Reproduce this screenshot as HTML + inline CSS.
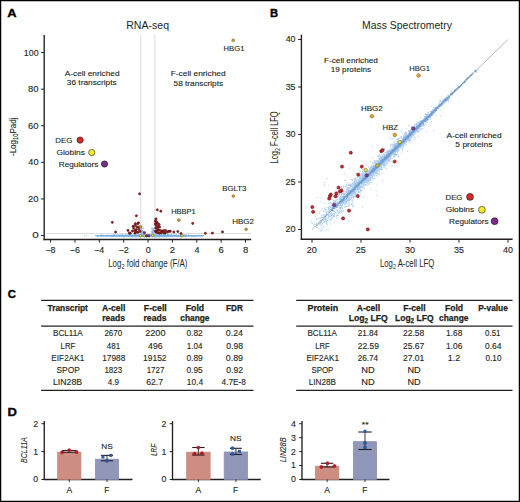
<!DOCTYPE html>
<html><head><meta charset="utf-8"><style>
html,body{margin:0;padding:0;background:#fff;}
svg{display:block;font-family:"Liberation Sans",sans-serif;}
</style></head><body>
<svg width="520" height="502" viewBox="0 0 520 502" fill="#231f20">
<rect x="0" y="0" width="520" height="502" fill="#fff"/>
<text x="7.35" y="17.10" font-size="11.7" textLength="9.34" lengthAdjust="spacingAndGlyphs" font-weight="bold" fill="#000" stroke="#000" stroke-width="0.35">A</text>
<text x="270.05" y="17.00" font-size="11.7" textLength="8.11" lengthAdjust="spacingAndGlyphs" font-weight="bold" fill="#000" stroke="#000" stroke-width="0.35">B</text>
<text x="7.75" y="297.60" font-size="11.7" textLength="8.30" lengthAdjust="spacingAndGlyphs" font-weight="bold" fill="#000" stroke="#000" stroke-width="0.35">C</text>
<text x="7.50" y="416.40" font-size="11.7" textLength="9.39" lengthAdjust="spacingAndGlyphs" font-weight="bold" fill="#000" stroke="#000" stroke-width="0.35">D</text>
<text x="126.25" y="29.00" font-size="10.6" textLength="42.77" lengthAdjust="spacingAndGlyphs">RNA-seq</text>
<line x1="140.60" y1="34.50" x2="140.60" y2="239.00" stroke="#e6e6e6" stroke-width="1.5"/>
<line x1="154.80" y1="34.50" x2="154.80" y2="239.00" stroke="#e6e6e6" stroke-width="1.5"/>
<line x1="46.00" y1="233.50" x2="251.00" y2="233.50" stroke="#d5d5d5" stroke-width="0.8"/>
<path d="M143.4 236.0h0M143.9 235.7h0M131.1 235.7h0M168.4 236.0h0M167.0 235.9h0M155.3 235.9h0M117.6 236.2h0M157.3 236.0h0M117.1 235.0h0M131.8 235.6h0M153.6 235.8h0M157.6 235.5h0M153.7 236.0h0M136.0 236.6h0M158.2 236.3h0M136.7 235.5h0M141.8 235.8h0M159.6 235.9h0M139.9 235.4h0M138.5 236.3h0M133.3 235.9h0M155.8 235.1h0M148.9 236.4h0M111.2 235.7h0M146.1 235.4h0M157.1 235.8h0M121.3 236.2h0M160.3 236.2h0M174.4 236.0h0M150.2 235.2h0M159.3 235.5h0M139.8 235.2h0M130.4 235.6h0M171.6 234.9h0M121.4 235.9h0M174.4 236.1h0M113.3 234.7h0M154.6 235.5h0M127.6 236.2h0M168.2 235.9h0M152.5 236.0h0M177.2 236.1h0M157.5 236.0h0M119.4 236.4h0M165.5 236.0h0M112.0 235.5h0M163.4 235.0h0M144.7 236.3h0M124.1 236.5h0M158.1 235.7h0M154.0 236.1h0M150.2 236.3h0M136.0 235.6h0M167.1 235.8h0M132.0 236.2h0M174.8 235.6h0M122.8 235.7h0M145.3 235.7h0M173.7 235.3h0M171.1 235.2h0M133.7 236.1h0M168.7 236.2h0M154.4 235.9h0M150.8 236.1h0M144.8 235.9h0M158.5 235.8h0M162.0 236.1h0M184.8 235.9h0M140.2 235.6h0M147.8 236.2h0M141.9 236.0h0M181.6 234.6h0M127.5 235.9h0M155.3 235.9h0M140.2 236.1h0M153.2 235.6h0M192.4 236.0h0M137.9 235.8h0M143.9 235.8h0M98.2 235.6h0M166.5 235.3h0M146.8 236.2h0M163.7 236.5h0M117.0 235.6h0M141.8 236.1h0M168.0 234.6h0M167.9 235.1h0M160.5 235.1h0M151.3 236.3h0M145.3 235.9h0M162.6 235.9h0M146.4 236.5h0M167.2 235.7h0M198.2 235.3h0M164.8 235.7h0M150.5 236.1h0M152.1 236.1h0M120.1 235.1h0M159.3 235.4h0M129.3 235.1h0M171.2 236.1h0M175.0 235.4h0M148.1 235.3h0M162.0 236.5h0M131.8 236.5h0M166.1 235.7h0M112.0 236.4h0M146.3 235.5h0M155.4 236.0h0M175.4 235.3h0M168.8 236.5h0M174.6 235.7h0M134.5 236.3h0M150.2 235.9h0M174.1 235.7h0M106.1 235.6h0M114.2 236.2h0M153.8 235.5h0M147.9 236.2h0M149.5 236.4h0M146.9 236.3h0M175.3 236.5h0M135.8 236.2h0M113.8 235.3h0M112.2 236.3h0M125.5 235.8h0M144.5 235.8h0M137.2 235.9h0M180.8 235.8h0M157.8 236.3h0M144.4 235.2h0M137.9 236.3h0M118.0 235.5h0M166.5 236.2h0M148.2 236.2h0M151.1 235.3h0M119.5 235.5h0M164.9 235.5h0M131.6 235.5h0M120.1 235.7h0M126.5 236.0h0M104.9 235.9h0M136.3 234.9h0M161.3 235.7h0M107.3 235.4h0M153.4 235.6h0M162.3 236.1h0M160.2 235.9h0M172.4 236.1h0M156.3 234.9h0M164.4 236.4h0M142.6 235.6h0M183.5 235.0h0M156.6 236.9h0M131.1 236.1h0M182.5 235.7h0M158.3 236.2h0M131.5 235.8h0M153.4 236.2h0M147.4 235.7h0M129.5 235.6h0M164.3 235.8h0M132.5 235.4h0M196.8 236.3h0M159.7 234.6h0M159.4 236.0h0M178.8 236.0h0M146.8 236.0h0M112.5 236.3h0M154.0 235.5h0M172.3 236.6h0M122.4 235.5h0M153.4 235.9h0M140.8 235.4h0M186.8 236.3h0M126.2 235.2h0M179.2 236.2h0M181.3 236.2h0M132.1 235.9h0M108.6 235.5h0M147.0 236.0h0M134.8 235.7h0M156.4 236.0h0M159.7 235.9h0M142.1 236.2h0M149.0 235.4h0M136.6 235.8h0M146.0 235.9h0M148.0 235.9h0M145.6 235.2h0M155.7 236.3h0M156.0 235.7h0M156.2 235.4h0M113.4 235.8h0M131.0 236.1h0M128.2 234.6h0M129.1 236.5h0M141.1 235.2h0M134.1 236.0h0M157.1 235.9h0M175.2 236.1h0M147.7 236.1h0M178.3 236.2h0M166.8 235.3h0M145.3 236.1h0M142.6 236.3h0M158.9 236.2h0M144.2 236.9h0M170.7 235.7h0M149.7 237.0h0M141.8 236.2h0M166.0 235.8h0M126.7 235.9h0M154.6 236.3h0M162.4 235.8h0M163.6 236.0h0M151.8 235.8h0M143.6 236.1h0M128.8 235.5h0M148.1 235.1h0M140.1 234.9h0M135.6 236.1h0M158.4 235.8h0M143.8 235.2h0M181.4 236.0h0M168.0 235.4h0M144.7 235.0h0M162.3 236.2h0M113.4 235.8h0M159.6 235.0h0M114.7 235.3h0M136.6 235.2h0M148.6 235.9h0M159.6 236.1h0M175.5 236.3h0M124.1 235.6h0M128.7 235.3h0M146.6 235.8h0M157.0 235.1h0M125.4 235.8h0M144.4 235.7h0M146.9 235.5h0M160.9 236.0h0M146.4 235.5h0M144.9 234.6h0M130.1 235.8h0M120.6 235.9h0M150.7 235.2h0M143.5 235.7h0M156.5 236.1h0M147.4 235.4h0M145.4 235.8h0M161.5 235.9h0M134.8 235.2h0M141.2 235.5h0M127.7 235.7h0M139.1 235.8h0M157.6 235.6h0M190.5 235.7h0M168.2 235.9h0M168.4 234.7h0M134.3 235.9h0M159.1 236.9h0M153.9 236.4h0M162.1 236.2h0M157.4 235.7h0M157.4 235.3h0M169.6 235.3h0M152.6 236.8h0M144.0 235.8h0M169.3 235.8h0M133.3 235.9h0M158.7 236.1h0M133.9 236.6h0M178.5 235.8h0M153.0 235.6h0M173.9 235.5h0M160.4 235.6h0M135.4 236.1h0M172.4 235.8h0M135.7 236.2h0M147.1 235.9h0M175.9 236.3h0M138.6 236.8h0M148.1 236.2h0M136.2 235.8h0M116.1 236.6h0M173.0 235.3h0M120.6 235.1h0M169.5 235.6h0M146.9 235.7h0M145.8 235.3h0M148.5 235.2h0M146.7 235.9h0M156.6 235.7h0M131.5 235.9h0M139.2 236.5h0M162.1 235.7h0M139.4 235.5h0M130.9 235.6h0M153.4 236.0h0M158.4 236.7h0M135.2 235.8h0M199.1 235.0h0M138.5 235.9h0M150.9 236.0h0M143.7 236.0h0M149.0 236.1h0M113.5 235.4h0M148.0 235.3h0M129.0 236.1h0M136.2 236.1h0M161.7 235.9h0M157.3 235.8h0M122.3 235.8h0M156.3 235.6h0M146.2 236.1h0M132.0 236.1h0M182.1 235.6h0M150.7 235.7h0M176.2 235.9h0M164.5 235.5h0M147.8 235.8h0M115.6 236.4h0M164.5 235.0h0M161.6 235.7h0M156.2 236.0h0M120.7 235.7h0M175.3 235.5h0M129.4 235.2h0M125.7 236.0h0M179.0 236.0h0M152.5 236.8h0M138.6 235.5h0M157.7 236.0h0M129.5 235.3h0M153.4 235.9h0M124.2 235.7h0M138.1 236.0h0M145.9 235.8h0M141.6 236.3h0M173.5 235.6h0M163.5 235.5h0M149.4 236.1h0M175.7 235.6h0M146.7 235.9h0M120.7 235.8h0M135.7 236.0h0M127.4 234.9h0M148.7 235.9h0M138.0 236.2h0M143.1 235.5h0M156.8 235.1h0M135.7 235.8h0M163.6 235.7h0M153.7 235.5h0M153.6 236.5h0M135.5 236.9h0M136.3 235.8h0M151.2 236.3h0M125.4 234.9h0M159.1 236.2h0M159.4 237.0h0M151.8 235.9h0M165.0 236.0h0M178.4 235.2h0M141.2 234.2h0M162.9 235.6h0M164.9 236.8h0M147.9 235.7h0M138.9 235.4h0M136.5 236.1h0M148.7 235.8h0M144.9 236.2h0M157.1 235.7h0M160.2 235.7h0M127.0 236.5h0M156.6 235.4h0M167.8 236.0h0M119.5 236.5h0M154.1 236.2h0M151.7 235.7h0M119.8 236.2h0M148.6 235.7h0M154.5 235.8h0M160.4 235.6h0M147.4 234.8h0M140.3 236.1h0M172.5 235.6h0M145.8 236.5h0M142.1 236.1h0M178.7 235.8h0M170.5 235.5h0M151.8 235.8h0M150.1 236.3h0M191.7 235.5h0M137.5 236.0h0M128.8 236.0h0M158.5 235.7h0M157.8 235.1h0M161.9 235.1h0M135.3 235.5h0M140.7 236.2h0M149.5 235.6h0M158.0 236.5h0M148.2 236.0h0M170.7 235.9h0M124.6 236.9h0M188.4 234.9h0M147.3 236.0h0M165.7 236.1h0M143.1 235.3h0M149.9 236.3h0M128.1 235.3h0M147.6 234.9h0M143.3 235.6h0M156.3 235.5h0M131.9 235.6h0M147.1 235.5h0M148.3 236.1h0M169.7 236.6h0M133.7 235.6h0M102.7 236.7h0M134.8 235.8h0M157.6 235.2h0M156.5 235.8h0M114.7 235.9h0M169.9 235.0h0M162.8 235.9h0M156.7 236.0h0M171.9 235.7h0M164.0 235.6h0M161.3 235.4h0M146.1 236.6h0M156.2 235.7h0M127.1 235.4h0M151.6 236.2h0M155.8 236.0h0M147.3 236.4h0M140.9 235.6h0M164.3 235.8h0M143.0 235.5h0M143.4 236.1h0M154.5 235.3h0M155.8 235.9h0M129.8 236.1h0M142.9 235.6h0M162.6 236.4h0M135.5 236.0h0M132.0 236.8h0M139.0 236.3h0M136.2 236.2h0M188.6 234.7h0M140.1 236.0h0M146.4 235.5h0M187.4 235.8h0M118.0 236.2h0M116.6 236.3h0M137.5 235.9h0M171.1 235.9h0M122.6 235.0h0M169.7 236.1h0M133.1 236.2h0M157.1 236.1h0M106.8 235.7h0M164.5 236.1h0M164.2 234.7h0M151.1 236.0h0M194.7 235.4h0M142.0 235.8h0M164.2 235.6h0M169.0 235.4h0M152.9 235.6h0M150.9 235.5h0M118.9 236.3h0M153.6 235.5h0M151.7 236.2h0M130.2 235.8h0M157.9 236.0h0M141.9 234.9h0M170.8 235.9h0M148.3 235.7h0M152.9 235.6h0M129.3 235.5h0M137.1 235.5h0M126.9 236.1h0M124.1 236.1h0M129.5 236.0h0M173.2 235.9h0M134.7 235.8h0M150.8 235.0h0M136.9 235.9h0M139.5 235.8h0M161.5 236.1h0M164.6 236.1h0M142.8 235.8h0M143.1 235.7h0M144.8 235.0h0M142.0 235.8h0M130.3 235.8h0M157.5 235.7h0M186.0 234.6h0M144.3 235.0h0M166.0 237.0h0M102.3 235.9h0M157.5 235.7h0M158.1 234.8h0M163.6 236.0h0M148.5 235.5h0M159.7 235.6h0M152.1 235.6h0M107.0 235.8h0M151.7 236.1h0M132.0 235.8h0M159.3 235.9h0M170.7 236.7h0M131.4 234.9h0M163.7 236.5h0M164.9 236.2h0M136.7 235.5h0M164.3 235.4h0M114.9 235.4h0M193.6 236.7h0M135.5 235.5h0M152.3 235.5h0M172.0 235.8h0M128.2 236.4h0M137.4 235.9h0M147.8 235.7h0M154.0 235.5h0M114.4 234.8h0M124.9 235.5h0M147.6 235.8h0M158.2 235.9h0M133.6 235.5h0M109.3 235.7h0M156.9 236.0h0M145.8 235.7h0M165.2 235.8h0M161.5 236.1h0M151.9 236.4h0M137.6 235.6h0M133.3 235.4h0M176.5 236.6h0M148.5 236.1h0M169.5 236.2h0M170.1 235.2h0M136.4 236.0h0M174.3 235.8h0M132.4 235.6h0M136.0 235.4h0M175.5 235.5h0M148.4 236.8h0M169.7 236.0h0M136.9 236.0h0M177.7 236.1h0M171.1 235.8h0M157.5 235.7h0M155.8 236.4h0M121.9 235.8h0M152.4 235.5h0M142.4 236.2h0M184.6 236.1h0M154.0 235.1h0M183.3 235.8h0M147.4 235.3h0M147.0 235.3h0M149.3 236.0h0M148.6 235.9h0M132.5 236.4h0M136.1 235.0h0M144.6 235.5h0M129.6 235.6h0M153.4 235.3h0M145.5 236.4h0M160.5 235.7h0M150.4 235.7h0M147.2 236.1h0M146.4 234.7h0M147.7 235.4h0M159.9 235.5h0M150.8 236.8h0M128.9 235.3h0M122.3 234.7h0M113.7 236.0h0M136.4 235.0h0M121.0 236.1h0M133.9 235.6h0M154.1 236.4h0M183.5 236.3h0M150.7 235.9h0M181.0 236.4h0M142.4 236.0h0M153.3 235.8h0M138.9 235.2h0M138.3 235.1h0M170.4 236.0h0M126.0 236.4h0M164.3 234.9h0M181.7 236.2h0M185.8 235.2h0M157.7 236.0h0M151.7 235.9h0M167.3 235.1h0M125.4 235.2h0M137.9 235.5h0M154.8 235.9h0M148.6 235.5h0M140.0 236.2h0M162.0 235.8h0M142.2 236.5h0M137.2 236.1h0M169.1 235.7h0M163.1 235.3h0M166.5 235.9h0M119.1 236.1h0M131.7 236.4h0M135.6 235.7h0M153.2 235.7h0M152.8 235.6h0M160.3 235.8h0M151.9 234.6h0M169.3 235.8h0M115.5 235.8h0M156.6 236.3h0M128.3 236.5h0M145.1 236.9h0M145.4 236.1h0M141.4 235.3h0M168.1 236.2h0M176.2 236.2h0M137.6 235.1h0M136.2 235.5h0M133.2 236.1h0M154.0 235.7h0M151.2 235.7h0M151.9 236.1h0M165.6 235.5h0M120.5 236.4h0M150.1 236.3h0M118.0 235.7h0M148.5 235.2h0M138.6 236.1h0M167.8 236.5h0M132.3 235.2h0M157.6 236.2h0M151.6 235.2h0M162.3 236.2h0M158.2 235.6h0M153.6 236.2h0M137.8 235.0h0M154.1 236.0h0M148.3 236.2h0M137.3 235.8h0M142.5 236.1h0M177.2 235.7h0M185.6 236.5h0M162.5 236.1h0M180.4 235.7h0M146.0 235.3h0M156.7 236.4h0M157.8 236.0h0M144.4 235.9h0M122.0 236.3h0M140.6 235.3h0M134.3 235.4h0M163.7 236.3h0M123.2 236.2h0M164.3 235.5h0M120.9 235.5h0M136.5 236.0h0M141.5 234.9h0M152.3 235.1h0M164.6 235.3h0M135.4 235.4h0M138.1 236.4h0M163.6 236.1h0M153.9 235.1h0M138.5 235.6h0M130.2 236.0h0M134.5 235.5h0M129.0 234.9h0M158.9 236.4h0M151.2 235.4h0M98.6 235.9h0M170.3 235.9h0M165.0 236.5h0M168.6 235.6h0M167.3 236.1h0M120.0 235.6h0M122.0 235.8h0M158.6 235.3h0M110.5 236.4h0M154.9 236.5h0M123.9 236.3h0M185.9 236.7h0M144.2 235.9h0M145.2 236.2h0M167.0 235.8h0M123.2 236.1h0M139.5 236.1h0M152.9 236.5h0M168.8 235.6h0M154.4 236.6h0M138.2 236.0h0M169.8 236.4h0M157.5 235.2h0M125.0 235.9h0M155.1 236.9h0M132.3 236.3h0M162.1 235.0h0M133.1 235.9h0M139.0 235.7h0M156.6 235.4h0M156.6 235.5h0M138.1 236.0h0M137.6 235.9h0M177.3 235.8h0M145.4 236.1h0M141.4 236.3h0M124.6 236.1h0M138.7 235.4h0M180.4 235.4h0M180.1 236.1h0M174.6 235.4h0M170.0 236.5h0M145.9 235.7h0M192.9 235.9h0M140.3 235.5h0M156.2 235.9h0M151.3 236.6h0M142.1 236.0h0M174.7 235.3h0M167.0 236.6h0M123.3 235.3h0M129.1 235.0h0M156.3 235.0h0M157.2 236.5h0M118.5 235.7h0M113.0 236.2h0M134.6 235.7h0M149.0 236.0h0M141.7 235.8h0M138.1 235.9h0M126.6 235.8h0M112.7 235.6h0M183.0 235.8h0M125.0 235.9h0M130.3 235.1h0M134.6 236.1h0M155.1 235.8h0M131.1 235.3h0M172.7 235.9h0M130.7 234.9h0M123.0 236.9h0M127.1 235.8h0M151.9 235.7h0M143.0 235.2h0M128.8 236.6h0M134.2 236.2h0M117.1 235.7h0M152.8 236.3h0M127.5 236.1h0M155.1 235.5h0M156.8 235.4h0M133.5 235.8h0M98.5 235.8h0M129.8 235.1h0M140.3 236.1h0M140.7 236.4h0M126.9 235.2h0M176.4 236.0h0M165.3 235.4h0M162.7 235.9h0M159.9 235.8h0M170.1 235.5h0M130.4 235.1h0M169.3 235.5h0M129.0 235.4h0M139.9 235.2h0M142.7 235.5h0M138.0 235.4h0M148.7 235.6h0M150.1 235.9h0M154.3 234.8h0M138.3 235.4h0M162.2 235.1h0M135.0 235.7h0M141.9 236.2h0M140.0 236.2h0M121.3 235.0h0M170.3 236.0h0M157.0 235.9h0M156.9 235.3h0M165.4 235.6h0M166.1 235.8h0M112.0 235.2h0M168.7 235.7h0M140.8 235.9h0M140.3 235.6h0M149.9 235.9h0M175.8 235.8h0M182.4 236.6h0M179.4 236.3h0M150.4 235.9h0M145.4 235.5h0M146.8 235.5h0M178.0 236.0h0M139.9 234.9h0M147.1 235.6h0M128.2 235.3h0M106.9 236.1h0M146.8 237.0h0M147.5 235.7h0M174.4 235.9h0M151.1 235.6h0M137.0 236.5h0M166.3 236.6h0M141.7 235.8h0M132.0 236.2h0M122.6 236.1h0M168.1 236.4h0M130.9 236.3h0M135.0 235.5h0M123.9 236.3h0M178.2 235.5h0M134.2 235.6h0M193.9 236.3h0M138.1 235.0h0M135.8 236.3h0M182.2 235.7h0M135.4 235.6h0M113.6 236.2h0M128.2 236.3h0M116.9 235.2h0M153.3 235.5h0M162.3 235.8h0M126.6 236.1h0M163.4 234.9h0M181.4 236.0h0M161.9 235.0h0M134.9 235.6h0M167.7 235.1h0M131.9 234.9h0M143.6 236.0h0M117.2 235.5h0M157.4 236.5h0M160.2 235.7h0M126.5 235.4h0M135.9 235.9h0M147.1 236.6h0M153.3 235.3h0M176.3 236.2h0M149.9 235.5h0M113.9 235.3h0M164.7 235.4h0M123.9 235.9h0M152.5 236.1h0M160.0 236.4h0M132.7 236.2h0M130.0 236.1h0M151.3 235.9h0M165.7 235.8h0M168.4 236.2h0M150.5 235.5h0M134.3 235.6h0M144.4 235.8h0M202.5 236.1h0M162.1 235.4h0M135.1 235.7h0M151.6 235.3h0M177.5 235.5h0M167.8 234.7h0M147.9 235.9h0M151.5 236.1h0M153.2 235.9h0M113.5 235.5h0M105.3 236.1h0M153.7 235.7h0M133.0 235.5h0M181.8 236.6h0M147.0 236.4h0M119.0 234.9h0M139.2 235.4h0M137.8 235.9h0M203.3 235.5h0M149.0 235.9h0M147.4 236.2h0M180.5 235.2h0M151.0 235.7h0M154.6 235.1h0M115.9 234.8h0M157.6 235.9h0M149.4 234.7h0M141.2 235.5h0M122.2 235.4h0M160.8 236.0h0M147.6 236.0h0M137.0 235.8h0M148.8 236.0h0M146.8 235.7h0M145.6 235.5h0M188.9 236.0h0M155.9 236.8h0M173.7 235.1h0M160.8 236.2h0M182.5 236.4h0M162.1 235.3h0M132.1 235.9h0M157.3 235.3h0M141.0 235.6h0M149.2 236.0h0M142.8 235.2h0M170.8 236.5h0M146.1 236.3h0M156.2 236.1h0M156.8 235.5h0M158.5 236.3h0M131.7 236.7h0M186.2 236.6h0M184.4 236.1h0M141.9 235.5h0M133.2 235.9h0M147.4 236.1h0M111.1 236.8h0M189.6 235.8h0M160.4 236.0h0M153.0 235.7h0M145.8 235.4h0M151.3 235.8h0M153.9 235.4h0M148.8 235.8h0M159.1 235.3h0M155.7 236.2h0M159.0 235.6h0M139.1 235.7h0M161.4 236.5h0M145.2 235.5h0M154.9 235.9h0M131.5 235.5h0M146.2 236.1h0M126.3 235.3h0M157.2 235.2h0M150.0 236.0h0M146.0 235.3h0M147.0 235.7h0M154.2 235.4h0M168.0 235.0h0M144.8 235.8h0M165.6 235.5h0M158.0 235.5h0M161.5 236.6h0M140.7 236.0h0M131.1 236.2h0M170.2 235.8h0M127.3 236.0h0M169.0 236.3h0M162.9 235.0h0M135.6 236.4h0M125.7 236.3h0M182.4 236.1h0M168.5 235.7h0M125.7 235.8h0M144.4 235.8h0M160.8 235.7h0M151.6 236.0h0M148.0 236.6h0M156.1 235.8h0M144.3 235.5h0M172.6 235.9h0M128.3 235.5h0M145.6 235.6h0M167.9 235.3h0M157.0 235.9h0M126.5 235.8h0M146.3 236.0h0M139.8 235.9h0M117.6 235.3h0M162.4 236.3h0M147.8 235.5h0M167.8 234.9h0M133.4 236.1h0M160.0 235.3h0M113.6 236.5h0M150.8 235.4h0M149.0 236.2h0M100.7 236.3h0M161.6 234.9h0M162.1 235.0h0M168.9 236.0h0M189.2 235.5h0M148.1 236.3h0M136.4 235.5h0M141.3 235.8h0M128.3 236.0h0M158.0 235.8h0M179.1 235.7h0M171.9 235.6h0M161.9 234.9h0M151.7 235.7h0M139.0 235.5h0M141.7 235.5h0M108.0 235.5h0M138.0 235.6h0M128.7 235.7h0M162.4 235.7h0M139.0 236.4h0M165.9 236.2h0M169.2 235.7h0M145.7 236.3h0M137.9 235.7h0M155.0 236.0h0M143.0 236.2h0M144.8 236.1h0M167.6 236.1h0M161.4 235.3h0M124.1 235.5h0M156.7 236.5h0M125.7 235.9h0M132.4 235.5h0M143.0 236.1h0M151.9 236.3h0M130.0 236.2h0M165.0 235.8h0M156.8 235.5h0M128.1 235.6h0M136.3 237.1h0M139.2 236.5h0M151.7 235.9h0M161.6 235.4h0M164.8 236.0h0M120.4 236.1h0M158.1 236.0h0M177.0 235.6h0M157.4 236.1h0M131.6 236.3h0M121.5 235.2h0M157.6 235.3h0M145.9 235.1h0M149.3 235.3h0M154.3 235.1h0M156.2 235.7h0M149.2 235.8h0M150.4 235.2h0M101.2 235.8h0M131.0 235.6h0M155.8 234.9h0M134.1 235.5h0M128.7 235.9h0M145.5 235.4h0M130.1 236.2h0M136.0 236.1h0M156.3 234.9h0M128.3 235.8h0M154.3 236.2h0M162.7 236.3h0M141.2 235.7h0M162.2 235.6h0M167.4 235.1h0M160.0 235.7h0M112.1 236.2h0M153.7 235.8h0M128.4 235.6h0M175.7 235.4h0M84.6 235.4h0M126.1 235.7h0M140.9 235.4h0M132.7 236.3h0M121.7 236.7h0M138.1 235.3h0M162.4 236.1h0M129.0 236.1h0M114.4 235.4h0M168.6 235.7h0M124.3 236.0h0M164.8 235.8h0M115.0 235.6h0M155.7 236.1h0M181.9 235.7h0M139.2 235.8h0M170.1 235.4h0M171.9 234.6h0M162.6 235.5h0M156.4 236.1h0M126.4 235.8h0M152.4 236.1h0M131.1 235.4h0M112.9 236.9h0M144.5 235.7h0M120.7 236.2h0M138.3 236.4h0M163.6 235.8h0M161.3 235.3h0M142.1 235.5h0M124.9 235.8h0M145.4 236.4h0M86.8 235.5h0M131.3 235.6h0M155.8 236.0h0M148.6 235.6h0M157.1 236.0h0M114.4 235.7h0M122.9 235.3h0M150.7 235.8h0M150.1 235.4h0M144.4 235.4h0M155.0 236.1h0M180.1 236.4h0M133.3 235.6h0M130.9 235.9h0M184.2 236.1h0M107.9 235.2h0M124.4 236.0h0M148.1 235.9h0M180.6 235.4h0M132.6 236.7h0M154.3 235.4h0M111.0 235.1h0M103.4 235.8h0M148.9 236.2h0M145.5 235.5h0M134.5 236.7h0M115.8 235.9h0M148.5 236.1h0M140.7 236.0h0M163.0 235.7h0M139.7 235.7h0M130.4 235.7h0M142.5 235.9h0M172.5 236.4h0M139.9 236.1h0M153.4 236.1h0M148.4 235.9h0M139.5 235.4h0M164.0 236.4h0M160.1 236.0h0M152.9 235.6h0M115.5 236.1h0M151.7 235.6h0M130.4 236.4h0M115.1 236.6h0M159.7 236.9h0M134.9 235.8h0M138.8 235.9h0M144.2 235.5h0M167.7 235.4h0M138.8 236.0h0M138.2 235.6h0M154.6 235.6h0M125.3 235.8h0M144.0 236.6h0M128.0 236.2h0M133.7 235.6h0M142.1 235.9h0M163.8 236.6h0M136.4 236.4h0M166.2 236.2h0M134.2 236.2h0M146.1 236.0h0M143.1 236.1h0M168.4 236.3h0M144.3 236.2h0M174.6 235.4h0M174.9 235.2h0M158.0 236.1h0M175.1 235.9h0M139.3 235.4h0M125.2 236.1h0M143.7 235.5h0M157.8 235.5h0M140.1 235.6h0M178.3 236.5h0M145.2 235.1h0M153.1 235.8h0M154.4 236.1h0M142.2 236.2h0M163.3 235.9h0M140.6 235.6h0M160.7 235.3h0M145.1 235.5h0M122.6 236.1h0M147.6 235.8h0M164.0 235.1h0M146.8 235.9h0M163.3 235.3h0M161.1 235.9h0M172.8 236.3h0M158.1 236.8h0M148.0 235.6h0M141.8 235.4h0M147.5 235.0h0M146.5 236.0h0M166.2 235.6h0M173.4 235.5h0M145.6 235.0h0M134.1 235.4h0M174.7 236.0h0M128.3 236.0h0M156.6 235.7h0M148.5 235.7h0M138.4 235.0h0M146.4 236.4h0M173.6 235.7h0M134.7 235.7h0M164.1 236.0h0M137.6 236.0h0M144.4 236.0h0M140.8 235.2h0M149.1 236.1h0M128.3 235.8h0M163.7 235.6h0M136.5 236.7h0M162.8 236.3h0M131.2 236.5h0M118.6 235.6h0M161.2 236.4h0M131.5 235.5h0M151.5 235.0h0M159.4 236.0h0M140.1 236.0h0M161.8 235.9h0M157.3 236.5h0M139.6 235.9h0M138.8 236.3h0M140.8 236.0h0M150.5 235.8h0M178.5 235.8h0M173.1 236.2h0M171.4 235.7h0M164.5 236.1h0M137.2 235.9h0M145.8 235.8h0M171.0 235.5h0M118.3 235.0h0M140.1 235.5h0M148.3 236.0h0M179.1 235.9h0M156.2 235.5h0M158.3 236.4h0M171.7 235.0h0M163.7 236.5h0M162.6 235.2h0M142.6 236.1h0M155.4 235.4h0M132.4 236.2h0M124.6 236.4h0M148.4 235.9h0M124.6 235.5h0M160.2 235.2h0M184.5 235.2h0M126.6 235.8h0M156.5 236.1h0M141.5 235.7h0M143.9 235.6h0M102.8 236.2h0M152.5 235.9h0M137.0 235.9h0M147.8 235.8h0M167.5 235.1h0M152.5 235.3h0M142.5 236.4h0M129.0 235.8h0M137.7 236.2h0M130.9 235.1h0M157.1 235.6h0M142.4 236.3h0M132.5 235.6h0M150.6 236.0h0M139.0 236.2h0M187.4 235.6h0M180.9 234.9h0M172.7 235.7h0M150.5 235.7h0M136.9 235.2h0M141.1 236.4h0M168.1 235.6h0M138.8 235.5h0M127.0 236.6h0M159.7 235.9h0M139.4 235.4h0M171.1 236.1h0M131.3 236.2h0M128.6 236.1h0M131.2 235.6h0M156.7 236.0h0M165.8 235.4h0M175.7 236.4h0M147.9 236.0h0M134.4 235.7h0M124.9 235.8h0M151.5 236.4h0M164.7 236.2h0M141.7 235.7h0M142.1 235.9h0M114.2 236.1h0M120.6 235.6h0M148.4 235.6h0M177.2 235.8h0M175.6 236.3h0M139.3 236.0h0M170.8 235.7h0M149.6 235.6h0M149.1 235.6h0M149.5 236.2h0M172.5 235.9h0M151.6 236.2h0M143.0 235.3h0M167.5 235.4h0M164.4 235.4h0M180.2 235.3h0M162.9 236.4h0M131.2 236.4h0M133.6 235.0h0M160.7 236.1h0M144.5 234.7h0M147.1 235.7h0M141.4 235.7h0M116.7 235.6h0M179.6 236.5h0M141.7 235.5h0M155.0 236.3h0M160.7 235.3h0M150.9 235.9h0M173.3 236.3h0M157.2 236.3h0M141.1 236.5h0M140.6 236.0h0M164.2 235.4h0M135.7 235.0h0M150.9 235.8h0M142.3 236.0h0M110.9 235.8h0M149.6 235.7h0M162.0 236.6h0M140.2 235.4h0M137.4 235.8h0M158.3 235.4h0M165.6 235.4h0M162.6 236.0h0M156.2 236.7h0M143.4 235.7h0M156.4 236.2h0M124.6 235.9h0M135.0 236.1h0M172.1 235.8h0M146.2 235.9h0M96.2 236.1h0M157.9 235.9h0M141.1 235.5h0M144.9 236.3h0M146.3 236.4h0M102.9 235.6h0M152.9 235.8h0M118.9 235.5h0M170.0 235.2h0M130.7 235.3h0M138.4 236.1h0M158.5 234.9h0M173.7 235.5h0M137.7 236.5h0M146.6 235.3h0M136.8 235.5h0M130.3 235.7h0M163.4 236.0h0M123.8 237.0h0M130.7 235.9h0M148.6 236.1h0M142.3 236.0h0M185.0 235.8h0M129.1 235.9h0M134.0 235.6h0M151.4 235.9h0M143.1 236.2h0M144.7 235.2h0M163.4 235.6h0M169.3 235.5h0M158.1 235.9h0M100.7 235.2h0M128.4 236.4h0M114.9 236.2h0M167.2 236.0h0M159.9 235.6h0M147.9 235.9h0M155.4 236.1h0M144.4 235.5h0M138.2 236.0h0M118.9 235.3h0M140.8 235.6h0M143.3 234.6h0M142.1 235.7h0M161.7 234.9h0M142.7 236.0h0M156.6 236.3h0M166.6 235.3h0M159.2 235.7h0M134.0 236.5h0M137.0 235.4h0M140.9 235.4h0M165.7 236.0h0M172.6 236.0h0M152.5 232.8h0M141.0 228.9h0M142.6 235.2h0M153.4 235.2h0M141.1 232.0h0M141.9 232.6h0M153.6 230.2h0M141.6 235.1h0M152.5 231.6h0M141.5 232.5h0M142.6 231.7h0M141.2 231.1h0M151.8 231.8h0M153.3 234.9h0M142.7 234.1h0M143.4 231.6h0M151.8 234.8h0M142.0 224.4h0M153.5 231.4h0M141.2 230.9h0M153.5 234.4h0M143.5 235.3h0M142.8 230.7h0M152.3 233.3h0M141.0 235.5h0M153.3 233.8h0M143.1 233.2h0M143.1 231.7h0M153.7 228.2h0M153.5 235.5h0M153.1 230.0h0M141.1 231.8h0M152.3 235.2h0M151.8 235.3h0M153.5 233.7h0M152.2 235.1h0M141.3 230.9h0M141.2 234.9h0M153.6 234.6h0M141.8 234.2h0M152.0 227.3h0M151.7 229.1h0M141.3 233.8h0M152.7 230.8h0M142.6 230.6h0M153.5 228.8h0M153.5 235.4h0M153.6 234.7h0M143.3 231.7h0M142.9 227.4h0M141.8 233.6h0M142.2 232.9h0M153.1 229.7h0M153.9 232.9h0M152.3 235.6h0M141.6 231.7h0M153.7 232.5h0M153.7 229.9h0M152.9 230.0h0M142.7 231.3h0M142.4 233.4h0M153.1 235.1h0M153.8 228.6h0M153.8 231.0h0M141.6 233.7h0M141.7 227.6h0M153.9 233.8h0M153.2 232.0h0M153.4 235.6h0M142.8 232.7h0M141.7 230.3h0M153.1 234.4h0M153.2 235.1h0M141.0 234.3h0M141.4 232.2h0M153.2 232.7h0M143.0 234.8h0M142.1 234.0h0M152.7 235.4h0M152.5 233.9h0M151.8 234.3h0M153.5 233.2h0M152.3 233.1h0M152.1 235.4h0M153.0 234.3h0M141.2 233.6h0M152.5 232.8h0M141.2 231.6h0M143.3 228.9h0M142.9 228.5h0M143.1 235.6h0M151.9 232.0h0M143.1 234.8h0M152.2 232.0h0M141.6 232.9h0M152.7 233.2h0M151.8 231.9h0M141.1 229.4h0M141.3 229.8h0M141.3 234.1h0M141.5 235.1h0M141.2 231.5h0M142.2 231.1h0M141.6 233.7h0M152.9 228.9h0M151.9 228.5h0M152.9 235.5h0M152.2 233.3h0M141.7 231.8h0M151.9 233.7h0M141.8 234.0h0M141.3 230.2h0M152.8 235.4h0M152.8 235.1h0M142.2 235.3h0M142.3 230.9h0M153.1 231.4h0M153.3 230.2h0M152.5 233.6h0M142.6 234.2h0M151.9 235.4h0M141.4 234.6h0M143.0 227.8h0M142.8 231.1h0M143.5 235.1h0M153.8 231.3h0M143.6 233.7h0M152.1 233.8h0M152.7 234.2h0M142.1 226.0h0M142.8 232.0h0M143.2 235.1h0M142.6 235.4h0M153.3 231.4h0M141.6 228.6h0M141.4 229.0h0M153.0 234.6h0M141.4 234.7h0M152.7 228.9h0M153.6 231.3h0M152.3 232.0h0M143.4 234.2h0M141.0 234.8h0M153.6 232.6h0M142.4 231.6h0M152.8 230.0h0M141.6 232.8h0M153.7 231.4h0M152.1 228.4h0M152.1 231.9h0M152.3 235.3h0M153.2 232.0h0M143.0 232.6h0M153.5 232.6h0M142.3 233.0h0M152.1 230.2h0M153.4 235.2h0M152.2 231.6h0M143.6 233.4h0M152.5 234.0h0" stroke="#8ebbe9" stroke-width="1.0" stroke-linecap="round" fill="none"/>
<path d="M132.3 235.4h0M124.1 235.8h0M146.0 236.5h0M156.7 235.9h0M201.5 236.2h0M173.6 235.9h0M131.8 235.9h0M112.0 235.9h0M178.2 236.3h0M141.7 236.1h0M154.0 235.5h0M166.6 235.6h0M160.6 235.6h0M124.2 236.2h0M172.3 235.8h0M129.7 235.3h0M178.8 236.1h0M126.4 235.8h0M152.3 235.9h0M97.9 235.7h0M147.3 235.5h0M135.3 235.4h0M201.8 235.9h0M106.4 236.3h0M99.9 235.9h0M150.1 235.9h0M155.7 236.1h0M135.6 236.4h0M112.7 236.0h0M194.5 236.2h0M114.1 236.3h0M122.6 235.9h0M201.0 235.4h0M133.4 235.8h0M181.7 235.5h0M192.6 235.9h0M108.3 235.8h0M165.3 235.7h0M139.5 235.9h0M156.7 235.7h0M140.3 236.4h0M163.3 235.4h0M120.6 235.8h0M142.9 236.0h0M121.4 235.9h0M165.0 236.3h0M128.5 236.0h0M157.2 235.8h0M113.5 236.2h0M125.2 235.3h0M176.5 235.9h0M132.0 235.6h0M148.3 235.9h0M169.2 235.7h0M160.2 235.4h0M190.4 235.9h0M119.1 236.0h0M179.5 235.6h0M188.4 236.0h0M202.3 236.3h0M128.4 235.9h0M200.1 235.8h0M97.9 235.9h0M174.9 235.7h0M107.2 236.0h0M106.5 236.2h0M132.9 236.2h0M190.4 235.6h0M200.7 236.0h0M180.8 235.8h0M170.0 236.1h0M121.4 235.9h0M142.5 235.8h0M201.9 235.8h0M130.4 235.9h0M148.5 235.7h0M111.3 235.6h0M169.5 235.9h0M112.6 235.8h0M108.8 235.4h0M134.4 235.1h0M133.9 235.8h0M119.7 236.4h0M174.4 235.7h0M125.8 235.9h0M104.2 236.0h0M101.5 235.5h0M155.9 235.8h0M135.3 236.3h0M166.1 235.8h0M154.5 235.4h0M201.0 235.7h0M189.5 235.7h0M130.6 235.5h0M141.3 236.1h0M137.7 235.7h0M140.3 236.5h0M97.5 236.6h0M161.3 236.0h0M161.6 235.7h0M136.8 235.8h0M109.2 236.0h0M186.2 235.9h0M102.1 235.2h0M170.5 235.6h0M155.1 236.2h0M130.3 235.8h0M176.0 235.8h0M187.3 235.4h0M202.3 235.8h0M121.7 235.5h0M137.0 235.4h0M172.4 235.5h0M161.8 236.0h0M168.7 235.6h0M154.4 236.2h0M120.6 235.6h0M193.2 235.6h0M147.0 235.7h0M147.4 235.4h0M120.3 236.2h0M152.9 236.3h0M152.4 235.3h0M122.2 235.7h0M115.2 235.9h0M164.8 235.5h0M184.6 236.3h0M101.5 235.4h0M137.3 236.1h0M109.9 235.3h0M113.2 235.8h0M134.7 235.9h0M182.0 235.5h0M106.2 235.8h0M138.8 236.3h0M144.5 235.8h0M147.6 236.0h0M112.8 235.3h0M169.0 235.6h0M122.1 236.1h0M136.2 235.6h0M98.8 236.0h0M118.2 235.7h0M115.8 235.8h0M173.0 235.8h0M122.5 236.1h0M185.3 236.2h0M187.9 236.0h0M118.3 235.3h0M162.4 236.0h0M136.3 236.1h0M135.8 235.9h0M172.4 235.7h0M165.6 236.1h0M182.8 235.6h0M158.2 236.0h0M194.9 236.1h0M172.3 236.5h0M136.4 235.7h0M104.4 235.6h0M177.0 235.5h0M149.5 236.1h0M192.4 235.8h0M159.7 235.7h0M145.9 235.2h0M140.9 235.9h0M147.1 236.0h0M149.0 235.6h0M151.1 236.0h0M175.4 235.4h0M139.5 236.2h0M155.6 235.9h0M178.4 235.8h0M120.3 235.7h0M105.1 235.9h0M106.2 235.7h0M176.7 235.7h0M169.1 235.8h0M172.2 235.7h0M170.1 235.8h0M141.2 234.9h0M183.5 235.3h0M189.3 236.0h0M151.8 236.0h0M97.5 236.0h0M124.7 235.8h0M130.1 235.8h0M155.8 236.4h0M151.0 235.7h0M129.2 235.8h0M188.7 236.0h0M124.1 235.2h0M118.3 236.2h0M136.5 235.9h0M146.1 235.4h0M135.6 235.8h0M181.8 236.0h0M155.8 236.4h0M102.3 235.7h0M140.2 236.1h0M156.8 235.7h0M181.3 236.0h0M127.8 235.7h0M159.6 235.3h0M145.1 236.1h0M189.9 235.7h0M103.0 235.4h0M102.1 236.0h0M188.3 236.2h0M116.0 236.0h0M194.6 235.3h0M149.7 235.6h0M168.3 235.7h0M119.3 235.6h0M185.7 236.2h0M118.8 236.3h0M107.6 236.2h0M197.7 236.1h0M140.8 235.7h0M192.9 235.6h0M169.6 235.9h0M170.6 235.9h0M101.3 235.9h0M121.5 235.6h0M158.6 235.6h0M113.2 236.1h0M193.5 235.5h0M113.0 236.3h0M181.6 236.1h0M100.4 235.8h0M137.2 235.7h0M154.7 235.6h0M106.8 235.3h0M142.4 235.9h0M168.8 236.2h0M109.8 236.2h0M194.7 236.5h0M152.7 235.8h0M127.7 235.5h0M149.5 236.2h0M195.4 236.1h0M188.4 236.0h0M160.2 235.7h0M111.7 235.8h0M125.6 236.3h0M121.0 235.4h0M194.9 236.2h0M199.4 235.9h0M133.4 236.2h0M102.2 235.6h0M132.2 235.6h0M175.6 235.9h0M115.8 235.9h0M104.3 235.6h0M156.1 236.1h0M180.4 236.0h0M160.0 235.7h0M151.3 235.8h0M107.2 235.7h0M158.1 235.7h0M134.3 235.5h0M114.3 236.1h0M114.9 236.1h0M186.1 235.7h0M189.4 235.6h0M106.9 235.8h0M190.0 236.1h0M153.7 236.0h0M109.4 235.6h0M153.6 235.8h0M150.6 235.7h0M139.7 235.9h0M118.5 236.0h0M189.2 236.0h0M150.1 235.8h0M196.9 235.8h0M148.6 235.9h0M169.9 235.4h0M121.2 235.8h0M124.9 235.6h0M100.2 235.5h0M127.8 236.0h0M191.3 236.1h0M121.7 236.0h0M160.0 235.9h0M103.5 235.3h0M122.9 235.1h0M101.3 235.3h0M162.4 235.6h0M133.1 235.3h0M182.8 235.1h0M98.0 236.0h0M196.5 235.5h0M106.2 236.0h0M122.8 235.8h0M112.9 235.4h0M133.4 235.9h0M120.2 236.0h0M132.0 236.8h0M180.8 235.6h0M147.7 235.3h0M193.1 235.8h0M176.5 235.7h0M163.1 235.6h0M186.5 235.8h0M172.9 235.7h0M133.9 236.2h0M168.2 236.5h0M175.9 236.2h0M196.2 236.2h0M192.8 235.8h0M181.9 235.2h0M159.5 235.3h0M180.0 236.0h0M189.2 235.6h0M153.2 236.5h0M197.1 236.4h0M180.3 236.3h0M123.6 235.9h0M117.9 235.6h0M145.4 235.8h0M193.1 236.1h0M169.5 235.7h0M180.0 235.5h0M181.0 235.5h0M184.4 235.1h0M139.9 236.2h0M185.5 236.0h0M132.9 235.3h0M180.9 235.5h0M97.4 235.7h0M108.6 235.8h0M183.0 235.4h0M145.4 236.0h0M132.4 235.9h0M186.4 236.1h0M162.5 235.8h0M125.6 235.9h0M171.2 235.4h0M182.4 236.0h0M109.7 235.8h0M184.1 235.7h0M116.4 235.7h0M135.3 236.5h0M120.7 236.1h0M191.6 235.5h0M138.7 235.1h0M150.6 235.8h0M201.6 236.0h0M114.1 236.3h0M152.8 236.0h0M197.0 235.8h0M145.1 235.9h0M134.2 235.6h0M107.6 235.2h0M151.3 235.6h0M136.8 236.4h0M167.5 235.5h0M104.9 235.6h0M198.4 235.6h0M135.2 235.6h0M136.7 235.4h0M152.2 235.5h0M149.7 235.2h0M135.4 235.9h0M185.4 235.8h0M169.3 235.5h0M176.5 235.7h0M191.3 235.7h0M100.6 235.3h0M131.4 236.3h0M191.4 236.4h0M112.2 235.5h0M101.8 235.6h0M138.5 235.8h0M126.7 235.4h0M177.7 235.7h0M141.5 236.2h0M200.5 235.5h0M168.6 235.4h0M137.2 236.3h0M170.1 235.7h0M126.3 236.0h0M184.4 236.1h0M181.0 235.7h0M151.6 235.9h0M189.9 236.1h0M115.0 236.2h0M130.0 236.0h0M137.5 235.9h0M199.4 236.0h0M129.7 235.8h0M196.9 235.9h0M143.3 236.0h0M108.4 235.8h0M137.7 236.1h0M199.0 235.8h0M193.2 236.0h0M144.6 236.0h0M179.4 235.4h0M130.2 236.1h0M146.7 236.2h0M156.1 235.6h0M126.1 235.4h0M135.3 236.1h0M127.5 235.6h0M163.7 235.8h0M101.3 236.3h0M184.5 235.5h0M196.5 235.7h0M125.0 235.8h0M155.0 235.9h0M176.8 235.7h0M182.5 235.5h0M108.7 235.6h0M199.4 236.2h0M164.1 235.6h0M138.7 235.3h0M196.5 235.8h0M138.5 235.5h0M182.3 235.7h0M189.3 236.0h0M153.2 235.4h0M192.4 235.7h0M111.0 235.7h0M140.7 235.9h0M150.1 236.1h0M158.1 235.4h0M139.7 235.6h0M186.4 235.7h0M180.4 235.9h0M168.1 235.7h0M176.8 235.2h0M192.1 235.8h0M175.6 236.0h0M190.0 235.4h0M110.8 235.7h0M161.8 235.4h0M126.0 236.2h0M184.2 236.0h0M125.8 235.8h0M106.8 236.0h0M168.5 236.3h0M135.0 235.7h0M171.0 236.3h0M131.3 236.1h0M97.3 235.7h0M126.0 235.7h0M103.2 235.4h0M182.4 235.9h0M101.1 235.9h0M120.7 235.7h0M163.6 235.7h0M157.1 236.0h0M120.0 235.9h0M185.8 235.6h0M182.6 235.7h0M179.3 235.8h0M99.9 235.5h0M103.6 235.8h0M163.7 235.7h0M139.3 235.4h0M151.2 235.6h0M188.8 235.7h0M202.4 236.1h0M131.8 235.1h0M201.4 236.1h0M111.1 235.9h0M145.0 235.6h0M145.1 235.4h0M133.1 235.9h0M126.8 236.1h0M117.5 235.8h0M143.4 235.4h0M117.8 235.7h0M125.0 235.6h0M156.3 235.6h0M176.1 235.0h0M197.4 236.2h0M173.1 235.6h0M103.5 235.8h0M188.4 235.8h0M173.4 235.6h0M134.6 235.6h0M114.2 235.2h0M129.3 235.1h0M101.6 235.9h0M192.2 236.1h0M182.1 235.7h0M108.2 235.8h0M113.2 235.9h0M201.9 235.5h0M193.5 235.9h0M184.0 235.5h0M110.5 236.1h0M150.7 236.0h0M119.1 235.8h0M193.2 235.9h0M172.2 236.6h0M143.2 235.5h0" stroke="#8ebbe9" stroke-width="1.2" stroke-linecap="round" fill="none"/>
<line x1="95.00" y1="235.60" x2="204.00" y2="235.60" stroke="#7aabe0" stroke-width="0.8"/>
<line x1="44.20" y1="35.00" x2="44.20" y2="240.20" stroke="#231f20" stroke-width="1.35"/>
<line x1="43.50" y1="239.50" x2="251.20" y2="239.50" stroke="#231f20" stroke-width="1.4"/>
<line x1="40.90" y1="235.50" x2="44.20" y2="235.50" stroke="#231f20" stroke-width="1.0"/>
<text x="32.30" y="238.40" font-size="9" textLength="6.44" lengthAdjust="spacingAndGlyphs" stroke="#231f20" stroke-width="0.12">0</text>
<line x1="40.90" y1="198.92" x2="44.20" y2="198.92" stroke="#231f20" stroke-width="1.0"/>
<text x="28.10" y="201.82" font-size="9" textLength="10.46" lengthAdjust="spacingAndGlyphs" stroke="#231f20" stroke-width="0.12">20</text>
<line x1="40.90" y1="162.34" x2="44.20" y2="162.34" stroke="#231f20" stroke-width="1.0"/>
<text x="28.35" y="165.24" font-size="9" textLength="10.19" lengthAdjust="spacingAndGlyphs" stroke="#231f20" stroke-width="0.12">40</text>
<line x1="40.90" y1="125.76" x2="44.20" y2="125.76" stroke="#231f20" stroke-width="1.0"/>
<text x="28.10" y="128.66" font-size="9" textLength="10.46" lengthAdjust="spacingAndGlyphs" stroke="#231f20" stroke-width="0.12">60</text>
<line x1="40.90" y1="89.18" x2="44.20" y2="89.18" stroke="#231f20" stroke-width="1.0"/>
<text x="28.10" y="92.08" font-size="9" textLength="10.46" lengthAdjust="spacingAndGlyphs" stroke="#231f20" stroke-width="0.12">80</text>
<line x1="40.90" y1="52.60" x2="44.20" y2="52.60" stroke="#231f20" stroke-width="1.0"/>
<text x="23.85" y="55.50" font-size="9" textLength="14.73" lengthAdjust="spacingAndGlyphs" stroke="#231f20" stroke-width="0.12">100</text>
<line x1="50.61" y1="239.40" x2="50.61" y2="242.60" stroke="#231f20" stroke-width="1.0"/>
<text x="45.41" y="252.90" font-size="8.7" textLength="10.15" lengthAdjust="spacingAndGlyphs" stroke="#231f20" stroke-width="0.12">−8</text>
<line x1="74.97" y1="239.40" x2="74.97" y2="242.60" stroke="#231f20" stroke-width="1.0"/>
<text x="69.77" y="252.90" font-size="8.7" textLength="10.15" lengthAdjust="spacingAndGlyphs" stroke="#231f20" stroke-width="0.12">−6</text>
<line x1="99.33" y1="239.40" x2="99.33" y2="242.60" stroke="#231f20" stroke-width="1.0"/>
<text x="94.13" y="252.90" font-size="8.7" textLength="10.15" lengthAdjust="spacingAndGlyphs" stroke="#231f20" stroke-width="0.12">−4</text>
<line x1="123.69" y1="239.40" x2="123.69" y2="242.60" stroke="#231f20" stroke-width="1.0"/>
<text x="118.49" y="252.90" font-size="8.7" textLength="10.42" lengthAdjust="spacingAndGlyphs" stroke="#231f20" stroke-width="0.12">−2</text>
<line x1="148.05" y1="239.40" x2="148.05" y2="242.60" stroke="#231f20" stroke-width="1.0"/>
<text x="145.75" y="252.90" font-size="8.7" textLength="5.02" lengthAdjust="spacingAndGlyphs" stroke="#231f20" stroke-width="0.12">0</text>
<line x1="172.41" y1="239.40" x2="172.41" y2="242.60" stroke="#231f20" stroke-width="1.0"/>
<text x="169.86" y="252.90" font-size="8.7" textLength="5.32" lengthAdjust="spacingAndGlyphs" stroke="#231f20" stroke-width="0.12">2</text>
<line x1="196.77" y1="239.40" x2="196.77" y2="242.60" stroke="#231f20" stroke-width="1.0"/>
<text x="194.47" y="252.90" font-size="8.7" textLength="5.02" lengthAdjust="spacingAndGlyphs" stroke="#231f20" stroke-width="0.12">4</text>
<line x1="221.13" y1="239.40" x2="221.13" y2="242.60" stroke="#231f20" stroke-width="1.0"/>
<text x="218.58" y="252.90" font-size="8.7" textLength="5.30" lengthAdjust="spacingAndGlyphs" stroke="#231f20" stroke-width="0.12">6</text>
<line x1="245.49" y1="239.40" x2="245.49" y2="242.60" stroke="#231f20" stroke-width="1.0"/>
<text x="242.94" y="252.90" font-size="8.7" textLength="5.30" lengthAdjust="spacingAndGlyphs" stroke="#231f20" stroke-width="0.12">8</text>
<text x="108.15" y="266.70" font-size="10" textLength="79.36" lengthAdjust="spacingAndGlyphs">Log<tspan font-size="7" dy="2.3">2</tspan><tspan dy="-2.3"> fold change (F/A)</tspan></text>
<g transform="translate(15.90,0) rotate(-90)">
<text x="-156.05" y="0.00" font-size="9.2" textLength="38.65" lengthAdjust="spacingAndGlyphs" stroke="#231f20" stroke-width="0.12">-Log<tspan font-size="6.6" dy="2.3">10</tspan><tspan dy="-2.3">Padj</tspan></text>
</g>
<text x="64.70" y="76.10" font-size="8" textLength="54.90" lengthAdjust="spacingAndGlyphs" stroke="#231f20" stroke-width="0.12">A-cell enriched</text>
<text x="66.85" y="85.40" font-size="8" textLength="49.75" lengthAdjust="spacingAndGlyphs" stroke="#231f20" stroke-width="0.12">36 transcripts</text>
<text x="170.65" y="76.20" font-size="8" textLength="55.01" lengthAdjust="spacingAndGlyphs" stroke="#231f20" stroke-width="0.12">F-cell enriched</text>
<text x="173.55" y="85.50" font-size="8" textLength="49.60" lengthAdjust="spacingAndGlyphs" stroke="#231f20" stroke-width="0.12">58 transcripts</text>
<text x="223.60" y="50.60" font-size="8" textLength="20.80" lengthAdjust="spacingAndGlyphs" stroke="#231f20" stroke-width="0.12">HBG1</text>
<text x="222.30" y="190.80" font-size="8" textLength="24.15" lengthAdjust="spacingAndGlyphs" stroke="#231f20" stroke-width="0.12">BGLT3</text>
<text x="232.15" y="224.00" font-size="8" textLength="21.87" lengthAdjust="spacingAndGlyphs" stroke="#231f20" stroke-width="0.12">HBG2</text>
<text x="171.20" y="213.80" font-size="8" textLength="24.60" lengthAdjust="spacingAndGlyphs" stroke="#231f20" stroke-width="0.12">HBBP1</text>
<text x="55.30" y="142.70" font-size="8" textLength="17.07" lengthAdjust="spacingAndGlyphs" stroke="#231f20" stroke-width="0.12">DEG</text>
<text x="56.40" y="154.70" font-size="8" textLength="28.60" lengthAdjust="spacingAndGlyphs" stroke="#231f20" stroke-width="0.12">Globins</text>
<text x="58.75" y="166.50" font-size="8" textLength="39.56" lengthAdjust="spacingAndGlyphs" stroke="#231f20" stroke-width="0.12">Regulators</text>
<circle cx="80.10" cy="140.10" r="3.1" fill="#d42a2a" stroke="#3a1a1a" stroke-width="0.7"/>
<circle cx="91.70" cy="152.50" r="3.1" fill="#f5ea2a" stroke="#3a3a2a" stroke-width="0.7"/>
<circle cx="104.50" cy="164.00" r="3.1" fill="#7f2a8f" stroke="#2a1a2a" stroke-width="0.7"/>
<circle cx="112.30" cy="222.30" r="1.1" fill="#b01518" stroke="#3a0c0c" stroke-width="0.55"/>
<circle cx="115.60" cy="232.00" r="1.1" fill="#b01518" stroke="#3a0c0c" stroke-width="0.55"/>
<circle cx="136.40" cy="215.80" r="1.1" fill="#b01518" stroke="#3a0c0c" stroke-width="0.55"/>
<circle cx="139.60" cy="193.80" r="1.1" fill="#b01518" stroke="#3a0c0c" stroke-width="0.55"/>
<circle cx="138.40" cy="222.80" r="1.1" fill="#b01518" stroke="#3a0c0c" stroke-width="0.55"/>
<circle cx="135.40" cy="223.70" r="1.1" fill="#b01518" stroke="#3a0c0c" stroke-width="0.55"/>
<circle cx="133.20" cy="226.20" r="1.1" fill="#b01518" stroke="#3a0c0c" stroke-width="0.55"/>
<circle cx="135.40" cy="225.40" r="1.1" fill="#b01518" stroke="#3a0c0c" stroke-width="0.55"/>
<circle cx="138.00" cy="223.70" r="1.1" fill="#b01518" stroke="#3a0c0c" stroke-width="0.55"/>
<circle cx="137.10" cy="227.10" r="1.1" fill="#b01518" stroke="#3a0c0c" stroke-width="0.55"/>
<circle cx="139.30" cy="227.10" r="1.1" fill="#b01518" stroke="#3a0c0c" stroke-width="0.55"/>
<circle cx="138.80" cy="229.30" r="1.1" fill="#b01518" stroke="#3a0c0c" stroke-width="0.55"/>
<circle cx="136.20" cy="229.70" r="1.1" fill="#b01518" stroke="#3a0c0c" stroke-width="0.55"/>
<circle cx="134.50" cy="230.60" r="1.1" fill="#b01518" stroke="#3a0c0c" stroke-width="0.55"/>
<circle cx="132.40" cy="231.00" r="1.1" fill="#b01518" stroke="#3a0c0c" stroke-width="0.55"/>
<circle cx="128.00" cy="230.40" r="1.1" fill="#b01518" stroke="#3a0c0c" stroke-width="0.55"/>
<circle cx="130.20" cy="233.20" r="1.1" fill="#b01518" stroke="#3a0c0c" stroke-width="0.55"/>
<circle cx="135.00" cy="233.20" r="1.1" fill="#b01518" stroke="#3a0c0c" stroke-width="0.55"/>
<circle cx="138.00" cy="232.30" r="1.1" fill="#b01518" stroke="#3a0c0c" stroke-width="0.55"/>
<circle cx="140.10" cy="231.40" r="1.1" fill="#b01518" stroke="#3a0c0c" stroke-width="0.55"/>
<circle cx="136.20" cy="231.90" r="1.1" fill="#b01518" stroke="#3a0c0c" stroke-width="0.55"/>
<circle cx="133.70" cy="228.00" r="1.1" fill="#b01518" stroke="#3a0c0c" stroke-width="0.55"/>
<circle cx="129.30" cy="233.10" r="1.1" fill="#b01518" stroke="#3a0c0c" stroke-width="0.55"/>
<circle cx="157.30" cy="209.80" r="1.1" fill="#b01518" stroke="#3a0c0c" stroke-width="0.55"/>
<circle cx="160.80" cy="211.20" r="1.1" fill="#b01518" stroke="#3a0c0c" stroke-width="0.55"/>
<circle cx="156.00" cy="218.90" r="1.1" fill="#b01518" stroke="#3a0c0c" stroke-width="0.55"/>
<circle cx="155.30" cy="221.00" r="1.1" fill="#b01518" stroke="#3a0c0c" stroke-width="0.55"/>
<circle cx="156.60" cy="221.90" r="1.1" fill="#b01518" stroke="#3a0c0c" stroke-width="0.55"/>
<circle cx="157.40" cy="223.20" r="1.1" fill="#b01518" stroke="#3a0c0c" stroke-width="0.55"/>
<circle cx="155.30" cy="223.70" r="1.1" fill="#b01518" stroke="#3a0c0c" stroke-width="0.55"/>
<circle cx="159.20" cy="224.50" r="1.1" fill="#b01518" stroke="#3a0c0c" stroke-width="0.55"/>
<circle cx="156.10" cy="225.40" r="1.1" fill="#b01518" stroke="#3a0c0c" stroke-width="0.55"/>
<circle cx="157.90" cy="226.20" r="1.1" fill="#b01518" stroke="#3a0c0c" stroke-width="0.55"/>
<circle cx="159.60" cy="227.10" r="1.1" fill="#b01518" stroke="#3a0c0c" stroke-width="0.55"/>
<circle cx="155.70" cy="228.00" r="1.1" fill="#b01518" stroke="#3a0c0c" stroke-width="0.55"/>
<circle cx="157.40" cy="228.40" r="1.1" fill="#b01518" stroke="#3a0c0c" stroke-width="0.55"/>
<circle cx="155.30" cy="231.00" r="1.1" fill="#b01518" stroke="#3a0c0c" stroke-width="0.55"/>
<circle cx="157.00" cy="230.60" r="1.1" fill="#b01518" stroke="#3a0c0c" stroke-width="0.55"/>
<circle cx="158.70" cy="230.10" r="1.1" fill="#b01518" stroke="#3a0c0c" stroke-width="0.55"/>
<circle cx="160.50" cy="230.60" r="1.1" fill="#b01518" stroke="#3a0c0c" stroke-width="0.55"/>
<circle cx="162.20" cy="231.00" r="1.1" fill="#b01518" stroke="#3a0c0c" stroke-width="0.55"/>
<circle cx="163.90" cy="230.60" r="1.1" fill="#b01518" stroke="#3a0c0c" stroke-width="0.55"/>
<circle cx="165.70" cy="230.60" r="1.1" fill="#b01518" stroke="#3a0c0c" stroke-width="0.55"/>
<circle cx="167.40" cy="231.90" r="1.1" fill="#b01518" stroke="#3a0c0c" stroke-width="0.55"/>
<circle cx="169.10" cy="231.40" r="1.1" fill="#b01518" stroke="#3a0c0c" stroke-width="0.55"/>
<circle cx="156.10" cy="232.30" r="1.1" fill="#b01518" stroke="#3a0c0c" stroke-width="0.55"/>
<circle cx="157.90" cy="232.70" r="1.1" fill="#b01518" stroke="#3a0c0c" stroke-width="0.55"/>
<circle cx="159.60" cy="233.20" r="1.1" fill="#b01518" stroke="#3a0c0c" stroke-width="0.55"/>
<circle cx="161.30" cy="232.70" r="1.1" fill="#b01518" stroke="#3a0c0c" stroke-width="0.55"/>
<circle cx="163.50" cy="232.70" r="1.1" fill="#b01518" stroke="#3a0c0c" stroke-width="0.55"/>
<circle cx="165.20" cy="233.20" r="1.1" fill="#b01518" stroke="#3a0c0c" stroke-width="0.55"/>
<circle cx="170.20" cy="231.20" r="1.1" fill="#b01518" stroke="#3a0c0c" stroke-width="0.55"/>
<circle cx="173.80" cy="232.00" r="1.1" fill="#b01518" stroke="#3a0c0c" stroke-width="0.55"/>
<circle cx="177.80" cy="231.50" r="1.1" fill="#b01518" stroke="#3a0c0c" stroke-width="0.55"/>
<circle cx="181.00" cy="233.50" r="1.1" fill="#b01518" stroke="#3a0c0c" stroke-width="0.55"/>
<circle cx="192.70" cy="223.40" r="1.1" fill="#b01518" stroke="#3a0c0c" stroke-width="0.55"/>
<circle cx="205.40" cy="233.30" r="1.1" fill="#b01518" stroke="#3a0c0c" stroke-width="0.55"/>
<circle cx="212.40" cy="233.10" r="1.1" fill="#b01518" stroke="#3a0c0c" stroke-width="0.55"/>
<circle cx="222.50" cy="231.90" r="1.1" fill="#b01518" stroke="#3a0c0c" stroke-width="0.55"/>
<circle cx="140.50" cy="226.80" r="1.25" fill="#d0b82a" stroke="#4a3a10" stroke-width="0.5"/>
<circle cx="233.30" cy="196.10" r="1.4" fill="#d99a2b" stroke="#5a3a10" stroke-width="0.4"/>
<circle cx="246.10" cy="229.30" r="1.4" fill="#d99a2b" stroke="#5a3a10" stroke-width="0.4"/>
<circle cx="178.90" cy="220.20" r="1.4" fill="#d99a2b" stroke="#5a3a10" stroke-width="0.4"/>
<circle cx="233.20" cy="40.30" r="1.4" fill="#d99a2b" stroke="#5a3a10" stroke-width="0.4"/>
<circle cx="140.40" cy="235.80" r="1.2" fill="#f2e62e" stroke="#4a4a1a" stroke-width="0.45"/>
<circle cx="144.20" cy="235.80" r="1.2" fill="#f2e62e" stroke="#4a4a1a" stroke-width="0.45"/>
<circle cx="152.70" cy="235.30" r="1.2" fill="#f2e62e" stroke="#4a4a1a" stroke-width="0.45"/>
<circle cx="181.90" cy="235.80" r="1.2" fill="#f2e62e" stroke="#4a4a1a" stroke-width="0.45"/>
<circle cx="144.50" cy="232.60" r="1.2" fill="#7f2a8f" stroke="#2a1a2a" stroke-width="0.45"/>
<circle cx="146.60" cy="235.80" r="1.2" fill="#7f2a8f" stroke="#2a1a2a" stroke-width="0.45"/>
<circle cx="148.80" cy="235.80" r="1.2" fill="#7f2a8f" stroke="#2a1a2a" stroke-width="0.45"/>
<text x="362.05" y="29.00" font-size="10.6" textLength="89.80" lengthAdjust="spacingAndGlyphs">Mass Spectrometry</text>
<path d="M347.1 187.9h0M383.4 162.3h0M395.3 149.0h0M367.9 176.0h0M416.6 127.1h0M367.4 172.3h0M372.8 170.6h0M395.8 150.6h0M382.2 156.0h0M342.9 193.0h0M398.6 150.1h0M379.4 169.9h0M414.2 126.6h0M380.6 163.5h0M377.5 171.3h0M379.2 164.3h0M375.8 167.2h0M428.3 117.7h0M381.3 163.9h0M374.0 166.8h0M375.2 169.1h0M395.2 149.7h0M341.1 195.1h0M389.6 149.9h0M358.5 184.6h0M369.0 173.8h0M366.1 173.8h0M388.4 160.5h0M414.1 132.3h0M360.5 175.9h0M380.9 164.0h0M362.5 179.7h0M365.2 177.1h0M381.2 164.7h0M328.6 211.8h0M355.9 185.3h0M420.2 121.0h0M332.5 206.5h0M421.9 123.8h0M398.4 147.8h0M335.3 208.3h0M352.5 189.9h0M368.7 175.5h0M385.9 161.8h0M437.2 107.0h0M381.9 158.3h0M376.6 166.1h0M341.9 202.3h0M385.0 156.6h0M381.3 162.7h0M405.1 138.2h0M320.9 210.0h0M401.7 141.6h0M365.7 171.7h0M446.7 98.5h0M336.9 207.1h0M426.9 119.6h0M366.7 177.1h0M444.7 98.9h0M431.8 115.5h0M400.0 147.1h0M388.8 156.5h0M354.2 190.6h0M386.3 165.2h0M378.1 170.5h0M407.1 135.7h0M357.0 183.7h0M365.1 172.5h0M409.1 141.5h0M388.5 153.0h0M379.2 167.8h0M417.2 131.3h0M404.8 143.5h0M392.5 154.2h0M405.8 139.4h0M341.7 212.2h0M336.0 212.3h0M329.6 208.8h0M400.8 142.4h0M390.4 156.0h0M363.9 184.4h0M348.9 202.7h0M350.6 190.9h0M326.5 215.3h0M424.7 120.8h0M362.6 176.8h0M429.5 117.8h0M332.0 218.0h0M431.8 106.2h0M404.5 137.4h0M353.4 197.3h0M392.8 149.7h0M379.4 165.5h0M434.1 111.7h0M389.5 154.9h0M391.2 155.7h0M400.7 137.2h0M329.3 203.8h0M418.8 123.8h0M406.2 135.8h0M325.8 211.0h0M346.5 196.6h0M366.8 174.3h0M331.8 220.0h0M425.2 114.4h0M360.2 181.9h0M341.0 191.1h0M369.3 172.5h0M396.4 148.3h0M360.1 187.6h0M376.2 165.5h0M371.1 175.0h0M395.5 151.8h0M369.3 172.4h0M418.9 125.9h0M409.3 140.5h0M379.5 158.2h0M389.3 137.9h0M380.7 169.0h0M336.2 212.6h0M359.7 178.4h0M335.3 203.3h0M362.1 176.9h0M396.8 147.5h0M380.0 162.6h0M327.6 214.2h0M414.4 126.2h0M333.7 200.4h0M352.1 188.8h0M316.9 197.3h0M410.0 133.6h0M430.1 116.5h0M401.7 145.0h0M407.0 137.4h0M380.3 165.3h0M344.0 202.8h0M391.1 154.5h0M389.4 156.8h0M394.6 152.3h0M414.1 130.1h0M358.4 185.0h0M387.3 150.3h0M355.8 189.6h0M353.2 196.1h0M416.7 131.9h0M439.7 105.9h0M354.5 194.0h0M353.0 192.9h0M333.6 205.7h0M395.1 148.5h0M409.9 131.0h0M364.5 175.6h0M347.5 193.4h0M430.2 117.8h0M406.2 138.6h0M348.9 193.9h0M358.3 189.3h0M353.7 185.0h0M348.5 199.1h0M378.1 168.3h0M338.3 213.5h0M375.5 170.7h0M404.8 140.5h0M389.2 155.2h0M363.5 182.5h0M386.7 155.9h0M360.8 191.1h0M417.4 128.7h0M427.1 117.3h0M387.8 156.1h0M337.3 206.9h0M383.4 164.8h0M386.0 159.1h0M389.1 151.5h0M344.1 188.7h0M445.1 99.5h0M398.3 154.8h0M363.0 181.2h0M401.4 153.1h0M320.2 197.8h0M397.8 143.6h0M361.5 178.7h0M365.5 185.1h0M355.8 184.7h0M376.7 175.9h0M394.0 145.4h0M434.8 110.6h0M356.4 181.5h0M424.2 125.6h0M357.9 183.3h0M408.4 139.8h0M350.7 199.3h0M360.2 189.8h0M363.8 177.9h0M353.7 189.4h0M442.4 105.1h0M411.8 136.2h0M412.5 130.3h0M390.6 152.8h0M399.5 146.1h0M400.9 141.1h0M379.0 169.5h0M409.4 136.8h0M390.8 157.2h0M334.7 216.4h0M411.7 132.8h0M395.4 144.2h0M398.4 143.6h0M363.3 180.1h0M412.2 141.5h0M375.7 167.6h0M361.0 179.9h0M396.8 150.4h0M379.3 150.7h0M344.9 199.0h0M373.5 167.1h0M386.1 159.1h0M393.9 151.3h0M369.8 175.2h0M325.0 218.3h0M397.0 146.0h0M312.0 222.9h0M350.0 188.1h0M365.6 178.2h0M392.9 147.1h0M384.2 162.7h0M447.3 97.6h0M360.3 178.1h0M387.7 157.4h0M354.0 189.0h0M327.1 211.9h0M415.1 133.9h0M464.1 81.3h0M335.4 201.3h0M405.6 140.5h0M382.0 160.8h0M423.4 124.7h0M366.0 182.4h0M366.6 180.2h0M341.2 197.3h0M376.7 195.3h0M418.5 126.5h0M362.9 180.1h0M352.3 184.2h0M425.7 119.1h0M388.6 155.2h0M405.1 138.8h0M411.2 133.5h0M330.4 214.2h0M397.8 147.0h0M365.6 176.7h0M441.9 101.6h0M451.7 93.9h0M368.4 176.5h0M376.7 166.5h0M394.4 146.0h0M422.4 122.4h0M407.2 140.8h0M340.9 211.1h0M390.9 154.3h0M328.2 208.6h0M337.6 204.6h0M352.3 204.8h0M390.6 153.7h0M431.5 114.3h0M355.6 182.9h0M383.1 160.7h0M357.8 187.7h0M352.2 197.0h0M359.7 184.8h0M385.9 161.4h0M402.1 141.0h0M413.7 130.9h0M395.4 145.9h0M440.8 106.0h0M423.8 124.1h0M399.5 137.8h0M379.4 168.1h0M408.9 134.1h0M375.3 164.0h0M397.5 146.8h0M376.3 165.5h0M389.4 151.1h0M376.2 171.9h0M342.4 205.3h0M385.8 158.9h0M448.9 96.6h0M342.3 200.0h0M358.8 179.9h0M364.4 188.3h0M361.8 181.6h0M413.3 134.0h0M342.6 208.7h0M394.8 153.7h0M332.8 204.8h0M367.0 173.1h0M369.2 184.4h0M392.4 151.6h0M406.7 134.9h0M411.8 130.0h0M351.1 205.0h0M389.7 160.9h0M423.9 119.0h0M330.8 202.7h0M319.5 223.9h0M413.8 129.6h0M403.7 139.0h0M364.8 174.1h0M377.5 165.0h0M360.8 181.0h0M431.9 113.7h0M344.6 204.1h0M361.2 180.8h0M410.0 135.7h0M346.6 197.3h0M411.7 132.0h0M406.3 137.9h0M358.1 186.2h0M331.1 205.2h0M345.1 202.8h0M415.5 128.5h0M433.7 110.8h0M371.5 173.2h0M373.9 165.9h0M375.9 171.1h0M425.7 116.9h0M349.3 195.5h0M398.2 145.7h0M369.1 182.4h0M353.2 198.8h0M360.9 183.3h0M368.1 176.4h0M350.3 194.3h0M378.7 165.4h0M375.4 168.4h0M379.3 161.6h0M361.1 175.5h0M339.8 201.5h0M399.7 146.2h0M364.4 174.8h0M360.9 187.7h0M362.6 180.3h0M368.1 178.5h0M391.0 152.1h0M385.2 164.2h0M356.0 193.7h0M323.4 217.5h0M432.8 113.0h0M378.1 166.0h0M422.9 123.5h0M346.0 197.4h0M364.6 178.5h0M347.5 200.4h0M398.1 147.2h0M377.8 163.6h0M402.6 140.6h0M426.6 119.7h0M375.0 165.5h0M380.6 164.5h0M440.3 104.0h0M415.8 128.7h0M391.0 151.9h0M388.7 152.7h0M373.9 171.1h0M357.2 190.0h0M372.0 173.9h0M416.9 125.6h0M389.6 155.0h0M353.5 206.2h0M397.2 153.9h0M360.0 178.8h0M385.7 159.7h0M369.0 171.8h0M408.3 138.8h0M351.3 191.1h0M403.8 142.8h0M397.4 148.5h0M335.9 204.1h0M357.9 183.6h0M396.6 144.3h0M358.1 188.6h0M396.8 143.7h0M372.2 170.6h0M428.2 116.3h0M389.0 153.4h0M373.1 170.2h0M325.4 219.8h0M316.7 223.3h0M400.8 141.9h0M390.3 157.1h0M398.5 146.9h0M403.3 146.3h0M348.9 199.8h0M375.8 166.3h0M448.9 96.7h0M358.9 189.3h0M361.4 183.1h0M362.2 174.5h0M392.1 154.1h0M452.7 93.0h0M318.8 221.5h0M350.4 195.0h0M454.7 90.9h0M377.4 161.3h0M366.2 178.9h0M371.2 167.5h0M360.5 182.1h0M342.5 201.1h0M396.9 151.4h0M383.4 159.1h0M352.9 185.7h0M358.6 182.9h0M434.8 110.5h0M396.4 144.6h0M366.6 175.3h0M366.1 184.7h0M349.4 185.1h0M336.4 193.2h0M405.5 140.5h0M392.6 153.0h0M365.7 178.8h0M360.0 181.7h0M345.1 196.0h0M381.4 161.8h0M381.8 162.6h0M341.9 197.5h0M382.6 158.6h0M386.1 161.4h0M347.7 182.6h0M343.1 203.6h0M413.1 135.3h0M415.1 131.3h0M386.0 157.7h0M392.0 152.0h0M403.5 137.6h0M420.1 127.8h0M372.2 172.6h0M393.8 141.2h0M430.4 115.5h0M406.5 136.8h0M447.9 99.4h0M348.4 196.4h0M394.6 146.7h0M326.5 221.0h0M354.9 183.1h0M356.9 184.4h0M386.7 156.3h0M439.6 100.8h0M348.6 197.5h0M347.9 192.1h0M426.1 119.7h0M421.7 122.9h0M372.1 169.3h0M417.5 129.6h0M412.6 132.5h0M353.2 190.5h0M369.1 184.1h0M372.3 168.1h0M351.3 195.2h0M407.2 139.5h0M408.6 135.4h0M393.7 157.7h0M338.3 195.3h0M378.3 162.8h0M412.0 133.2h0M389.9 156.9h0M376.6 168.7h0M412.8 133.2h0M364.3 177.9h0M383.8 162.0h0M365.0 177.8h0M368.8 176.7h0M396.8 150.0h0M382.1 161.1h0M379.7 164.1h0M392.0 153.2h0M414.8 131.0h0M362.6 207.1h0M377.3 164.9h0M345.3 201.5h0M388.2 156.3h0M333.5 203.8h0M358.5 184.5h0M372.6 175.1h0M374.0 174.0h0M388.7 152.0h0M407.7 138.8h0M371.3 168.9h0M397.5 145.2h0M451.8 91.4h0M378.8 170.3h0M413.8 139.2h0M394.9 152.3h0M363.7 179.0h0M420.3 121.2h0M389.8 153.3h0M360.1 170.8h0M410.5 140.1h0M352.7 192.3h0M373.7 165.3h0M343.0 196.6h0M455.2 89.6h0M413.6 130.8h0M384.1 164.4h0M433.0 110.9h0M375.3 173.7h0M368.7 177.7h0M410.0 130.6h0M388.1 157.2h0M386.6 159.7h0M408.4 139.5h0M393.8 148.2h0M371.8 174.0h0M412.2 132.6h0M440.9 104.8h0M458.3 87.7h0M378.8 165.4h0M366.1 172.7h0M380.5 165.6h0M447.0 99.2h0M370.8 178.0h0M384.5 158.0h0M343.4 203.2h0M410.2 133.0h0M388.5 150.9h0M350.1 183.8h0M334.9 202.5h0M366.7 175.3h0M388.3 153.8h0M334.2 196.2h0M346.8 197.9h0M373.1 171.7h0M386.2 155.6h0M391.0 152.0h0M350.5 192.4h0M412.7 131.9h0M364.7 176.7h0M384.8 159.9h0M414.5 130.5h0M409.3 134.4h0M384.5 155.5h0M368.3 178.9h0M353.8 184.6h0M388.1 158.0h0M382.1 156.7h0M408.9 140.5h0M365.8 176.9h0M382.1 173.3h0M348.6 192.7h0M367.1 177.0h0M390.0 150.3h0M324.1 211.8h0M378.7 163.9h0M364.5 176.0h0M406.9 132.7h0M350.4 190.0h0M379.7 159.9h0M355.1 179.1h0M351.0 192.9h0M376.0 162.9h0M360.7 179.0h0M349.9 185.3h0M369.9 176.4h0M383.7 165.3h0M340.9 193.3h0M363.1 181.9h0M335.8 205.0h0M339.6 205.4h0M347.6 194.5h0M384.2 157.8h0M389.1 153.6h0M415.5 130.4h0M369.7 170.3h0M403.5 143.0h0M390.5 155.0h0M397.9 145.0h0M370.0 171.5h0M378.3 166.1h0M355.0 180.1h0M416.5 125.0h0M381.8 157.0h0M420.9 118.5h0M411.9 128.0h0M356.3 180.6h0M354.9 186.4h0M362.1 180.4h0M395.9 146.8h0M370.5 171.3h0M380.1 161.0h0M370.9 178.3h0M385.3 157.0h0M345.9 206.4h0M426.4 120.2h0M371.6 170.6h0M340.8 191.8h0M371.3 172.3h0M384.0 164.9h0M385.2 155.1h0M401.2 145.0h0M371.1 177.8h0M368.3 177.5h0M353.4 185.2h0M443.2 100.5h0M319.8 218.3h0M378.5 166.4h0M379.9 162.0h0M414.4 130.1h0M411.7 128.5h0M411.7 135.3h0M418.7 124.5h0M352.7 189.6h0M395.1 154.3h0M340.3 205.2h0M372.8 166.5h0M330.1 213.1h0M378.8 165.9h0M352.1 192.6h0M429.1 114.8h0M389.6 154.2h0M365.5 178.3h0M406.2 133.4h0M346.4 192.7h0M358.9 189.0h0M390.8 145.6h0M406.9 135.9h0M406.6 141.1h0M361.7 178.7h0M387.8 153.0h0M378.9 162.5h0M395.3 150.9h0M395.7 147.1h0M343.6 201.5h0M390.0 154.2h0M365.6 174.3h0M384.5 148.3h0M363.7 179.6h0M390.2 158.2h0M389.3 154.0h0M412.4 132.7h0M394.8 145.0h0M393.7 151.6h0M336.2 200.2h0M405.8 142.6h0M370.5 171.8h0M376.7 185.0h0M320.7 224.0h0M372.2 168.6h0M369.8 170.8h0M351.2 199.0h0M412.0 126.2h0M383.0 160.6h0M417.6 127.7h0M380.8 160.3h0M385.3 154.9h0M370.1 173.2h0M385.4 157.7h0M425.1 120.1h0M333.7 207.5h0M328.6 206.0h0M369.8 174.4h0M405.3 141.1h0M394.3 148.2h0M371.7 175.8h0M414.4 131.7h0M391.9 151.3h0M442.9 102.0h0M429.0 114.7h0M369.9 173.9h0M376.8 165.8h0M397.7 146.9h0M374.4 168.8h0M383.3 160.1h0M399.6 143.6h0M390.4 153.5h0M419.4 124.5h0M414.5 129.8h0M351.1 193.3h0M339.0 201.9h0M392.9 150.1h0M370.0 174.0h0M373.4 170.2h0M416.6 126.5h0M409.0 136.7h0M420.5 125.8h0M377.6 168.3h0M386.1 159.7h0M409.7 135.1h0M365.7 178.7h0M366.3 177.2h0M341.9 197.4h0M403.6 136.9h0M446.8 99.4h0M417.8 130.3h0M419.6 125.2h0M337.4 207.4h0M374.6 168.3h0M357.6 197.2h0M406.3 137.0h0M322.9 220.4h0M371.7 171.4h0M434.1 112.9h0M419.9 130.4h0M351.7 188.7h0M336.3 218.2h0M383.5 155.8h0M352.5 202.7h0M392.4 153.1h0M382.9 160.6h0M359.8 188.5h0M352.7 193.7h0M402.5 141.9h0M393.4 150.6h0M404.8 136.7h0M342.6 196.6h0M379.9 164.2h0M361.5 178.8h0M388.6 151.3h0M391.3 155.3h0M354.4 187.8h0M367.2 178.8h0M371.6 172.1h0M384.2 158.0h0M329.2 210.0h0M425.4 117.0h0M365.2 179.6h0M404.9 141.9h0M383.0 162.0h0M375.2 163.9h0M338.2 203.4h0M348.3 188.3h0M326.1 216.2h0M402.5 143.9h0M343.5 202.0h0M354.7 191.5h0M391.4 151.2h0M344.2 191.3h0M391.9 152.1h0M385.2 160.7h0M368.8 174.0h0M388.9 156.0h0M357.5 182.9h0M324.2 214.9h0M395.3 152.4h0M325.1 203.4h0M329.0 214.9h0M376.7 165.6h0M358.7 180.2h0M417.6 125.8h0M349.4 190.4h0M423.6 119.8h0M383.7 162.6h0M365.2 181.6h0M401.5 146.8h0M450.6 93.9h0M366.2 175.9h0M343.9 193.0h0M394.6 149.8h0M392.4 153.6h0M408.4 134.3h0M356.1 184.9h0M393.2 152.6h0M394.0 149.1h0M394.1 151.4h0M339.8 208.6h0M347.9 195.5h0M404.9 137.8h0M382.4 169.5h0M364.3 175.6h0M423.5 124.9h0M365.7 173.7h0M384.7 160.7h0M360.9 179.3h0M348.2 198.3h0M389.6 155.8h0M343.1 199.4h0M403.3 138.3h0M423.5 120.0h0M317.3 225.3h0M384.7 158.8h0M416.0 126.6h0M365.0 184.9h0M377.0 175.2h0M404.3 140.8h0M363.5 174.9h0M430.8 115.4h0M393.0 155.0h0M372.4 170.5h0M403.5 141.6h0M377.2 165.2h0M395.9 150.1h0M366.9 172.8h0M347.8 199.8h0M436.7 109.3h0M397.6 143.0h0M381.8 156.3h0M381.3 161.8h0M406.5 140.7h0M397.6 148.3h0M372.3 169.6h0M386.0 154.9h0M362.3 177.9h0M396.1 150.4h0M351.1 196.1h0M335.2 212.7h0M349.4 205.0h0M424.7 118.5h0M386.4 153.8h0M378.8 166.1h0M366.3 180.3h0M419.2 127.7h0M394.4 144.1h0M412.7 135.2h0M360.2 185.7h0M394.4 146.9h0M365.3 180.7h0M373.7 163.4h0M365.9 173.9h0M379.3 160.5h0M372.5 177.9h0M374.8 169.9h0M387.2 156.4h0M338.8 202.2h0M346.7 199.7h0M391.1 152.2h0M354.8 182.3h0M357.9 194.6h0M380.3 163.6h0M361.0 182.3h0M363.3 185.4h0M346.1 192.1h0M382.4 162.1h0M331.9 209.5h0M338.7 195.7h0M426.3 116.2h0M389.1 151.1h0M417.2 125.3h0M388.4 154.1h0M362.2 174.2h0M424.9 121.9h0M386.2 155.3h0M366.2 175.6h0M383.7 161.9h0M343.1 196.5h0M421.2 129.3h0M366.9 176.9h0M367.1 175.1h0M394.7 154.6h0M376.5 173.1h0M377.6 167.0h0M366.7 181.9h0M355.9 184.8h0M357.0 179.7h0M344.8 180.2h0M388.9 157.1h0M436.9 110.5h0M333.7 210.4h0M400.7 143.1h0M362.6 183.5h0M426.0 121.7h0M401.5 141.4h0M418.0 132.3h0M383.4 159.4h0M364.2 169.2h0M403.5 142.4h0M361.5 181.5h0M385.6 157.8h0M416.4 123.6h0M346.0 199.7h0M363.9 183.4h0M382.4 161.2h0M408.8 136.0h0M431.5 121.3h0M367.6 172.6h0M476.0 72.1h0M325.8 218.3h0M412.6 130.7h0M368.0 174.5h0M329.3 206.7h0M407.7 151.4h0M337.8 202.7h0M407.8 135.4h0M345.0 201.6h0M392.5 151.5h0M395.7 149.9h0M418.7 122.6h0M431.2 114.1h0M374.9 169.0h0M383.9 163.6h0M382.3 162.4h0M396.6 148.7h0M406.2 138.0h0M360.4 183.0h0M368.7 171.7h0M385.1 159.9h0M400.9 147.0h0M410.1 133.5h0M390.7 153.4h0M341.7 197.6h0M340.4 204.5h0M414.1 137.0h0M316.4 223.9h0M398.2 145.8h0M357.4 190.2h0M376.5 163.0h0M396.7 148.1h0M407.3 139.2h0M389.3 154.5h0M334.1 207.4h0M406.1 128.3h0M372.4 172.9h0M438.4 108.5h0M370.1 170.8h0M373.5 172.3h0M376.0 160.9h0M368.0 180.0h0M422.1 125.2h0M345.8 195.9h0M448.7 96.8h0M371.9 166.6h0M436.7 109.4h0M358.8 181.5h0M410.9 130.2h0M406.5 144.7h0M414.4 130.3h0M377.9 169.4h0M411.7 133.9h0M325.8 218.2h0M380.6 164.6h0M346.3 198.0h0M371.4 182.3h0M380.1 164.2h0M326.7 223.2h0M374.8 169.8h0M375.9 168.0h0M406.6 138.7h0M381.4 169.4h0M456.5 89.0h0M340.8 198.5h0M405.6 137.2h0M317.8 227.6h0M342.2 210.9h0M401.5 144.1h0M426.6 119.4h0M361.8 179.4h0M396.9 143.7h0M348.7 191.8h0M417.9 130.7h0M395.9 147.5h0M367.7 175.5h0M343.0 197.8h0M337.2 201.2h0M392.2 165.7h0M372.4 172.1h0M387.8 152.5h0M375.2 168.3h0M362.7 179.9h0M401.4 141.6h0M407.5 136.7h0M379.5 154.8h0M388.7 161.2h0M397.2 151.9h0M406.3 140.2h0M399.8 146.0h0M355.5 181.8h0M374.9 178.1h0M326.0 217.6h0M372.3 172.4h0M405.7 141.8h0M329.1 203.2h0M427.1 115.2h0M356.8 184.6h0M388.7 155.8h0M392.9 148.5h0M347.1 201.3h0M335.2 203.5h0M374.9 169.3h0M390.2 156.8h0M349.4 194.7h0M420.3 125.5h0M380.5 162.2h0M371.2 172.4h0M418.9 122.9h0M441.8 101.9h0M399.2 149.8h0M374.0 168.5h0M339.7 212.2h0M367.2 172.6h0M364.8 178.8h0M354.5 183.5h0M380.2 162.0h0M385.2 156.5h0M382.0 164.2h0M341.3 202.4h0M409.0 139.2h0M407.7 135.0h0M410.0 137.0h0M347.8 193.8h0M407.2 137.1h0M343.7 201.9h0M378.2 163.3h0M403.3 143.9h0M373.7 174.2h0M364.7 171.0h0M415.7 128.2h0M426.7 119.7h0M361.4 179.1h0M362.7 182.7h0M384.0 161.9h0M394.0 149.9h0M381.6 160.9h0M386.7 152.7h0M428.9 119.1h0M391.1 149.9h0M354.9 188.4h0M368.6 174.6h0M406.3 135.7h0M400.9 145.9h0M398.4 147.1h0M370.6 168.9h0M426.6 114.5h0M439.6 106.9h0M380.5 164.7h0M346.9 192.7h0M411.8 135.9h0M361.1 189.9h0M457.2 85.4h0M400.6 143.4h0M431.1 115.6h0M408.2 138.4h0M353.9 183.6h0M389.4 155.4h0M403.9 144.2h0M381.8 161.8h0M346.7 197.8h0M442.3 103.8h0M436.2 116.2h0M339.4 202.2h0M347.3 192.4h0M400.1 140.4h0M387.0 157.4h0M319.9 212.2h0M388.7 154.0h0M379.7 160.6h0M365.3 176.7h0M409.5 137.6h0M384.6 165.4h0M374.2 168.7h0M441.8 104.6h0M375.9 167.4h0M334.7 200.9h0M396.1 149.3h0M392.0 152.5h0M388.3 152.2h0M418.6 125.5h0M320.3 217.9h0M342.4 203.1h0M365.0 176.4h0M365.2 181.9h0M415.8 129.2h0M328.4 207.6h0M359.7 180.8h0M339.8 202.1h0M380.4 159.8h0M380.1 169.2h0M400.0 143.1h0M374.9 171.4h0M337.4 196.6h0M394.1 146.6h0M419.5 124.3h0M371.1 172.1h0M383.7 154.2h0M349.9 198.2h0M360.9 181.2h0M412.9 131.5h0M379.5 165.4h0M417.6 122.1h0M389.9 154.6h0M381.0 159.2h0M355.3 192.9h0M386.0 157.1h0M374.7 172.1h0M355.1 184.9h0M339.7 194.4h0M323.9 219.9h0M419.3 129.1h0M390.0 153.9h0M419.9 124.0h0M412.1 134.5h0M370.7 174.3h0M423.0 122.8h0M425.6 124.7h0M352.7 195.7h0M364.1 178.4h0M355.7 178.3h0M360.8 179.5h0M418.7 124.3h0M384.7 158.6h0M357.5 187.2h0M372.0 180.6h0M381.1 160.1h0M315.9 226.4h0M425.8 120.2h0M333.0 210.0h0M400.4 147.8h0M360.3 191.1h0M329.1 212.3h0M347.8 192.4h0M388.9 161.2h0M378.4 168.3h0M430.8 115.3h0M335.7 206.3h0M350.0 184.8h0M364.7 178.3h0M413.1 136.0h0M406.8 134.4h0M382.4 163.7h0M389.6 151.1h0M371.1 173.0h0M426.8 122.4h0M352.3 189.5h0M415.5 128.6h0M390.5 158.0h0M376.1 190.6h0M418.1 136.2h0M363.5 176.6h0M397.1 141.5h0M367.9 175.1h0M377.6 156.5h0M439.1 108.0h0M398.3 156.4h0M329.3 209.3h0M379.9 156.1h0M394.6 142.9h0M321.5 217.8h0M343.5 192.9h0M365.4 180.6h0M382.6 158.7h0M389.2 155.0h0M447.4 100.0h0M335.1 214.1h0M353.7 185.3h0M402.7 141.0h0M361.6 181.7h0M322.4 219.1h0M447.6 99.3h0M385.5 157.7h0M394.3 151.4h0M378.2 162.2h0M349.5 197.0h0M397.9 145.7h0M350.1 191.1h0M424.7 121.0h0M401.9 141.3h0M364.9 182.6h0M361.3 178.2h0M371.5 175.4h0M367.3 171.1h0M392.1 152.5h0M387.5 157.9h0M347.0 206.3h0M380.1 165.4h0M359.2 178.9h0M394.1 146.0h0M340.3 196.8h0M404.4 141.3h0M350.1 198.2h0M385.3 152.9h0M354.7 192.4h0M383.5 161.7h0M377.1 172.6h0M363.9 179.6h0M375.9 174.0h0M367.7 172.8h0M357.5 189.0h0M411.8 136.4h0M423.2 123.0h0M359.6 182.0h0M436.2 107.7h0M349.5 198.8h0M396.5 148.4h0M358.1 182.2h0M431.6 113.3h0M372.2 170.2h0M336.4 192.3h0M389.9 151.3h0M370.7 179.7h0M395.5 147.3h0M402.1 147.0h0M351.9 186.0h0M358.5 192.1h0M388.9 154.3h0M403.8 143.9h0M424.6 120.2h0M457.5 88.7h0M384.1 159.0h0M357.2 186.2h0M416.2 129.9h0M371.9 169.5h0M339.0 197.2h0M368.0 180.6h0M423.5 119.0h0M357.9 183.0h0M453.6 91.6h0M397.4 142.9h0M388.3 152.6h0M389.6 150.4h0M382.5 157.7h0M382.1 162.2h0M367.5 176.0h0M394.6 148.1h0M343.6 186.7h0M351.0 186.4h0M369.7 172.9h0M367.3 181.6h0M355.0 186.5h0M387.1 151.0h0M364.2 181.5h0M424.3 116.6h0M385.6 156.4h0M410.0 132.5h0M385.9 155.6h0M397.0 142.7h0M379.9 155.7h0M403.5 140.3h0M399.9 145.5h0M392.2 144.2h0M375.4 171.8h0M359.9 192.7h0M385.0 162.6h0M333.2 207.9h0M352.3 189.2h0M323.6 210.8h0M387.7 157.8h0M382.3 160.4h0M373.2 173.7h0M328.8 209.9h0M373.4 174.5h0M341.2 202.4h0M410.2 138.6h0M359.4 192.1h0M331.2 219.5h0M375.5 173.3h0M390.2 153.7h0M374.5 168.1h0M387.6 153.6h0M423.0 126.1h0M369.0 181.1h0M343.9 195.2h0M375.6 168.2h0M397.9 144.1h0M426.7 118.8h0M364.2 173.8h0M376.0 166.4h0M347.2 192.8h0M369.9 173.3h0M370.6 167.9h0M362.5 176.3h0M385.3 161.5h0M394.3 147.9h0M366.2 177.9h0M445.7 101.8h0M343.3 198.4h0M376.8 165.7h0M364.8 173.1h0M377.0 160.4h0M403.4 135.9h0M360.0 175.6h0M433.4 113.4h0M391.9 148.0h0M423.7 119.0h0M417.8 126.2h0M361.7 177.9h0M356.7 186.0h0M410.6 129.9h0M362.5 176.4h0M376.6 166.6h0M399.4 144.5h0M400.4 144.8h0M434.0 112.0h0M394.2 148.2h0M356.8 189.9h0M331.9 207.8h0M403.2 141.1h0M388.3 153.6h0M368.7 172.5h0M367.4 185.1h0M327.1 207.5h0M356.7 189.1h0M397.9 144.8h0M372.2 171.3h0M363.0 180.7h0M416.1 131.5h0M365.2 182.4h0M354.1 185.6h0M377.8 173.5h0M355.6 189.2h0M412.8 129.3h0M428.7 116.2h0M386.8 155.8h0M388.4 150.7h0M412.2 133.4h0M352.6 187.1h0M337.1 203.3h0M374.8 171.1h0M426.4 121.3h0M400.4 145.7h0M433.7 107.7h0M375.3 169.2h0M373.1 170.2h0M332.6 211.0h0M399.6 146.3h0M389.6 155.2h0M385.1 158.1h0M402.2 138.8h0M386.9 162.4h0M368.7 167.1h0M417.1 129.5h0M352.0 184.6h0M357.5 185.9h0M342.7 193.4h0M440.0 106.8h0M336.6 205.0h0M378.1 161.7h0M345.0 173.5h0M370.2 172.7h0M355.0 182.7h0M354.6 181.4h0M373.1 164.9h0M374.1 171.1h0M394.2 147.8h0M409.7 139.0h0M376.9 164.5h0M319.7 213.2h0M417.8 124.1h0M415.4 132.7h0M360.0 187.0h0M432.4 110.2h0M393.3 152.9h0M406.5 139.2h0M409.9 133.1h0M346.7 184.9h0M404.5 136.1h0M373.2 172.6h0M430.3 119.0h0M368.7 174.2h0M422.9 128.9h0M429.5 115.0h0M377.6 164.0h0M417.5 127.9h0M386.8 158.6h0M383.8 157.6h0M388.6 156.6h0M382.9 159.5h0M323.5 216.0h0M392.6 151.7h0M325.2 216.3h0M375.7 169.8h0M372.5 169.1h0M413.1 132.2h0M380.9 158.1h0M382.1 162.4h0M377.0 166.1h0M401.6 141.1h0M331.6 199.7h0M324.8 216.3h0M417.6 127.7h0M364.3 182.2h0M362.2 187.4h0M321.4 222.6h0M326.7 214.4h0M364.9 179.7h0M340.7 196.4h0M410.6 136.1h0M413.2 129.2h0M329.2 208.9h0M419.9 124.8h0M384.3 160.6h0M369.4 169.1h0M325.6 217.1h0M389.7 153.5h0M422.5 122.6h0M408.4 137.2h0M386.7 156.3h0M382.3 159.9h0M404.8 138.6h0M392.9 152.6h0M354.1 178.9h0M409.9 133.8h0M415.6 137.7h0M421.5 124.8h0M395.7 147.6h0M376.7 165.4h0M347.5 190.0h0M383.5 161.7h0M353.6 189.6h0M360.3 176.1h0M445.4 99.3h0M362.1 177.3h0M374.9 171.3h0M394.9 146.5h0M401.6 144.4h0M330.9 210.3h0M359.7 186.1h0M386.0 168.4h0M388.0 154.9h0M419.2 124.6h0M410.0 133.5h0M432.3 113.6h0M380.8 161.2h0M335.7 205.4h0M397.8 149.6h0M380.3 168.8h0M361.0 178.2h0M362.2 179.6h0M398.7 147.6h0M357.0 177.8h0M352.1 189.3h0M343.2 194.8h0M370.4 177.7h0M388.9 151.8h0M398.8 148.0h0M379.2 167.9h0M369.1 176.1h0M431.2 114.3h0M363.0 175.6h0M367.9 175.6h0M408.9 135.2h0M368.8 175.0h0M382.6 163.0h0M383.2 160.3h0M345.5 193.8h0M407.9 136.7h0M334.3 222.0h0M409.1 131.6h0M342.0 200.8h0M390.9 144.4h0M383.8 166.4h0M357.7 183.1h0M378.1 163.6h0M377.3 168.1h0M384.8 160.5h0M378.7 165.6h0M353.1 193.5h0M381.8 162.7h0M370.4 180.2h0M325.8 221.2h0M390.7 154.8h0M394.2 148.5h0M374.5 175.7h0M404.2 133.6h0M392.8 151.8h0M400.5 141.2h0M348.7 194.9h0M324.5 185.2h0M361.6 181.6h0M326.1 219.7h0M418.2 125.8h0M434.2 110.5h0M440.7 116.2h0M341.2 193.9h0M375.5 163.9h0M425.0 121.7h0M408.2 138.6h0M376.9 173.0h0M375.2 162.7h0M347.7 196.7h0M387.4 150.7h0M370.4 166.9h0M324.7 208.9h0M467.8 77.8h0M427.9 120.1h0M431.8 113.1h0M408.3 135.1h0M341.4 194.4h0M330.3 213.6h0M381.4 159.0h0M365.8 177.2h0M440.5 101.6h0M342.5 189.7h0M366.9 181.6h0M364.2 184.5h0M419.4 129.0h0M352.2 190.7h0M347.6 195.4h0M365.5 172.6h0M355.1 182.0h0M344.5 193.0h0M314.7 222.3h0M372.6 170.5h0M403.7 139.7h0M360.7 176.1h0M379.1 167.3h0M387.3 163.3h0M425.6 118.9h0M379.5 161.9h0M416.5 126.4h0M380.3 161.9h0M342.7 198.0h0M366.7 170.8h0M382.3 158.0h0M427.6 117.3h0M374.4 165.8h0M389.4 153.0h0M394.6 148.8h0M372.3 173.4h0M366.5 173.7h0M365.4 179.8h0M377.6 167.4h0M401.8 129.0h0M393.8 150.4h0M402.0 144.5h0M362.4 171.4h0M341.1 205.3h0M325.2 209.7h0M391.3 153.9h0M360.5 180.8h0M373.8 169.1h0M326.8 222.7h0M378.5 163.0h0M360.3 187.1h0M402.3 151.1h0M354.1 190.2h0M413.6 130.7h0M353.6 192.3h0M430.1 114.4h0M409.0 130.6h0M341.6 187.7h0M378.7 174.8h0M379.1 164.9h0M376.8 167.6h0M331.6 208.1h0M379.8 164.0h0M344.1 200.6h0M339.4 193.6h0M382.3 158.8h0M424.9 119.1h0M355.7 195.4h0M357.3 182.8h0M407.1 140.5h0M389.7 159.7h0M406.7 142.0h0M377.9 165.6h0M349.4 200.3h0M328.4 214.8h0M413.9 128.9h0M407.9 140.2h0M374.1 171.0h0M366.2 173.5h0M407.3 137.0h0M349.1 187.4h0M416.3 123.6h0M445.3 100.4h0M338.4 195.2h0M438.4 104.8h0M409.9 132.9h0M402.7 140.0h0M409.4 142.5h0M412.1 129.2h0M362.6 181.2h0M313.7 225.1h0M380.0 166.1h0M338.9 196.0h0M355.6 192.3h0M351.2 190.3h0M375.4 165.2h0M381.4 168.0h0M341.7 193.1h0M355.9 187.5h0M375.2 165.9h0M352.3 180.6h0M353.9 185.5h0M386.0 156.4h0M372.6 176.4h0M390.7 146.6h0M364.7 177.5h0M406.9 135.2h0M417.2 130.5h0M390.2 154.3h0M388.9 160.9h0M410.4 140.4h0M404.2 141.5h0M421.9 121.0h0M344.6 194.5h0M347.1 195.6h0M370.2 176.4h0M406.5 137.4h0M361.9 182.8h0M382.7 159.1h0M372.1 175.6h0M406.7 139.7h0M346.9 189.3h0M383.1 163.0h0M427.2 115.2h0M353.2 193.1h0M398.9 147.7h0M396.3 149.1h0M360.0 189.6h0M394.8 150.7h0M330.9 210.9h0M405.5 145.0h0M401.2 143.3h0M326.3 212.7h0M418.4 128.4h0M385.6 155.4h0M397.0 145.3h0M347.8 191.8h0M359.1 176.9h0M339.3 202.8h0M435.9 109.8h0M414.0 134.7h0M373.0 165.3h0M387.5 155.8h0M403.3 144.3h0M395.5 148.8h0M344.4 196.5h0M417.1 127.9h0M387.9 156.5h0M363.9 180.5h0M406.9 141.2h0M373.8 170.7h0M418.7 127.7h0M387.1 159.5h0M420.4 127.9h0M336.3 194.7h0M374.1 169.2h0M388.6 159.4h0M432.9 109.3h0M446.3 98.7h0M383.7 158.2h0M452.2 93.0h0M388.3 154.9h0M356.4 184.3h0M414.7 124.7h0M349.0 188.0h0M412.2 132.0h0M373.1 170.4h0M360.6 187.4h0M395.6 150.1h0M351.8 190.3h0M342.2 193.3h0M395.6 144.2h0M351.0 185.3h0M395.0 144.2h0M385.0 157.4h0M371.0 171.0h0M360.4 179.9h0M373.9 173.1h0M403.0 140.4h0M369.8 169.3h0M416.2 125.9h0M400.2 144.5h0M413.2 133.7h0M337.7 211.4h0M376.5 163.7h0M449.7 95.7h0M441.0 110.3h0M410.2 135.7h0M429.3 118.0h0M436.3 106.2h0M321.7 221.5h0M373.7 168.5h0M368.6 171.6h0M362.3 181.3h0M420.7 126.2h0M392.1 151.3h0M364.7 176.5h0M336.1 203.7h0M320.2 222.7h0M381.1 165.2h0M412.9 132.6h0M376.6 167.0h0M396.2 145.3h0M369.0 174.6h0M401.8 138.5h0M374.1 170.5h0M326.1 214.7h0M440.7 100.0h0M395.1 149.4h0M434.2 130.4h0M412.8 129.3h0M401.6 144.4h0M397.7 146.1h0M325.2 219.0h0M410.8 134.8h0M404.8 140.2h0M376.7 163.3h0M389.5 157.5h0M402.7 141.7h0M331.6 215.7h0M420.5 121.0h0M358.6 184.6h0M426.4 118.2h0M447.0 100.6h0M369.6 178.2h0M338.6 196.3h0M386.9 151.7h0M411.7 131.5h0M376.2 167.0h0M387.1 154.7h0M353.8 182.4h0M365.0 177.8h0M384.8 159.8h0M362.9 176.1h0M412.8 134.9h0M434.2 111.1h0M348.7 184.5h0M371.6 175.6h0M346.9 191.3h0M395.3 148.1h0M343.3 194.7h0M397.5 146.0h0M353.3 175.8h0M397.2 147.3h0M382.0 165.2h0M340.7 196.8h0M396.9 146.6h0M407.4 137.2h0M411.3 132.4h0M377.4 164.2h0M367.4 172.8h0M368.2 175.9h0M372.2 174.6h0M399.4 141.5h0M402.1 141.7h0M390.0 156.6h0M347.5 191.5h0M393.6 144.8h0M347.7 190.4h0M416.7 124.0h0M389.3 152.9h0M356.7 185.4h0M397.6 145.8h0M329.0 211.4h0M384.5 159.0h0M428.3 116.3h0M381.3 162.3h0M345.1 199.9h0M345.3 203.1h0M382.0 167.3h0M398.8 143.5h0M365.1 175.1h0M383.2 158.5h0M341.8 203.3h0M375.8 167.0h0M408.4 137.0h0M369.4 172.0h0M357.6 177.3h0M400.4 142.8h0M380.8 164.1h0M347.6 194.0h0M371.4 171.3h0M365.4 179.5h0M357.9 182.0h0M409.9 131.5h0M438.6 108.3h0M376.4 163.1h0M425.5 119.0h0M360.4 181.5h0M448.5 99.1h0M362.9 172.3h0M357.2 188.4h0M345.9 203.6h0M423.7 120.1h0M355.3 183.7h0M374.3 169.8h0M330.9 209.3h0M352.8 196.6h0M351.8 189.4h0M379.6 165.9h0M342.0 200.8h0M372.5 170.8h0M419.7 121.4h0M337.3 205.7h0M382.9 162.5h0M379.5 164.1h0M405.4 139.6h0M358.0 183.5h0M315.6 216.3h0M375.2 169.6h0M380.8 163.5h0M373.1 175.7h0M380.3 162.6h0M403.5 137.8h0M328.7 217.5h0M358.9 188.4h0M398.6 149.4h0M375.9 167.2h0M379.6 162.5h0M360.7 177.9h0M427.5 117.9h0M345.9 192.7h0M444.6 103.8h0M392.0 150.7h0M346.6 202.2h0M418.7 123.7h0M393.7 153.8h0M433.3 112.7h0M366.1 174.8h0M367.0 178.0h0M425.0 116.9h0M367.1 175.4h0M358.8 186.9h0M336.7 205.0h0M362.7 175.1h0M343.9 198.1h0M367.1 177.5h0M380.4 157.1h0M362.3 181.7h0M347.8 195.1h0M382.6 169.0h0M369.5 180.4h0M373.5 167.5h0M355.8 187.7h0M444.5 99.8h0M412.2 132.8h0M358.9 191.1h0M374.5 168.0h0M385.3 158.4h0M346.0 185.9h0M364.2 182.2h0M400.4 144.9h0M350.1 195.9h0M362.1 184.5h0M374.5 167.2h0M352.0 183.0h0M406.4 137.5h0M336.9 202.8h0M389.8 153.8h0M381.8 158.6h0M373.8 171.1h0M388.0 161.4h0M397.3 152.2h0M364.8 176.2h0M404.4 135.8h0M390.5 153.4h0M337.1 197.4h0M384.2 167.5h0M340.8 199.0h0M374.4 171.1h0M368.5 174.6h0M425.3 113.8h0M397.7 143.5h0M366.8 180.8h0M384.4 160.3h0M355.8 183.7h0M372.9 167.5h0M406.3 141.0h0M384.7 163.3h0M417.3 126.9h0M366.9 174.1h0M354.1 185.6h0M379.5 159.7h0M445.4 99.4h0M467.1 77.8h0M388.1 157.7h0M393.7 152.0h0M421.7 123.5h0M371.4 169.5h0M380.2 163.9h0M362.4 183.2h0M354.1 193.3h0M326.8 220.3h0M404.9 134.3h0M394.5 150.0h0M349.0 192.1h0M388.6 159.1h0M415.0 132.9h0M392.9 146.6h0M358.7 185.1h0M367.1 173.0h0M363.1 182.3h0M379.7 160.8h0M390.7 152.0h0M402.2 145.0h0M449.0 97.4h0M393.4 148.1h0M399.6 145.8h0M367.9 183.3h0M393.4 149.8h0M391.2 150.7h0M417.2 127.9h0M385.5 160.4h0M406.4 142.1h0M364.6 179.5h0M375.2 169.6h0M354.7 186.7h0M363.3 172.0h0M358.8 182.6h0M354.2 186.6h0M369.5 173.5h0M364.0 180.2h0M339.8 198.1h0M333.6 202.3h0M427.4 114.3h0M395.7 145.3h0M399.2 147.7h0M394.1 144.3h0M403.0 133.1h0M393.3 145.0h0M374.2 167.3h0M362.7 179.5h0M380.7 160.8h0M395.6 149.0h0M357.1 180.6h0M382.0 162.5h0M361.6 184.8h0M396.9 145.7h0M354.5 186.7h0M379.0 167.1h0M361.2 176.2h0M411.0 135.9h0M348.4 220.7h0M395.4 149.4h0M365.8 171.5h0M405.7 139.8h0M376.9 170.5h0M393.0 149.9h0M443.3 101.2h0M385.0 152.5h0M340.0 208.6h0M407.0 136.0h0M392.1 153.8h0M377.2 173.0h0M363.4 197.2h0M421.2 129.3h0M360.2 187.2h0M368.4 180.5h0M346.9 195.1h0M393.1 150.7h0M398.7 144.7h0M398.9 145.7h0M371.2 171.8h0M413.7 131.3h0M357.0 185.1h0M435.0 109.7h0M408.0 136.0h0M333.9 213.3h0M385.3 161.6h0M401.2 131.5h0M421.3 125.8h0M400.8 144.8h0M361.1 194.1h0M352.1 186.9h0M416.5 126.7h0M335.5 205.6h0M352.8 195.4h0M401.8 142.0h0M401.3 136.6h0M420.2 122.5h0M369.8 175.1h0M342.5 197.8h0M396.5 151.0h0M345.2 201.1h0M378.3 162.0h0M330.1 215.9h0M408.5 138.2h0M376.6 164.0h0M468.5 78.3h0M374.3 161.7h0M395.4 146.6h0M328.6 212.5h0M391.7 154.4h0M379.9 164.7h0M371.5 175.2h0M352.7 191.6h0M382.9 160.0h0M371.5 172.0h0M374.9 165.0h0M400.3 142.7h0M346.4 192.0h0M350.6 185.7h0M369.2 170.3h0M378.4 156.6h0M382.4 162.8h0M343.3 201.8h0M407.0 135.6h0M388.0 154.7h0M371.9 170.9h0M361.0 186.8h0M385.5 155.1h0M401.1 144.0h0M383.5 164.2h0M356.2 186.5h0M395.4 148.9h0M346.7 194.4h0M425.3 116.1h0M417.8 128.5h0M381.6 161.7h0M369.3 180.9h0M412.0 131.2h0M418.9 126.4h0M363.0 173.1h0M372.7 169.7h0M349.0 191.0h0M436.6 110.2h0M369.8 177.2h0M407.4 140.0h0M424.1 118.7h0M353.1 193.9h0M338.1 215.4h0M447.1 98.4h0M336.7 194.8h0M426.6 116.6h0M351.4 197.8h0M378.9 166.7h0M469.0 75.5h0M326.6 215.1h0M344.4 200.6h0M381.4 164.9h0M364.9 175.9h0M415.8 126.0h0M381.4 160.3h0M405.2 135.1h0M337.6 205.7h0M429.6 114.4h0M346.6 191.0h0M373.5 169.6h0M325.3 217.7h0M306.2 206.9h0M410.3 133.2h0M376.8 165.3h0M422.7 124.1h0M361.9 183.4h0M360.6 179.8h0M403.2 145.6h0M381.0 158.6h0M364.9 174.4h0M354.4 186.8h0M393.7 145.4h0M362.1 176.8h0M363.5 174.5h0M376.7 163.8h0M431.6 114.6h0M370.8 173.1h0M398.3 144.5h0M379.1 160.2h0M381.0 167.0h0M415.3 128.8h0M414.2 128.6h0M367.2 174.4h0M403.8 138.6h0M388.0 159.0h0M390.5 149.8h0M363.4 181.5h0M367.3 173.1h0M354.5 191.9h0M356.3 189.8h0M370.6 169.2h0M382.3 163.0h0M368.6 173.4h0M400.1 147.5h0M347.1 187.7h0M369.7 174.5h0M333.9 200.9h0M447.1 98.0h0M332.2 207.9h0M348.5 200.8h0M342.9 202.5h0M353.3 190.3h0M329.8 211.0h0M332.0 210.2h0M394.8 138.3h0M356.8 182.8h0M400.1 144.4h0M433.9 110.9h0M419.7 127.7h0M418.7 131.2h0M374.5 168.8h0M395.4 152.0h0M408.6 135.6h0M370.0 176.1h0M355.3 196.5h0M368.6 173.7h0M348.1 193.0h0M399.3 144.6h0M397.4 144.1h0M406.0 137.7h0M365.6 184.4h0M345.6 180.7h0M346.9 201.9h0M430.6 113.4h0M407.0 137.1h0M434.8 110.5h0M336.3 188.9h0M337.3 205.7h0M401.6 142.1h0M378.7 167.1h0M366.6 169.9h0M402.3 149.6h0M406.9 138.5h0M384.9 159.5h0M383.2 161.4h0M401.8 143.5h0M363.1 177.4h0M360.7 187.3h0M378.1 165.4h0M390.5 156.9h0M356.2 187.9h0M387.0 151.4h0M341.6 202.8h0M371.7 175.5h0M428.1 118.1h0M357.5 183.4h0M351.7 191.1h0M392.9 151.1h0M406.7 139.0h0M449.7 96.8h0M410.8 133.1h0M367.4 174.9h0M375.8 162.4h0M370.9 170.8h0M369.6 173.6h0M412.0 134.5h0M421.3 128.3h0M371.9 167.2h0M386.2 156.9h0M388.7 158.9h0M398.2 144.9h0M421.3 121.8h0M346.3 203.0h0M373.6 167.6h0M441.6 105.5h0M397.1 147.3h0M388.5 153.2h0M357.1 184.1h0M364.3 179.9h0M372.7 168.3h0M364.7 175.3h0M367.1 178.4h0M390.9 150.7h0M367.2 174.6h0M404.1 142.6h0M407.7 136.2h0M373.5 168.8h0M370.9 182.5h0M408.2 134.5h0M395.0 152.0h0M342.5 188.4h0M363.8 178.8h0M334.7 204.2h0M408.6 135.8h0M405.5 132.1h0M380.0 160.6h0M366.4 178.0h0M399.1 138.3h0M397.3 149.3h0M407.3 137.1h0M391.6 154.3h0M436.8 110.0h0M386.0 159.0h0M359.2 188.1h0M358.0 189.3h0M318.5 223.1h0M410.4 136.7h0M381.5 162.4h0M390.8 155.2h0M392.0 150.9h0M389.1 151.9h0M354.0 197.3h0M422.6 123.9h0M359.0 184.3h0M346.5 189.0h0M411.4 134.1h0M336.1 203.6h0M324.2 207.8h0M371.7 165.9h0M376.6 171.8h0M412.1 129.3h0M402.2 145.6h0M353.5 189.4h0M350.6 186.4h0M441.0 105.8h0M413.8 129.0h0M417.1 125.2h0M385.4 158.5h0M395.3 146.5h0M324.1 221.0h0M393.7 151.7h0M376.8 164.4h0M361.9 182.5h0M417.0 122.2h0M394.9 151.1h0M384.9 160.7h0M357.4 193.7h0M341.8 194.4h0M359.1 175.5h0M332.0 217.2h0M348.6 196.6h0M352.4 179.9h0M342.6 204.8h0M339.7 199.9h0M423.9 123.5h0M344.0 193.8h0M341.6 186.1h0M370.1 176.0h0M386.1 158.7h0M362.6 181.7h0M406.8 140.0h0M408.0 136.5h0M366.8 176.0h0M457.2 88.6h0M369.6 168.8h0M330.8 219.1h0M398.7 147.3h0M441.3 103.8h0M389.5 156.5h0M405.1 143.3h0M403.8 140.3h0M372.5 166.4h0M417.9 130.2h0M358.6 183.8h0M379.6 172.2h0M373.3 173.9h0M325.6 215.9h0M386.7 158.8h0M326.2 210.1h0M426.7 118.0h0M410.2 132.1h0M400.2 144.3h0M397.3 143.1h0M370.5 173.5h0M351.5 204.1h0M331.9 203.5h0M421.5 125.2h0M367.8 175.2h0M427.4 114.8h0M402.8 142.6h0M393.8 150.7h0M332.7 210.9h0M359.3 187.8h0M379.4 163.8h0M433.0 109.5h0M392.2 145.0h0M415.6 131.2h0M347.4 186.0h0M386.7 151.8h0M360.1 182.3h0M392.0 152.6h0M370.2 177.4h0M374.2 176.1h0M395.3 152.3h0M399.3 145.6h0M385.8 158.0h0M426.4 131.3h0M386.8 155.1h0M397.9 143.8h0M375.1 172.0h0M412.2 134.1h0M383.8 159.6h0M414.7 129.8h0M394.5 150.1h0M363.7 181.3h0M345.4 206.3h0M354.0 187.1h0M413.9 132.6h0M335.8 194.2h0M373.2 171.5h0M396.1 154.3h0M427.6 118.1h0M346.6 197.8h0M442.8 100.6h0M408.9 138.5h0M378.8 166.2h0M347.1 191.0h0M382.5 161.5h0M349.4 192.4h0M393.6 151.1h0M331.7 213.3h0M411.9 133.4h0M338.2 205.1h0M389.0 157.0h0M380.7 161.5h0M334.6 211.7h0M369.1 176.4h0M399.9 147.8h0M372.3 178.2h0M403.2 141.3h0M359.4 187.2h0M406.3 134.5h0M358.9 187.7h0M405.2 136.7h0M390.1 157.0h0M413.2 130.1h0M339.4 207.2h0M443.6 100.7h0M386.4 160.2h0M376.3 170.2h0M408.6 136.1h0M404.3 138.3h0M356.2 192.1h0M429.9 115.7h0M351.4 197.4h0M347.2 187.4h0M371.4 171.4h0M363.6 188.0h0M403.4 139.1h0M398.3 145.2h0M392.2 153.8h0M348.5 185.5h0M411.3 136.0h0M388.7 151.3h0M316.5 225.2h0M322.9 214.6h0M416.0 131.7h0M362.8 180.7h0M332.5 205.7h0M432.0 114.8h0M354.9 190.1h0M367.6 176.1h0M378.8 158.3h0M402.8 143.0h0M374.7 160.7h0M358.3 191.7h0M366.0 179.1h0M383.5 158.9h0M352.8 183.1h0M325.8 221.9h0M378.9 166.6h0M423.9 121.5h0M401.0 143.7h0M400.5 144.1h0M424.6 120.1h0M411.6 133.9h0M373.6 168.9h0M410.7 131.6h0M353.2 192.7h0M396.2 148.4h0M387.2 159.0h0M362.1 179.2h0M363.8 175.3h0M383.5 157.1h0M425.5 120.3h0M375.9 168.8h0M405.3 137.2h0M391.0 151.2h0M395.4 147.3h0M410.5 133.0h0M438.5 106.0h0M382.5 180.9h0M385.4 152.7h0M361.8 182.1h0M461.7 84.8h0M402.4 144.3h0M369.2 176.8h0M326.8 212.7h0M397.8 149.9h0M362.0 182.6h0M411.9 128.8h0M351.2 184.6h0M394.0 146.9h0M395.8 154.4h0M315.1 224.3h0M343.4 199.5h0M408.6 125.6h0M392.6 152.4h0M378.4 155.6h0M354.8 184.7h0M389.5 155.0h0M435.4 109.3h0M339.3 201.4h0M425.1 120.9h0M370.5 174.5h0M389.9 152.8h0M398.3 148.0h0M373.2 174.4h0M391.5 154.4h0M347.0 190.3h0M355.0 172.8h0M372.8 171.8h0M356.3 181.0h0M399.6 143.6h0M423.7 119.1h0M386.4 160.4h0M345.9 199.5h0M367.6 173.5h0M343.4 210.9h0M358.1 195.5h0M378.6 162.2h0M381.2 159.4h0M399.7 146.4h0M349.8 188.0h0M382.5 164.3h0M392.0 158.4h0M362.5 174.0h0M400.6 145.3h0M387.0 156.5h0M333.1 216.9h0M394.1 150.4h0M390.2 153.9h0M366.6 175.4h0M363.0 181.1h0M387.7 152.0h0M371.7 172.6h0M394.0 152.2h0M348.0 188.4h0M394.9 153.2h0M430.4 116.8h0M394.4 153.5h0M389.8 155.7h0M390.7 156.4h0M411.6 133.4h0M401.2 146.3h0M340.0 203.8h0M428.4 112.7h0M412.0 137.6h0M391.2 151.7h0M391.4 153.5h0M359.4 187.1h0M408.8 134.6h0M353.9 191.6h0M402.8 141.6h0M391.1 148.8h0M362.1 182.3h0M420.4 124.4h0M342.3 198.7h0M351.1 194.4h0M397.9 144.7h0M395.6 155.3h0M373.8 169.6h0M373.6 170.0h0M343.1 199.4h0M405.2 139.9h0M413.4 133.2h0M320.2 201.4h0M381.0 166.1h0M348.0 192.6h0M359.7 183.5h0M348.5 206.2h0M396.9 142.4h0M363.9 179.2h0M399.6 144.0h0M433.1 115.2h0M393.1 149.1h0M381.4 166.2h0M339.7 199.2h0M384.5 159.1h0M330.1 198.4h0M383.9 166.8h0M336.0 202.6h0M425.9 116.1h0M399.2 143.5h0M404.7 142.9h0M424.9 119.9h0M393.6 150.1h0M374.9 168.0h0M477.0 72.2h0M350.4 187.5h0M415.6 127.9h0M378.0 167.3h0M399.4 145.2h0M340.8 207.8h0M390.6 156.6h0M371.3 174.1h0M360.2 186.0h0M381.7 164.6h0M381.4 163.0h0M401.5 141.5h0M358.1 185.5h0M414.6 127.6h0M415.8 124.3h0M368.3 173.1h0M386.4 154.6h0M376.1 168.4h0M410.1 135.7h0M356.0 185.2h0M342.5 197.5h0M396.7 150.2h0M365.1 179.7h0M358.4 183.8h0M366.6 177.5h0M349.7 192.4h0M336.5 207.1h0M379.5 174.1h0M388.9 152.1h0M351.9 186.5h0M419.2 124.0h0M374.4 168.7h0M380.4 166.1h0M366.4 173.1h0M367.6 172.3h0M411.5 135.3h0M380.0 161.9h0M367.2 174.6h0M417.7 125.6h0M327.5 211.0h0M350.8 186.5h0M384.2 155.4h0M410.4 132.0h0M373.8 171.0h0M396.6 154.8h0M400.3 142.4h0M353.2 187.6h0M367.4 174.7h0M407.5 138.9h0M362.7 186.2h0M396.8 143.5h0M382.0 161.0h0M454.9 91.6h0M427.8 112.2h0M383.7 159.7h0M385.6 155.5h0M380.8 159.4h0M385.9 158.9h0M358.5 184.0h0M402.5 142.8h0M402.2 144.8h0M393.9 148.8h0M448.4 95.5h0M373.1 169.2h0M375.2 167.5h0M402.3 143.6h0M384.2 157.1h0M418.0 126.9h0M442.1 105.1h0M423.4 121.4h0M404.6 142.0h0M335.4 203.8h0M375.8 168.0h0M384.5 160.2h0M355.8 179.5h0M395.5 146.3h0M381.9 164.2h0M383.7 162.2h0M396.7 139.7h0M359.8 187.2h0M317.4 218.9h0M413.0 130.9h0M406.2 138.7h0M412.4 132.4h0M374.9 175.3h0M411.2 135.6h0M403.9 141.2h0M334.5 192.0h0M351.8 193.4h0M417.6 129.7h0M351.2 191.5h0M341.6 195.7h0M405.7 135.6h0M354.9 184.0h0M414.6 127.9h0M387.7 152.0h0M330.9 207.1h0M341.3 188.7h0M356.0 191.3h0M419.0 124.3h0M349.8 201.0h0M404.9 137.4h0M362.5 176.2h0M387.3 157.3h0M383.0 162.7h0M352.6 189.4h0M383.4 162.5h0M428.9 115.7h0M446.2 102.1h0M432.1 115.3h0M412.2 132.2h0M419.8 125.2h0M394.3 148.3h0M354.3 196.8h0M415.5 127.9h0M377.9 167.8h0M371.7 174.4h0M415.7 129.1h0M406.6 141.2h0M376.9 164.8h0M374.0 170.7h0M384.1 161.1h0M408.3 135.7h0M378.3 164.1h0M396.8 145.4h0M401.7 146.8h0M341.6 206.3h0M387.6 158.6h0M381.2 167.8h0M350.2 212.8h0M368.2 173.8h0M349.7 168.6h0M385.8 155.1h0M372.4 174.4h0M329.7 216.2h0M410.3 138.1h0M389.6 153.1h0M390.5 151.0h0M375.0 172.6h0M348.5 191.2h0M353.9 184.3h0M372.0 177.4h0M396.3 149.4h0M415.2 129.8h0M322.2 208.4h0M351.0 192.2h0M410.1 132.7h0M371.2 168.3h0M431.8 112.4h0M396.3 147.6h0M351.7 189.6h0M321.1 216.0h0M451.6 91.8h0M343.4 196.9h0M397.5 148.1h0M417.6 122.4h0M367.5 175.7h0M334.0 216.3h0M399.2 144.6h0M363.5 177.6h0M361.8 182.4h0M424.6 121.6h0M347.3 193.8h0M412.0 135.8h0M403.7 142.2h0M376.7 166.2h0M434.1 112.6h0M329.2 211.2h0M390.8 152.0h0M362.0 182.1h0M384.3 159.2h0M315.0 224.5h0M381.9 167.6h0M373.3 179.1h0M433.0 114.6h0M437.5 108.4h0M372.1 167.1h0M370.4 174.4h0M477.1 69.8h0M356.0 185.9h0M346.5 201.4h0M354.1 195.1h0M346.6 201.3h0M430.3 115.4h0M386.0 158.8h0M430.6 113.9h0M351.4 193.5h0M396.9 146.9h0M429.7 115.4h0M349.6 190.4h0M416.3 131.1h0M428.3 116.9h0M365.1 178.0h0M323.9 222.3h0M363.6 176.4h0M383.2 161.0h0M351.0 190.8h0M376.5 170.0h0M326.8 178.6h0M360.7 183.5h0M368.5 179.9h0M421.8 123.3h0M380.0 167.9h0M397.5 162.1h0M403.9 146.4h0M345.4 196.7h0M331.2 197.2h0M361.0 179.6h0M384.6 154.5h0M404.7 138.8h0M371.2 175.0h0M406.1 136.9h0M352.5 200.4h0M355.6 194.4h0M392.7 149.0h0M398.3 148.4h0M411.9 129.0h0M401.2 144.2h0M398.7 143.5h0M337.1 198.9h0M420.4 124.4h0M396.8 151.2h0M316.7 227.2h0M339.4 199.6h0M438.7 107.3h0M395.3 150.0h0M381.0 161.4h0M397.4 146.6h0M321.7 215.1h0M423.7 123.4h0M451.4 95.2h0M342.1 201.9h0M367.9 174.8h0M364.4 178.5h0M392.4 154.3h0M378.2 163.6h0M421.6 122.6h0M358.9 181.1h0M367.6 179.1h0M416.9 131.4h0M400.7 144.0h0M371.3 173.7h0M385.5 156.2h0M394.1 150.4h0M366.8 179.7h0M415.7 131.4h0M467.0 77.9h0M391.9 150.7h0M373.1 168.6h0M341.1 202.2h0M364.7 171.0h0M359.7 183.5h0M409.1 134.7h0M385.6 156.6h0M386.7 163.4h0M382.0 155.3h0M347.5 191.4h0M365.2 178.9h0M356.1 181.7h0M400.1 142.3h0M367.2 179.9h0M340.3 198.5h0M359.1 182.9h0M349.9 190.1h0M408.2 134.8h0M413.2 132.9h0M397.2 145.6h0M394.1 156.3h0M345.0 205.0h0M411.7 130.7h0M327.3 218.8h0M393.7 151.8h0M397.4 147.3h0M362.2 176.9h0M324.7 182.6h0M422.2 120.9h0M367.6 179.6h0M374.8 171.3h0M322.6 217.3h0M356.3 188.0h0M345.3 186.8h0M383.8 159.3h0M384.6 161.7h0M357.8 189.7h0M375.2 172.8h0M430.6 111.5h0M369.7 172.8h0M367.0 179.1h0M351.9 188.8h0M359.9 177.7h0M362.3 185.9h0M401.1 142.6h0M360.6 177.6h0M343.5 200.9h0M359.2 179.7h0M352.7 187.4h0M395.6 151.4h0M346.8 200.0h0M366.7 165.1h0M320.7 220.5h0M432.7 110.2h0M390.7 155.0h0M349.9 191.3h0M347.9 194.2h0M389.5 156.7h0M387.1 158.6h0M373.8 167.6h0M406.3 138.7h0M361.0 181.1h0M423.7 121.7h0M383.4 161.3h0M366.3 174.5h0M397.0 150.0h0M373.8 178.6h0M446.8 96.5h0M363.9 177.3h0M425.5 117.7h0M386.6 152.0h0M377.5 165.5h0M409.6 135.5h0M339.8 192.1h0M383.6 162.3h0M416.0 127.1h0M366.3 175.3h0M330.6 206.9h0M367.6 172.7h0M395.7 150.9h0M434.1 110.5h0M347.7 190.5h0M365.9 174.1h0M359.8 179.4h0M365.5 174.8h0M358.9 191.0h0M408.3 138.8h0M398.5 144.4h0M430.0 117.6h0M392.7 144.9h0M322.7 219.9h0M406.6 138.8h0M392.7 138.8h0M381.3 158.3h0M440.8 104.8h0M379.3 166.8h0M443.7 100.6h0M398.8 145.7h0M396.4 148.8h0M391.0 155.2h0M386.9 157.1h0M417.9 130.6h0M386.5 163.2h0M394.0 155.8h0M424.6 117.1h0M362.0 175.3h0M419.0 126.4h0M348.1 204.1h0M415.7 131.4h0M348.1 197.7h0M371.6 174.4h0M363.1 179.8h0M401.5 143.4h0M406.5 138.2h0M373.6 166.8h0M375.7 161.7h0M346.0 200.1h0M398.2 150.9h0M398.5 139.3h0M364.7 175.8h0M342.3 207.7h0M370.4 180.5h0M423.7 120.8h0M330.3 224.0h0M362.2 177.4h0M393.2 153.2h0M376.9 164.8h0M354.6 184.1h0M412.5 132.4h0M378.2 162.6h0M376.2 167.4h0M390.1 159.5h0M371.9 175.6h0M361.2 179.1h0M434.4 111.1h0M374.1 171.3h0M396.0 150.0h0M394.3 152.9h0M426.2 114.6h0M393.3 152.9h0M387.6 155.4h0M358.8 189.5h0M353.6 191.2h0M432.3 113.2h0M439.5 105.5h0M379.6 164.0h0M400.9 145.7h0M369.6 172.3h0M419.0 128.1h0M359.0 185.4h0M341.1 199.7h0M343.6 197.9h0M394.9 147.3h0M396.2 151.3h0M448.6 101.8h0M372.9 162.9h0M342.7 193.5h0M363.2 173.3h0M388.7 151.5h0M361.8 186.6h0M379.4 159.6h0M395.0 151.1h0M424.0 121.5h0M388.5 157.5h0M358.9 174.8h0M432.8 114.4h0M421.2 121.9h0M365.4 179.8h0M368.5 182.0h0M430.4 122.6h0M334.3 215.2h0M374.3 166.2h0M380.3 160.6h0M394.6 150.3h0M364.0 185.0h0M371.1 169.6h0M365.5 175.3h0M343.7 200.4h0M365.9 173.7h0M364.7 177.3h0M316.5 218.9h0M402.7 148.7h0M384.0 160.2h0M358.4 187.9h0M332.2 205.5h0M374.3 168.9h0M380.4 161.6h0M361.0 181.4h0M363.0 178.5h0M395.3 155.2h0M411.0 135.7h0M402.3 142.4h0M457.3 89.0h0M340.2 213.5h0M403.9 142.6h0M363.7 184.3h0M370.8 173.0h0M398.7 145.4h0M400.4 142.4h0M400.7 143.4h0M370.9 175.5h0M329.2 229.1h0M367.5 173.5h0M396.8 144.7h0M440.4 103.8h0M355.2 184.7h0M401.8 144.8h0M418.6 128.1h0M402.1 148.7h0M342.5 198.3h0M431.4 113.6h0M362.2 190.2h0M396.7 146.8h0M390.7 153.8h0M412.4 133.1h0M376.9 165.7h0M403.8 140.0h0M375.8 165.1h0M400.9 143.3h0M404.3 142.7h0M428.1 116.4h0M397.9 141.4h0M370.1 171.8h0M455.0 89.2h0M346.8 196.0h0M357.4 183.6h0M328.4 216.3h0M415.9 128.4h0M384.2 164.4h0M334.1 208.0h0M324.7 221.9h0M342.6 190.0h0M400.3 146.9h0M369.9 174.2h0M438.6 108.4h0M364.9 173.7h0M368.8 176.8h0M373.8 173.6h0M415.2 132.1h0M408.5 135.1h0M361.3 173.9h0M374.3 166.3h0M370.3 161.6h0M366.6 175.8h0M409.7 133.7h0M393.9 149.8h0M372.2 171.0h0M413.6 129.9h0M347.7 189.7h0M400.5 146.6h0M375.6 169.4h0M356.1 184.7h0M385.6 157.8h0M400.7 146.4h0M364.2 177.4h0M354.0 186.1h0M367.7 173.5h0M368.3 179.0h0M371.1 171.6h0M378.5 161.1h0M435.2 111.1h0M374.6 169.8h0M380.6 165.1h0M381.8 159.0h0M361.2 176.2h0M434.3 109.3h0M394.7 146.2h0M412.0 135.1h0M366.1 179.9h0M397.6 144.8h0M377.2 164.5h0M372.5 169.2h0M413.4 131.4h0M376.7 167.5h0M430.6 115.7h0M356.4 184.6h0M380.5 159.4h0M373.6 171.5h0M411.3 129.7h0M384.6 160.2h0M379.2 163.8h0M359.7 180.0h0M444.0 99.5h0M387.7 160.2h0M417.6 124.1h0M458.2 87.7h0M406.2 139.6h0M348.3 190.3h0M410.1 135.7h0M350.9 195.2h0M359.9 177.2h0M409.2 136.6h0M396.6 144.2h0M351.1 185.3h0M377.2 170.8h0M400.7 142.4h0M387.4 152.6h0M344.8 207.5h0M424.2 119.4h0M372.4 146.7h0M327.3 224.1h0M352.4 206.1h0M346.1 202.0h0M377.4 166.2h0M343.6 186.1h0M353.9 191.5h0M447.5 98.6h0M382.1 161.6h0M413.0 135.0h0M357.4 185.9h0M398.3 144.1h0M384.9 158.8h0M352.3 189.4h0M409.9 135.6h0M390.2 156.3h0M331.6 212.8h0M349.7 194.2h0M311.1 220.9h0M412.9 130.9h0M350.7 187.1h0M401.4 143.9h0M386.3 155.8h0M404.1 141.6h0M368.4 170.9h0M366.1 173.8h0M333.3 215.8h0M389.5 156.3h0M394.1 145.9h0M322.6 223.7h0M394.9 156.0h0M378.8 165.5h0M378.9 169.7h0M353.1 191.7h0M398.4 147.0h0M360.9 179.6h0M361.9 182.5h0M365.8 174.0h0M391.6 138.8h0M400.2 146.0h0M429.7 117.1h0M351.8 194.4h0M391.6 152.8h0M353.8 182.2h0M397.1 145.0h0M425.8 117.1h0M415.8 127.4h0M378.0 164.4h0M384.5 157.7h0M403.2 145.4h0M343.5 200.7h0M388.9 155.3h0M326.1 213.3h0M387.9 152.1h0M409.8 133.7h0M381.6 158.1h0M367.1 182.9h0M385.6 165.7h0M401.6 137.0h0M397.7 147.8h0M390.1 158.4h0M371.2 170.2h0M408.5 140.2h0M439.3 103.0h0M346.8 201.8h0M380.4 163.3h0M388.3 152.2h0M340.2 203.0h0M398.0 138.2h0M411.4 137.1h0M428.8 115.1h0M386.3 158.6h0M408.3 130.6h0M419.5 122.3h0M374.2 167.2h0M359.7 176.2h0M331.5 205.8h0M382.2 164.7h0M389.9 155.2h0M373.8 165.4h0M384.7 160.2h0M389.0 155.0h0M370.9 171.5h0M351.1 200.1h0M399.6 140.6h0M366.0 174.4h0M398.1 150.3h0M402.5 139.7h0M377.4 173.3h0M426.0 122.1h0M401.0 146.5h0M384.9 158.2h0M341.4 199.3h0M403.3 138.6h0M351.7 179.4h0M380.5 159.0h0M330.4 202.8h0M378.2 162.4h0M356.8 183.3h0M381.9 167.6h0M364.7 178.0h0M435.3 110.3h0M405.2 138.5h0M366.1 174.7h0M354.4 188.9h0M383.9 162.0h0M381.4 164.3h0M350.5 195.1h0M332.2 207.2h0M318.8 224.3h0M378.1 165.9h0M401.1 141.2h0M353.0 193.5h0M358.0 176.3h0M418.1 126.3h0M385.2 161.2h0M367.4 182.9h0M331.7 205.6h0M372.8 157.8h0M346.8 189.3h0M364.6 182.4h0M393.2 151.8h0M434.3 111.3h0M375.5 170.3h0M335.5 201.3h0M367.6 171.3h0M370.3 170.4h0M391.5 153.2h0M361.6 180.2h0M394.2 150.9h0M405.0 137.3h0M352.3 194.1h0M347.2 198.3h0M397.0 144.1h0M397.0 143.1h0M333.4 211.2h0M321.0 221.4h0M413.8 134.9h0M419.4 124.6h0M428.6 119.5h0M399.6 147.5h0M369.6 173.2h0M364.6 175.6h0M325.2 216.9h0M363.4 186.3h0M365.1 179.8h0M371.5 172.0h0M406.4 140.3h0M396.8 146.0h0M403.5 141.0h0M372.6 173.4h0M357.8 183.3h0M411.1 127.4h0M432.2 113.6h0M328.9 185.0h0M333.1 203.4h0M340.1 207.5h0M358.2 185.2h0M384.2 156.7h0M333.4 206.5h0M382.8 156.7h0M377.7 168.9h0M378.3 170.4h0M406.0 142.1h0M375.9 170.5h0M357.1 182.6h0M385.6 156.4h0M333.9 207.2h0M388.2 158.8h0M409.9 134.9h0M344.4 200.2h0M417.6 129.6h0M409.6 136.4h0M360.5 183.1h0M448.8 100.7h0M340.0 205.1h0M422.0 126.0h0M408.2 137.6h0M349.6 200.0h0M405.2 133.7h0M409.4 136.1h0M364.6 180.2h0M393.1 152.0h0M409.5 135.0h0M354.8 182.3h0M331.7 205.7h0M397.7 148.3h0M375.0 167.6h0M368.4 173.1h0M385.7 158.2h0M445.3 98.7h0M365.1 175.4h0M408.1 135.7h0M391.2 152.0h0M427.5 120.8h0M449.3 99.0h0M408.4 131.1h0M328.0 214.5h0M380.5 159.5h0M388.1 156.7h0M381.6 157.6h0M435.4 112.2h0M390.2 154.1h0M405.7 138.2h0M398.6 142.6h0M356.7 185.9h0M385.5 157.5h0M400.3 147.5h0M366.9 180.9h0M384.3 149.4h0M384.3 159.4h0M393.9 154.5h0M361.0 180.7h0M369.1 180.2h0M365.1 177.6h0M381.9 159.3h0M406.8 134.9h0M399.6 143.7h0M448.6 96.9h0M390.3 153.1h0M387.8 155.0h0M390.1 158.6h0M337.6 204.6h0M383.8 159.3h0M400.2 141.3h0M387.0 154.0h0M384.0 155.0h0M372.1 169.0h0M375.3 167.0h0M369.7 178.9h0M386.3 160.8h0M379.2 165.8h0M357.7 184.9h0M390.9 161.0h0M422.5 120.3h0M388.9 154.9h0M390.1 152.4h0M403.9 146.4h0M389.3 152.7h0M376.6 164.2h0M417.5 128.9h0M388.3 157.9h0M409.6 137.3h0M386.2 160.2h0M372.1 169.1h0M404.2 139.2h0M348.9 188.9h0M354.1 182.9h0M363.5 177.7h0M349.3 204.3h0M326.8 229.3h0M388.9 155.6h0M359.8 184.2h0M379.2 158.9h0M377.5 160.7h0M364.2 183.7h0M377.7 162.6h0M368.4 172.7h0M386.4 159.3h0M360.3 182.3h0M333.9 202.0h0M330.4 207.4h0M372.9 171.5h0M432.3 111.8h0M386.2 156.7h0M405.5 135.9h0M373.5 171.3h0M406.7 139.7h0M387.5 152.6h0M370.7 189.5h0M368.5 177.6h0M362.7 169.7h0M375.5 170.9h0M360.0 181.8h0M410.3 134.6h0M379.6 164.6h0M385.6 161.6h0M417.1 128.3h0M383.9 163.9h0M350.4 190.5h0M360.1 179.1h0M375.9 162.6h0M391.1 154.2h0M368.3 174.5h0M403.3 143.7h0M383.2 159.6h0M374.7 163.0h0M438.3 105.8h0M369.7 175.5h0M421.4 124.6h0M397.1 150.5h0M395.6 149.0h0M340.2 208.7h0M407.4 137.1h0M380.1 165.1h0M360.8 188.0h0M397.6 139.5h0M340.5 203.4h0M364.1 176.0h0M383.0 161.3h0M386.1 158.1h0M383.7 158.8h0M335.7 207.1h0M370.2 174.1h0M374.9 169.5h0M406.3 134.3h0M345.9 200.3h0M352.7 188.2h0M355.6 186.8h0M383.4 157.0h0M331.3 208.5h0M402.0 140.4h0M325.6 215.3h0M391.5 148.7h0M385.6 159.0h0M406.2 136.6h0M362.1 180.7h0M377.7 164.2h0M327.2 220.5h0M380.1 158.4h0M396.0 143.5h0M362.5 176.6h0M358.4 182.6h0M392.6 150.7h0M366.3 182.1h0M333.0 204.4h0M409.8 139.6h0M369.6 175.3h0M377.9 164.1h0M396.5 146.0h0M391.7 152.8h0M391.8 154.5h0M320.3 223.2h0M342.0 218.5h0M336.3 209.5h0M317.9 218.4h0M339.3 210.8h0M336.2 207.0h0M333.2 211.0h0M332.4 214.1h0M331.2 215.6h0M339.5 203.4h0M322.2 228.7h0M341.3 207.4h0M334.5 208.7h0M332.1 205.2h0M319.8 229.2h0M327.4 224.3h0M339.0 212.4h0M321.3 221.1h0M329.5 211.6h0M325.1 215.1h0M324.0 219.1h0M328.0 220.7h0M341.1 210.2h0M320.8 220.6h0M320.3 222.6h0M321.9 230.5h0M321.1 225.9h0M322.7 219.7h0M332.0 213.5h0M329.8 216.9h0M336.9 215.4h0M339.9 202.0h0M336.5 215.9h0M333.7 215.7h0M328.5 217.9h0M321.3 230.7h0M322.0 228.1h0M331.7 214.3h0M329.8 221.2h0M322.0 219.8h0M342.2 204.7h0M331.4 219.3h0M323.7 226.9h0M337.2 210.2h0M325.4 210.0h0M337.5 210.4h0M328.7 208.8h0M340.3 205.4h0M324.3 216.7h0M340.8 208.9h0M340.1 203.8h0M337.0 207.4h0M322.1 219.4h0M323.4 220.0h0M320.3 220.4h0M321.1 225.2h0M319.9 222.7h0M332.9 217.0h0M322.8 224.0h0M337.0 203.9h0M328.2 215.5h0M320.1 231.0h0M312.4 223.6h0M332.6 215.0h0M337.8 199.5h0M341.6 206.2h0M342.2 202.1h0M339.9 200.3h0M320.0 218.0h0M330.1 219.4h0" stroke="#a9caee" stroke-width="1.2" stroke-linecap="round" fill="none"/>
<path d="M436.3 107.8h0M419.5 125.7h0M423.9 119.8h0M454.8 91.5h0M425.2 119.3h0M459.4 86.2h0M410.0 133.9h0M431.5 113.5h0M441.8 103.2h0M461.2 84.7h0M455.2 91.0h0M455.2 89.7h0M434.2 110.0h0M443.3 100.8h0M432.2 113.4h0M425.6 118.4h0M459.9 86.9h0M422.9 122.9h0M431.4 111.7h0M462.5 83.4h0M425.0 119.0h0M410.3 134.7h0M464.7 81.1h0M467.2 79.6h0M458.0 87.2h0M465.2 82.1h0M468.4 77.4h0M431.6 113.9h0M422.2 122.5h0M467.1 77.8h0M431.8 112.8h0M414.9 130.7h0M464.3 82.8h0M438.5 106.8h0M472.4 73.9h0M429.0 116.3h0M442.3 104.0h0M442.5 102.9h0M462.8 82.9h0M431.0 112.8h0M459.6 87.1h0M458.6 87.5h0M432.7 111.7h0M445.0 100.9h0M456.6 89.0h0M442.2 104.4h0M471.3 74.8h0M437.3 107.5h0M423.9 121.2h0M431.0 114.4h0M448.4 98.3h0M459.1 86.9h0M444.1 99.4h0M450.7 94.4h0M432.6 112.4h0M430.4 114.3h0M440.0 106.2h0M445.9 98.6h0M447.9 95.8h0M475.9 70.3h0M449.3 97.4h0M439.8 105.1h0M475.5 71.1h0M415.1 129.8h0M432.7 111.7h0M430.8 115.0h0M448.4 97.0h0M437.5 107.4h0M445.0 99.7h0M417.6 128.2h0M410.2 134.5h0M444.5 100.9h0M432.3 114.1h0M413.4 131.5h0M453.2 93.0h0M457.3 89.3h0M446.3 97.7h0M412.9 131.3h0M450.2 95.1h0M421.4 123.0h0M455.3 90.8h0M472.9 73.1h0M452.6 93.7h0M460.8 85.0h0M453.8 92.4h0M430.1 113.9h0M447.1 98.6h0M474.7 71.5h0M437.3 108.5h0M469.9 76.6h0M421.4 123.2h0M425.8 119.4h0M420.5 123.2h0M463.0 83.8h0M432.7 111.5h0M464.5 81.5h0M420.3 126.3h0M436.0 108.8h0M461.4 85.6h0M445.1 99.8h0M449.1 96.5h0M413.0 131.3h0M439.5 104.0h0M440.6 104.2h0M471.7 74.4h0M423.7 120.1h0M459.8 86.3h0M430.9 115.1h0M418.8 126.8h0M465.5 81.8h0M464.4 81.9h0M444.3 102.3h0M454.5 90.8h0M427.4 117.9h0M416.5 128.4h0M454.8 90.7h0M434.6 108.9h0M434.7 111.5h0M474.9 70.8h0M411.0 134.3h0M463.1 82.9h0M423.2 120.4h0M457.9 87.9h0M456.8 90.1h0M414.1 131.4h0M464.3 81.2h0M424.6 119.9h0M462.6 83.6h0M471.8 74.2h0M437.9 107.8h0M434.7 110.1h0M424.3 121.0h0M420.2 124.7h0M444.3 100.9h0M471.1 75.3h0M452.1 93.3h0M437.8 107.5h0M470.4 75.4h0M471.6 75.1h0M436.7 108.8h0M457.1 88.6h0M418.0 126.7h0M468.8 77.7h0M469.6 76.9h0M417.0 126.8h0M445.2 101.4h0M409.8 134.0h0M476.2 71.1h0M411.3 132.9h0M457.5 88.4h0M439.6 105.8h0M411.7 133.9h0M461.2 85.2h0M431.8 113.7h0M425.5 120.0h0M447.0 98.4h0M411.9 134.4h0M425.0 119.3h0M415.2 128.8h0M435.7 109.4h0M426.6 119.7h0M452.5 93.0h0M412.7 131.2h0M445.9 100.2h0M471.8 74.9h0M421.9 123.4h0M412.0 132.4h0M412.5 132.9h0M427.4 116.2h0M432.7 111.9h0M430.7 115.3h0M441.0 104.1h0M418.7 125.6h0M453.5 92.3h0M438.8 106.5h0M466.0 79.5h0M474.8 71.2h0M423.4 121.2h0M470.0 76.6h0M449.5 97.0h0M432.2 112.1h0M457.3 88.6h0M452.1 94.3h0M461.8 84.4h0M446.8 100.1h0M452.1 94.2h0M416.4 128.8h0M452.1 93.9h0M438.5 106.1h0M450.9 93.4h0M465.8 79.8h0M455.6 90.2h0M455.2 90.8h0M424.8 119.9h0M467.0 78.5h0M413.6 130.3h0M432.8 112.5h0M427.4 118.1h0M446.3 98.6h0M417.3 126.4h0M418.1 126.3h0M432.5 112.6h0M415.8 129.9h0M475.0 70.5h0M412.9 132.9h0M460.3 86.3h0M434.7 110.1h0M451.4 94.2h0M471.1 75.7h0M452.6 92.6h0M463.0 83.1h0M459.2 86.7h0M437.7 108.3h0M413.5 130.7h0M454.4 91.5h0M432.1 112.9h0M426.9 118.6h0M425.6 120.0h0M446.1 98.9h0M431.8 114.4h0M407.2 138.6h0M382.6 160.4h0M392.0 152.1h0M415.7 128.8h0M418.2 125.8h0M372.2 170.5h0M368.2 174.1h0M386.4 158.3h0M332.8 208.1h0M360.2 182.6h0M402.0 142.1h0M400.4 144.0h0M372.3 170.6h0M420.4 125.5h0M370.7 172.4h0M434.6 110.6h0M467.0 78.6h0M398.9 143.4h0M401.7 142.4h0M365.1 178.9h0M374.4 168.6h0M379.3 165.7h0M418.1 126.5h0M439.8 104.9h0M400.8 143.1h0M353.5 190.1h0M406.0 136.9h0M418.1 127.5h0M410.6 134.0h0M419.0 126.1h0M416.2 129.3h0M341.1 202.2h0M346.5 198.3h0M394.5 149.7h0M350.8 191.9h0M389.3 154.4h0M395.1 149.5h0M335.9 207.0h0M374.1 168.8h0M347.7 195.8h0M372.2 171.0h0M381.4 162.4h0M365.1 178.2h0M377.4 166.8h0M393.5 150.3h0M398.8 145.6h0M357.4 185.9h0M428.2 116.3h0M383.9 160.3h0M332.2 209.5h0M394.1 151.3h0M337.8 206.1h0M402.9 141.2h0M398.5 144.6h0M358.8 184.8h0M413.2 130.9h0M353.7 188.7h0M434.6 110.9h0M436.0 110.4h0M423.6 121.4h0M384.6 160.3h0M350.6 191.1h0M421.4 121.2h0M401.5 143.1h0M391.8 151.7h0M397.3 146.1h0M382.3 162.7h0M410.0 132.9h0M401.4 143.4h0M402.4 143.1h0M423.2 120.7h0M399.1 146.0h0M394.9 148.1h0M415.3 129.6h0M469.8 76.1h0M416.2 127.8h0M390.5 153.6h0M389.4 156.4h0M343.0 199.1h0M375.3 168.4h0M410.1 135.2h0M391.1 152.6h0M411.4 133.7h0M353.8 189.7h0M386.0 159.0h0M406.7 137.5h0M331.3 209.7h0M424.9 121.1h0M412.8 131.4h0M349.6 192.3h0M363.3 178.9h0M399.2 143.8h0M349.5 192.6h0M417.5 126.9h0M397.0 147.1h0M382.4 161.5h0M379.4 164.9h0M427.6 116.7h0M394.5 147.6h0M390.3 153.1h0M363.7 180.0h0M379.0 165.6h0M412.6 132.5h0M335.4 205.8h0M412.4 132.3h0M408.8 137.2h0M365.6 178.5h0M372.8 170.3h0M357.7 183.7h0M426.0 118.9h0M403.5 141.5h0M443.5 101.1h0M410.5 132.5h0M382.0 163.0h0M411.4 133.7h0M416.8 128.0h0M396.2 148.6h0M363.8 178.2h0M435.4 108.6h0M376.7 167.5h0M366.0 177.5h0M413.8 129.6h0M363.0 179.0h0M379.5 164.8h0M386.2 157.2h0M401.9 142.3h0M399.1 146.5h0M399.9 144.0h0M417.9 126.5h0M412.0 133.3h0M391.0 154.1h0M346.3 195.2h0M436.4 108.1h0M363.2 178.6h0M422.9 120.8h0M387.6 156.7h0M381.0 162.9h0M424.5 119.6h0M376.5 166.4h0M385.2 157.5h0M405.1 139.3h0M339.7 203.1h0M396.9 145.8h0M390.8 152.9h0M433.0 112.3h0M410.4 134.4h0M370.1 173.8h0M354.7 189.1h0M390.6 152.9h0M381.3 161.7h0M408.8 133.8h0M395.8 146.9h0M426.2 118.4h0M432.7 113.1h0M417.7 127.0h0M431.7 113.9h0M429.7 117.2h0M366.9 177.8h0M430.7 116.6h0M365.2 177.7h0M429.8 114.5h0M380.0 162.7h0M391.0 154.1h0M412.8 130.6h0M382.8 160.6h0M361.9 181.3h0M342.7 199.5h0M383.7 159.9h0M377.4 166.8h0M364.4 179.0h0M393.2 151.3h0M389.2 155.1h0M458.3 86.8h0M332.4 210.7h0M353.3 190.0h0M375.5 167.5h0M365.2 178.2h0M405.8 138.3h0M373.6 171.1h0M420.1 124.8h0M378.7 164.8h0M386.6 154.8h0M368.6 175.2h0M416.4 127.0h0M402.3 140.8h0M361.0 183.8h0M435.7 109.6h0M372.5 172.4h0M389.0 155.0h0M357.7 186.3h0M367.3 175.6h0M384.4 158.5h0M387.9 155.2h0M396.3 148.3h0M362.8 180.8h0M398.5 146.1h0M354.6 187.2h0M434.4 111.7h0M382.7 161.4h0M406.0 139.7h0M424.1 120.7h0M359.9 182.1h0M339.8 203.0h0M384.3 158.2h0M395.7 147.4h0M397.7 145.6h0M393.2 150.0h0M372.3 170.8h0M414.8 130.0h0M368.5 174.2h0M389.2 154.8h0M383.2 159.2h0M447.2 98.2h0M364.5 178.5h0M351.1 191.9h0M393.5 151.2h0M391.2 150.9h0M427.8 118.0h0M361.4 181.0h0M350.1 192.8h0M359.2 183.4h0M369.0 174.4h0M408.1 135.7h0M399.4 144.6h0M380.4 162.7h0M422.4 122.9h0M335.3 205.9h0M403.8 142.4h0M395.9 147.5h0M340.8 202.3h0M404.1 139.8h0M439.4 106.0h0M368.5 175.2h0M382.0 162.4h0M412.6 130.0h0M414.0 132.3h0M403.8 140.3h0M360.9 182.9h0M423.3 122.3h0M390.6 154.0h0M399.8 146.0h0M382.5 160.0h0M371.8 170.6h0M348.0 195.6h0M410.7 133.5h0M406.6 137.6h0M418.2 127.4h0M443.2 102.8h0M437.8 107.3h0M384.3 160.5h0M415.8 129.2h0M393.9 149.7h0M400.9 144.0h0M370.0 173.8h0M380.6 163.3h0M363.7 178.7h0M365.4 177.3h0M426.8 117.4h0M358.2 184.5h0M404.0 139.6h0M352.7 190.6h0M417.9 127.2h0M443.1 103.4h0M389.1 154.3h0M396.5 148.8h0M356.5 186.1h0M368.1 175.5h0M377.5 166.1h0M405.3 139.3h0M407.0 137.6h0M394.6 150.2h0M335.5 206.3h0M332.6 208.2h0M367.4 175.8h0M382.5 160.8h0M396.9 146.9h0M359.5 183.0h0M392.7 151.9h0M381.2 162.9h0M407.2 137.0h0M402.7 141.3h0M357.1 187.8h0M391.3 153.8h0M426.9 119.2h0M382.5 161.2h0M382.6 161.5h0M435.1 110.0h0M371.5 171.8h0M397.3 147.1h0M344.5 197.4h0M415.9 128.1h0M385.4 158.2h0M384.5 158.8h0M402.0 143.0h0M348.0 193.9h0M388.9 154.2h0M385.5 157.5h0M391.3 151.7h0M358.0 185.4h0M416.4 128.1h0M394.1 150.0h0M366.5 176.9h0M399.3 145.1h0M340.1 201.8h0M415.2 128.8h0M412.7 132.6h0M391.6 153.0h0M378.6 164.6h0M346.0 195.4h0M394.2 149.5h0M349.3 193.5h0M361.4 181.8h0M418.0 127.0h0M352.4 191.2h0M386.8 157.4h0M374.3 168.5h0M374.2 167.8h0M372.4 170.7h0M400.3 141.7h0M412.8 132.4h0M389.8 154.3h0M418.2 126.8h0M348.5 193.6h0M373.9 168.2h0M375.5 167.8h0M391.0 153.8h0M379.5 165.2h0M376.7 166.5h0M401.6 143.9h0M365.1 177.8h0M382.8 160.6h0M415.1 130.3h0M403.4 140.3h0M388.2 153.6h0M374.5 170.0h0M346.4 195.9h0M404.7 137.7h0M395.0 149.2h0M396.8 147.4h0M380.7 160.5h0M379.7 163.8h0M383.5 159.7h0M431.6 113.4h0M373.8 168.7h0M393.6 150.6h0M398.7 145.1h0M413.4 132.0h0M378.0 165.7h0M381.5 161.6h0M389.2 155.3h0M394.3 149.4h0M347.5 194.7h0M431.3 113.3h0M380.6 162.6h0M399.3 142.8h0M416.0 127.9h0M427.6 118.7h0M338.1 204.3h0M403.5 140.5h0M454.0 92.2h0M395.0 148.8h0M400.4 143.1h0M362.1 181.1h0M385.2 158.2h0M398.4 146.8h0M376.2 167.1h0M445.0 101.4h0M368.4 175.3h0M378.8 163.8h0M391.7 153.5h0M412.7 130.4h0M382.8 161.7h0M412.2 133.0h0M401.2 142.5h0M402.2 141.6h0M343.1 199.6h0M411.1 131.6h0M367.7 176.2h0M387.8 154.5h0M390.9 152.4h0M417.6 126.0h0M363.1 179.5h0M383.6 159.8h0M383.1 159.7h0M387.7 155.0h0M369.7 174.2h0M369.6 173.6h0M383.7 161.2h0M408.6 137.6h0M360.0 182.9h0M396.4 148.3h0M373.0 170.7h0M359.2 185.7h0M445.1 99.8h0M428.7 116.0h0M426.4 118.3h0M370.6 173.0h0M340.9 199.7h0M458.5 86.7h0M344.0 199.0h0M432.6 112.6h0M421.4 122.2h0M364.5 177.7h0M429.0 115.6h0M394.1 150.6h0M339.0 202.7h0M360.4 182.4h0M441.5 103.3h0M347.8 194.9h0M379.5 164.5h0M391.5 152.7h0M400.4 143.3h0M371.2 172.5h0M418.5 127.9h0M407.7 137.3h0M361.4 181.8h0M369.6 174.2h0M335.4 206.8h0M377.7 165.4h0M427.1 118.4h0M355.6 186.9h0M355.3 186.9h0M373.8 170.1h0M441.8 103.0h0M376.8 166.4h0M410.8 133.2h0M383.2 159.8h0M393.5 149.9h0M404.6 141.4h0M402.3 141.5h0M432.0 114.0h0M375.4 167.3h0M421.9 123.9h0M372.6 170.5h0M374.1 168.9h0M415.2 129.0h0M361.8 181.1h0M386.5 158.3h0M406.5 138.3h0M336.4 205.1h0M404.8 141.0h0M355.7 185.8h0M418.2 127.0h0M417.3 128.6h0M375.9 167.0h0M447.9 97.6h0M369.8 173.8h0M389.1 154.0h0M400.5 143.2h0M401.8 141.8h0M363.6 179.1h0M377.9 165.4h0M367.9 175.9h0M340.6 201.0h0M388.9 155.7h0M424.7 119.7h0M397.5 146.2h0M409.6 133.9h0M388.4 155.8h0M334.6 206.5h0M415.0 129.4h0M381.5 163.0h0M362.8 179.5h0M454.1 90.5h0M376.8 166.5h0M365.8 177.3h0M346.6 196.2h0M387.6 156.5h0M341.1 201.3h0M332.0 209.9h0M464.5 81.6h0M369.4 174.6h0M367.1 175.8h0M431.9 112.7h0M413.7 130.7h0M349.8 192.8h0M403.9 140.8h0M347.5 193.5h0M410.2 134.6h0M355.3 187.4h0M384.2 160.0h0M381.9 162.0h0M383.6 160.4h0M415.9 127.9h0M359.6 183.4h0M373.5 169.2h0M414.7 128.6h0M389.5 155.4h0M449.1 96.6h0M393.9 150.5h0M454.2 90.7h0M352.1 189.3h0M388.1 154.9h0M400.6 142.8h0M343.6 200.0h0M370.5 173.0h0M370.2 173.6h0M448.1 98.4h0M398.5 145.7h0M422.1 122.2h0M446.5 100.4h0M418.9 126.7h0M377.5 166.4h0M347.3 195.4h0M420.9 124.4h0M403.8 141.0h0M394.2 150.6h0M362.7 181.0h0M360.9 181.8h0M416.6 126.6h0M446.9 99.3h0M389.9 154.1h0M419.7 124.7h0M394.5 148.2h0M346.3 195.5h0M377.5 165.3h0M386.0 158.5h0M391.6 151.2h0M419.0 124.3h0M418.1 127.2h0M403.1 141.9h0M432.1 113.6h0M417.5 125.8h0M383.6 159.4h0M382.1 162.5h0M375.0 169.0h0M416.9 127.4h0M384.8 159.9h0M394.1 149.7h0M358.1 184.4h0M367.5 175.4h0M332.8 207.5h0M371.3 171.4h0M401.5 143.6h0M387.3 156.7h0M334.7 206.6h0M398.9 145.0h0M378.6 163.4h0M377.8 165.9h0M393.4 149.5h0M386.1 157.0h0M407.9 139.0h0M349.0 194.2h0M383.2 160.2h0M406.8 138.5h0M363.0 179.7h0M381.5 162.8h0M389.1 155.5h0M442.0 103.6h0M387.3 157.0h0M415.4 128.4h0M365.0 178.3h0M411.3 133.0h0M381.7 160.7h0M436.5 108.2h0M397.0 147.2h0M392.4 149.7h0M406.0 138.2h0M358.3 184.1h0M435.8 109.8h0M362.6 180.4h0M408.6 136.2h0M354.2 188.0h0M346.3 196.5h0M351.1 192.8h0M392.3 151.7h0M442.6 101.8h0M362.6 179.8h0M332.9 210.0h0M395.5 148.0h0M384.3 158.6h0M385.7 157.0h0M373.8 169.4h0M392.0 152.3h0M434.2 112.0h0M408.3 135.7h0M348.8 194.2h0M381.2 162.1h0M392.7 151.3h0M421.5 124.3h0M366.0 178.2h0M354.0 188.5h0M331.8 210.1h0M344.5 198.8h0M333.2 208.0h0M405.1 139.7h0M392.6 151.4h0M354.1 188.4h0M392.7 151.7h0M405.3 140.7h0M357.0 185.5h0M356.8 185.7h0M374.0 169.4h0M424.2 120.6h0M374.5 167.1h0M394.0 150.2h0M388.7 155.6h0M395.8 149.0h0M404.1 139.3h0M378.8 163.8h0M439.0 105.6h0M416.2 129.4h0M437.1 107.8h0M357.4 185.3h0M405.5 139.2h0M395.0 149.2h0M391.1 151.8h0M354.9 188.9h0M359.1 185.6h0M388.1 156.3h0M399.9 146.3h0M400.1 143.8h0M392.4 151.5h0M374.6 167.9h0M391.8 153.3h0M391.8 153.1h0M384.1 158.7h0M435.8 108.4h0M394.1 150.4h0M412.9 131.8h0M407.9 136.9h0M410.2 134.9h0M383.2 162.4h0M393.1 150.1h0M373.4 169.9h0M436.2 109.7h0M409.7 135.2h0M387.4 156.9h0M390.1 154.4h0M405.3 138.8h0M372.5 170.4h0M441.7 103.1h0M380.9 162.4h0M373.7 169.7h0M435.9 110.1h0M415.1 129.4h0M433.7 110.4h0M366.5 177.9h0M392.7 150.0h0M386.8 157.3h0M374.3 169.7h0M358.3 184.5h0M365.0 178.6h0M401.2 143.5h0M373.2 169.5h0M431.8 112.4h0M361.7 181.5h0M349.7 191.5h0M393.5 150.0h0M387.8 156.3h0M407.6 136.6h0M346.7 196.7h0M374.1 170.6h0M415.4 129.3h0M439.3 106.4h0M374.2 170.7h0M385.8 157.5h0M370.1 174.6h0M372.8 169.8h0M397.7 146.8h0M366.0 177.9h0M350.9 190.4h0M371.5 170.8h0M345.5 196.8h0M393.9 150.2h0M355.4 187.2h0M399.5 144.2h0M372.9 171.0h0M354.8 186.7h0M409.2 135.7h0M364.5 177.4h0M387.4 155.9h0M379.2 163.5h0M400.0 143.8h0M419.4 123.8h0M371.4 171.6h0M369.7 174.2h0M398.6 145.2h0M361.5 181.9h0M338.8 203.2h0M406.6 137.9h0M415.5 129.6h0M353.9 187.7h0M382.6 160.6h0M390.8 153.1h0M400.2 145.1h0M367.3 175.3h0M371.5 171.0h0M376.0 168.2h0M372.9 170.7h0M381.3 161.9h0M353.5 189.9h0M335.8 207.0h0M434.7 111.2h0M387.1 156.5h0M429.5 116.2h0M382.9 160.1h0M385.7 158.1h0M381.6 162.7h0M372.1 172.0h0M434.9 110.2h0M334.5 208.4h0M362.5 179.2h0M407.4 136.4h0M385.9 157.1h0M364.9 178.4h0M388.3 155.2h0M355.1 187.4h0M408.8 135.8h0M431.5 113.7h0M389.9 154.5h0M400.7 143.0h0M368.0 174.1h0M377.5 165.7h0M397.7 147.9h0M366.6 177.0h0M377.7 165.8h0M372.5 169.5h0M410.5 133.9h0M359.1 182.0h0M406.0 137.7h0M420.7 123.8h0M349.9 192.3h0M397.3 147.6h0M333.8 208.3h0M360.2 182.5h0M397.2 146.9h0M397.9 146.9h0M418.1 126.5h0M341.5 201.8h0M392.4 153.0h0M420.8 124.5h0M422.4 122.0h0M386.6 157.8h0M393.1 150.3h0M413.5 130.7h0M424.3 121.4h0M381.7 160.7h0M413.8 130.9h0M389.8 154.8h0M402.6 141.0h0M418.4 125.7h0M392.6 150.3h0M389.6 155.0h0M392.0 151.9h0M409.0 135.1h0M403.6 139.9h0M418.8 126.2h0M458.1 88.5h0M397.0 146.9h0M343.0 199.2h0M408.0 136.3h0M357.9 185.6h0M411.5 134.0h0M390.1 154.9h0M418.2 125.8h0M404.3 139.5h0M378.1 166.5h0M363.1 180.8h0M385.4 158.9h0M374.2 168.9h0M387.3 156.9h0M378.9 164.2h0M377.7 167.4h0M352.8 189.9h0M369.2 174.9h0M389.8 153.3h0M397.8 146.7h0M374.9 167.7h0M404.2 139.9h0M378.5 164.2h0M376.8 168.0h0M376.9 167.1h0M356.3 186.9h0M459.6 87.6h0M363.3 180.3h0M397.2 147.2h0M390.2 154.0h0M344.9 197.3h0M398.7 144.9h0M401.2 141.8h0M403.8 140.7h0M404.1 141.8h0M385.1 158.3h0M386.6 157.7h0M363.5 178.9h0M437.8 107.0h0M380.6 163.6h0M355.5 187.3h0M390.6 152.8h0M411.4 132.4h0M432.7 111.6h0M427.5 119.3h0M371.8 172.4h0M382.3 161.6h0M376.4 168.0h0M430.1 114.3h0M368.9 175.7h0M407.7 137.3h0M362.8 179.9h0M423.9 121.1h0M352.5 189.5h0M391.3 152.9h0M421.0 124.1h0M404.9 139.6h0M357.0 185.9h0M379.0 164.1h0M354.8 187.9h0M407.9 138.2h0M454.3 90.7h0M385.5 158.4h0M364.0 177.4h0M371.5 172.4h0M397.9 145.3h0M346.3 195.5h0M377.6 164.6h0M369.2 175.0h0M388.2 156.4h0M366.1 176.7h0M351.9 191.2h0M380.6 162.9h0M403.7 142.2h0M394.5 150.2h0M386.9 158.0h0M379.5 163.4h0M400.1 143.3h0M357.5 185.4h0M378.2 165.4h0M460.5 86.1h0M379.3 165.0h0M410.6 133.9h0M435.6 110.7h0M351.5 191.9h0M381.1 162.9h0M395.9 149.6h0M343.3 198.8h0M380.1 162.4h0M377.1 165.9h0M398.6 146.4h0M396.6 147.0h0M394.6 147.9h0M384.0 159.3h0M422.9 123.1h0M386.8 157.2h0M345.9 196.0h0M405.6 137.6h0M362.5 180.1h0M406.1 138.0h0M371.9 171.6h0M345.4 196.5h0M357.1 185.7h0M425.7 119.6h0M433.5 112.1h0M341.7 199.6h0M358.4 183.3h0M372.8 172.5h0M353.5 188.8h0M343.8 199.7h0M359.9 182.3h0M345.9 195.7h0M404.9 139.4h0M408.7 135.6h0M341.9 201.1h0M395.5 147.9h0M373.2 171.2h0M356.0 187.0h0M384.2 159.7h0M410.2 134.0h0M420.6 123.6h0M399.9 144.6h0M372.0 171.7h0M425.6 120.3h0M368.6 174.6h0M341.3 201.0h0M401.3 142.1h0M387.5 156.5h0M354.8 187.5h0M407.7 136.8h0M419.8 125.4h0M377.9 165.0h0M382.7 161.5h0M406.6 136.9h0M381.6 162.8h0M385.4 158.5h0M409.5 133.8h0M375.1 169.1h0M406.2 137.9h0M365.2 176.2h0M369.0 175.6h0M353.0 191.8h0M396.9 147.6h0M376.2 166.5h0M401.3 143.2h0M403.0 140.8h0M370.8 171.9h0M391.2 151.9h0M354.0 190.2h0M401.4 143.5h0M376.0 167.6h0M361.8 182.9h0M342.0 200.2h0M356.3 186.3h0M401.7 144.0h0M339.2 202.6h0M379.5 164.4h0M399.0 143.8h0M353.8 188.5h0M360.7 181.6h0M386.4 155.8h0M433.3 112.9h0M366.1 176.8h0M359.9 182.0h0M336.7 207.6h0M422.4 122.6h0M393.9 151.0h0M389.8 154.1h0M364.4 180.1h0M368.4 175.7h0M424.9 120.3h0M431.3 115.3h0M401.4 142.1h0M422.4 123.4h0M400.0 143.8h0M395.3 146.7h0M423.3 123.6h0M401.8 141.6h0M430.4 115.2h0M348.9 192.1h0M332.5 208.2h0M403.4 140.2h0M388.5 155.8h0M385.8 159.3h0M371.6 172.5h0M441.1 105.6h0M397.8 147.7h0M374.3 170.2h0M363.1 179.7h0M410.7 133.5h0M399.1 145.8h0M436.6 109.8h0M420.5 125.0h0M405.8 138.0h0M368.3 174.8h0M364.1 180.8h0M396.6 146.8h0M379.4 164.2h0M372.0 171.0h0M418.2 127.2h0M354.4 187.2h0M395.9 148.9h0M373.9 169.9h0M419.4 125.8h0M401.7 142.0h0M358.5 184.5h0M387.8 157.6h0M375.4 167.4h0M356.1 184.6h0M397.0 149.1h0M380.9 161.9h0M351.3 191.9h0M375.4 166.9h0M386.7 156.6h0M419.7 123.4h0M351.8 190.0h0M392.5 151.4h0M384.9 159.0h0M387.4 157.6h0M344.7 197.9h0M362.5 180.2h0M373.9 168.5h0M376.7 166.6h0M372.6 171.8h0M368.3 175.3h0M385.3 158.2h0M332.1 210.6h0M384.2 158.7h0M440.5 104.8h0M371.7 171.1h0M370.3 173.2h0M372.2 171.0h0M356.4 186.8h0M404.7 140.3h0M393.6 150.3h0M415.7 128.2h0M379.2 164.5h0M377.5 165.0h0M393.7 151.3h0M447.8 98.9h0M412.2 131.2h0M403.9 140.4h0M393.3 151.7h0M361.9 181.9h0M407.0 136.4h0M373.5 169.7h0M405.7 138.5h0M406.7 138.2h0M381.6 162.6h0M466.0 80.4h0M390.6 152.5h0M408.5 135.0h0M336.1 206.3h0M383.1 160.8h0M365.3 176.7h0M351.0 192.4h0M411.3 134.0h0M372.4 170.0h0M346.8 195.5h0M396.1 148.0h0M380.1 164.4h0M370.5 172.4h0M379.7 163.0h0M378.3 165.1h0M374.8 168.4h0M421.3 123.7h0M343.6 200.8h0M396.7 146.5h0M411.9 134.2h0M379.8 163.3h0M402.5 140.8h0M384.1 160.4h0M415.8 129.2h0M369.7 172.8h0M361.2 182.2h0M442.3 104.1h0M425.2 121.3h0M413.0 131.4h0M430.1 114.3h0M347.8 194.9h0M361.8 180.2h0M399.7 144.2h0M355.8 186.3h0M418.6 127.1h0M405.1 138.2h0M411.5 132.9h0M394.2 149.6h0M361.2 182.0h0M389.8 155.1h0M374.8 168.8h0M393.3 149.9h0M374.8 169.6h0M395.5 147.5h0M383.6 160.1h0M387.5 156.3h0M383.8 159.1h0M384.2 160.2h0M358.7 184.5h0M398.8 145.6h0M366.0 176.6h0M369.9 173.1h0M411.6 132.3h0M366.3 176.4h0M410.0 135.8h0M388.3 154.1h0M351.2 192.4h0M343.6 196.7h0M385.6 158.2h0M339.5 202.7h0M354.1 190.7h0M399.6 145.7h0M435.4 107.9h0M350.0 193.5h0M407.4 137.8h0M419.6 126.3h0M375.6 167.8h0M419.3 125.4h0M424.7 118.8h0M358.3 184.1h0M370.3 172.1h0M386.1 157.7h0M390.3 151.7h0M377.0 165.5h0M399.1 144.4h0M376.4 168.5h0M413.3 130.6h0M345.4 196.9h0M362.1 181.5h0M421.2 124.1h0M394.3 148.9h0M370.7 171.3h0M378.3 164.8h0M348.1 194.9h0M389.9 153.8h0M401.0 143.5h0M389.8 153.6h0M361.1 181.8h0M374.3 168.3h0M380.8 163.8h0M430.6 113.5h0M339.8 202.3h0M426.2 118.2h0M347.8 193.9h0M414.8 130.6h0M383.5 161.2h0M406.4 138.3h0M331.8 210.1h0M464.6 81.3h0M346.4 195.1h0M374.1 169.6h0M370.4 174.0h0M372.1 171.1h0M395.4 149.9h0M415.0 129.3h0M378.3 165.2h0M340.9 200.0h0M371.1 172.1h0M394.4 150.1h0M345.1 199.0h0M426.0 118.1h0M393.2 151.2h0M393.6 150.8h0M341.9 199.6h0M369.6 172.7h0M426.4 119.0h0M383.7 159.9h0M435.6 109.2h0M338.1 204.8h0M408.2 136.1h0M386.4 156.9h0M377.6 164.5h0M386.5 158.9h0M423.1 121.8h0M358.1 185.9h0M409.3 132.6h0M426.1 117.7h0M392.9 150.8h0M399.4 144.3h0M396.3 147.1h0M384.6 158.9h0M374.6 168.2h0M432.0 113.6h0M433.0 113.0h0M413.7 131.4h0M365.5 177.1h0M400.7 145.6h0M392.4 150.3h0M418.6 128.0h0M386.5 155.7h0M389.3 154.4h0M405.2 138.3h0M392.7 151.0h0M401.6 142.8h0M386.7 157.4h0M401.6 143.3h0M347.8 194.5h0M380.8 162.0h0M452.6 94.6h0M346.5 195.3h0M418.3 126.5h0M427.1 116.8h0M377.7 166.4h0M392.4 151.3h0M420.1 124.4h0M411.4 132.0h0M386.1 157.2h0M406.0 137.3h0M367.3 175.8h0M344.4 198.6h0M404.0 139.5h0M350.4 193.4h0M358.6 183.4h0M362.0 180.9h0M423.4 121.0h0M405.5 139.3h0M458.2 88.5h0M380.3 163.0h0M384.7 159.4h0M365.2 178.3h0M367.6 174.3h0M381.0 161.1h0M349.2 193.3h0M351.7 190.3h0M403.5 139.3h0M401.3 143.6h0M390.1 153.7h0M372.2 171.4h0M359.6 183.8h0M371.2 172.3h0M368.5 175.7h0M395.6 146.5h0M358.6 186.0h0M336.0 206.5h0M416.2 127.6h0M359.3 184.5h0M409.0 136.4h0M368.0 175.5h0M408.7 136.5h0M369.2 174.6h0M397.3 146.4h0M377.3 165.2h0M387.2 156.3h0M365.3 178.1h0M416.2 128.9h0M419.1 124.4h0M421.3 124.0h0M418.6 126.1h0M401.6 143.3h0M413.2 130.2h0M380.5 163.0h0M375.9 169.5h0M372.6 170.7h0M403.4 141.0h0M373.4 169.5h0M366.1 177.5h0M381.8 161.4h0M386.8 157.9h0M419.3 125.6h0M369.1 174.6h0M384.7 158.9h0M406.8 137.6h0M425.9 120.6h0M389.8 154.9h0M376.0 167.1h0M382.0 162.1h0M421.8 122.6h0M374.0 168.0h0M384.7 156.9h0M397.3 147.6h0M345.8 196.9h0M363.2 179.9h0M368.6 175.8h0M434.7 111.2h0M412.1 132.9h0M398.5 145.3h0M365.5 177.6h0M416.6 128.9h0M409.6 134.4h0M407.9 136.2h0M359.1 182.3h0M407.0 138.6h0M380.1 164.4h0M425.1 121.3h0M378.7 165.6h0M402.2 141.3h0M350.6 191.6h0M392.7 150.3h0M401.1 142.7h0M389.9 154.0h0M398.9 144.3h0M397.6 146.1h0M428.5 117.4h0M365.4 178.1h0M407.6 135.9h0M395.9 149.3h0M377.9 165.5h0M346.1 196.2h0M410.6 135.6h0M359.2 184.5h0M373.2 171.0h0M414.0 130.5h0M363.4 179.8h0M365.6 177.9h0M452.1 93.2h0M417.1 128.7h0M419.5 124.5h0M407.1 137.0h0M429.1 115.3h0M371.3 171.2h0M373.1 168.3h0M388.6 155.4h0M378.4 164.9h0M431.2 113.0h0M401.2 143.1h0M376.0 167.6h0M381.0 162.2h0M401.0 143.6h0M417.7 128.5h0M425.3 119.1h0M375.4 167.2h0M391.3 153.1h0M396.7 147.6h0M378.5 166.1h0M419.9 125.4h0M360.4 182.5h0M412.0 133.0h0M413.6 130.0h0M379.0 163.9h0M410.1 135.6h0M413.9 131.2h0M373.5 170.3h0M409.3 135.4h0M354.2 188.2h0M401.4 141.7h0M405.9 138.4h0M376.8 167.4h0M400.5 144.2h0M356.3 186.5h0M373.0 171.8h0M375.7 165.9h0M348.0 194.3h0M347.0 194.8h0M435.4 108.4h0M383.4 160.4h0M361.3 180.9h0M367.8 175.8h0M410.7 134.6h0M378.3 166.1h0M417.7 125.9h0M392.8 151.9h0M410.7 132.8h0M397.2 145.9h0M391.6 152.7h0M384.9 159.6h0M394.5 149.7h0M390.7 153.2h0M404.4 140.0h0M392.8 152.0h0M397.4 146.7h0M358.3 185.3h0M393.9 150.9h0M372.3 169.8h0M397.8 145.1h0M377.6 166.3h0M428.9 116.3h0M398.1 144.8h0M361.2 181.3h0M416.3 128.7h0M404.5 140.3h0M388.7 154.0h0M430.7 113.4h0M372.3 169.1h0M413.8 131.9h0M360.1 182.1h0M410.9 134.3h0M423.6 120.6h0M431.5 113.1h0M412.9 132.0h0M411.4 132.1h0M353.2 189.6h0M363.7 179.9h0M365.6 178.3h0M371.1 172.0h0M406.2 139.2h0M354.8 187.6h0M358.2 184.6h0M410.2 134.3h0M361.1 181.7h0M365.2 177.5h0M377.4 166.3h0M368.6 175.4h0M347.3 194.3h0M410.2 134.5h0M387.5 157.2h0M441.6 102.8h0M373.4 168.1h0M344.7 197.8h0M417.2 128.5h0M382.4 162.3h0M390.0 154.9h0M338.1 205.2h0M335.8 206.3h0M384.4 160.3h0M360.5 182.4h0M380.4 163.3h0M401.2 143.6h0M368.5 173.7h0M382.4 160.9h0M400.0 146.1h0M397.6 146.9h0M354.7 187.8h0M425.3 118.5h0M357.5 185.0h0M415.7 129.7h0M407.3 137.3h0M342.5 201.2h0M416.5 129.4h0M364.7 179.3h0M441.0 104.6h0M389.4 154.0h0M342.6 200.0h0M350.2 192.7h0M388.5 154.4h0M345.6 196.2h0M426.3 118.1h0M407.7 136.2h0M344.0 198.2h0M372.4 170.4h0M338.0 204.3h0M343.8 198.2h0M374.5 171.2h0M383.4 160.3h0M428.4 116.6h0M352.1 190.4h0M412.5 132.9h0M427.9 114.0h0M372.6 171.3h0M466.3 79.3h0M355.7 187.4h0M392.1 151.5h0M385.5 157.8h0M370.0 174.3h0M366.2 178.6h0M403.1 141.0h0M366.4 175.9h0M417.1 128.2h0M367.4 176.5h0M424.4 120.2h0M390.3 153.3h0M371.5 170.3h0M353.4 190.7h0M353.4 190.7h0M367.9 176.3h0M374.7 168.5h0M409.2 135.6h0M347.6 195.5h0M453.3 92.1h0M418.3 127.4h0M393.7 150.5h0M436.5 109.8h0M375.9 166.5h0M348.8 193.3h0M412.3 132.9h0M391.8 152.1h0M382.5 160.8h0M367.5 175.6h0M395.1 149.1h0M420.7 124.7h0M410.5 133.8h0M411.9 132.8h0M414.7 130.4h0M383.8 160.6h0M339.2 201.9h0M395.6 146.0h0M357.6 186.6h0M401.9 142.9h0M347.0 195.9h0M383.2 159.4h0M354.4 189.4h0M401.8 143.0h0M345.0 196.4h0M422.6 122.8h0M374.7 168.7h0M440.1 105.4h0M355.5 189.6h0M380.7 162.2h0M369.4 174.0h0M387.7 155.5h0M405.3 139.6h0M396.6 148.4h0M348.9 193.4h0M397.1 148.7h0M359.2 183.9h0M341.0 201.2h0M364.1 178.9h0M384.7 158.8h0M403.0 142.4h0M415.4 128.6h0M394.7 149.6h0M343.9 197.8h0M398.6 146.4h0M429.0 116.7h0M385.4 158.1h0M379.4 164.4h0M401.3 141.9h0M387.1 158.0h0M439.8 104.9h0M380.7 163.0h0M370.1 173.6h0M378.0 164.8h0M398.9 144.8h0M437.9 106.3h0M377.9 165.6h0M398.6 143.9h0M417.6 128.2h0M407.2 137.6h0M381.6 162.5h0M330.7 209.5h0M383.9 159.7h0M400.7 143.2h0M438.6 106.5h0M410.0 135.3h0M355.6 185.8h0M421.8 123.4h0M400.5 143.0h0M362.1 180.3h0M336.0 206.0h0M368.7 174.4h0M364.6 179.1h0M399.1 144.4h0M409.1 136.3h0M412.5 130.2h0M445.3 98.7h0M392.7 151.6h0M347.9 194.5h0M375.8 169.5h0M344.1 198.7h0M379.8 164.0h0M410.6 134.2h0M406.1 139.2h0M408.2 136.7h0M366.8 177.2h0M334.0 206.7h0M359.2 183.7h0M425.9 119.1h0M383.8 160.5h0M382.9 159.3h0M379.5 163.7h0M388.4 157.2h0M381.3 161.6h0M387.0 157.5h0M387.1 158.1h0M379.6 164.7h0M419.9 125.8h0M403.1 141.3h0M382.4 159.1h0M385.2 159.2h0M404.3 140.5h0M331.3 209.8h0M376.4 165.8h0M374.9 169.8h0M379.8 163.9h0M406.0 137.2h0M388.2 155.8h0M363.0 180.2h0M397.4 146.7h0M378.7 165.8h0M388.0 156.6h0M383.0 161.4h0M397.8 146.6h0M403.6 142.1h0M373.5 168.7h0M388.2 155.0h0M420.9 123.7h0M381.2 163.9h0M385.6 158.3h0M386.2 157.1h0M441.7 103.6h0M347.4 197.0h0M354.3 187.9h0M373.0 172.1h0M366.8 175.9h0M376.5 167.7h0M353.7 190.8h0M348.7 193.3h0M384.9 158.5h0M344.2 197.4h0M445.3 101.2h0M380.0 163.6h0M415.2 129.4h0M422.2 120.6h0M408.6 136.0h0M360.8 182.2h0M378.4 164.3h0M355.6 187.4h0M391.4 151.5h0M341.1 202.4h0" stroke="#74a6de" stroke-width="1.2" stroke-linecap="round" fill="none"/>
<line x1="312.00" y1="229.50" x2="508.00" y2="39.50" stroke="#7d8796" stroke-width="0.6"/>
<line x1="301.40" y1="34.60" x2="301.40" y2="239.90" stroke="#231f20" stroke-width="1.35"/>
<line x1="300.70" y1="239.30" x2="512.60" y2="239.30" stroke="#231f20" stroke-width="1.4"/>
<line x1="298.10" y1="229.50" x2="301.40" y2="229.50" stroke="#231f20" stroke-width="1.0"/>
<text x="285.40" y="232.40" font-size="9" textLength="10.15" lengthAdjust="spacingAndGlyphs" stroke="#231f20" stroke-width="0.12">20</text>
<line x1="312.00" y1="239.20" x2="312.00" y2="242.60" stroke="#231f20" stroke-width="1.0"/>
<text x="306.80" y="252.70" font-size="9" textLength="10.15" lengthAdjust="spacingAndGlyphs" stroke="#231f20" stroke-width="0.12">20</text>
<line x1="298.10" y1="182.00" x2="301.40" y2="182.00" stroke="#231f20" stroke-width="1.0"/>
<text x="285.40" y="184.90" font-size="9" textLength="10.15" lengthAdjust="spacingAndGlyphs" stroke="#231f20" stroke-width="0.12">25</text>
<line x1="361.00" y1="239.20" x2="361.00" y2="242.60" stroke="#231f20" stroke-width="1.0"/>
<text x="355.80" y="252.70" font-size="9" textLength="10.15" lengthAdjust="spacingAndGlyphs" stroke="#231f20" stroke-width="0.12">25</text>
<line x1="298.10" y1="134.50" x2="301.40" y2="134.50" stroke="#231f20" stroke-width="1.0"/>
<text x="285.65" y="137.40" font-size="9" textLength="9.89" lengthAdjust="spacingAndGlyphs" stroke="#231f20" stroke-width="0.12">30</text>
<line x1="410.00" y1="239.20" x2="410.00" y2="242.60" stroke="#231f20" stroke-width="1.0"/>
<text x="405.05" y="252.70" font-size="9" textLength="9.89" lengthAdjust="spacingAndGlyphs" stroke="#231f20" stroke-width="0.12">30</text>
<line x1="298.10" y1="87.00" x2="301.40" y2="87.00" stroke="#231f20" stroke-width="1.0"/>
<text x="285.65" y="89.90" font-size="9" textLength="9.89" lengthAdjust="spacingAndGlyphs" stroke="#231f20" stroke-width="0.12">35</text>
<line x1="459.00" y1="239.20" x2="459.00" y2="242.60" stroke="#231f20" stroke-width="1.0"/>
<text x="454.05" y="252.70" font-size="9" textLength="9.89" lengthAdjust="spacingAndGlyphs" stroke="#231f20" stroke-width="0.12">35</text>
<line x1="298.10" y1="39.50" x2="301.40" y2="39.50" stroke="#231f20" stroke-width="1.0"/>
<text x="285.65" y="42.40" font-size="9" textLength="9.89" lengthAdjust="spacingAndGlyphs" stroke="#231f20" stroke-width="0.12">40</text>
<line x1="508.00" y1="239.20" x2="508.00" y2="242.60" stroke="#231f20" stroke-width="1.0"/>
<text x="503.05" y="252.70" font-size="9" textLength="9.89" lengthAdjust="spacingAndGlyphs" stroke="#231f20" stroke-width="0.12">40</text>
<text x="379.90" y="266.90" font-size="10" textLength="54.50" lengthAdjust="spacingAndGlyphs">Log<tspan font-size="7" dy="2.3">2</tspan><tspan dy="-2.3"> A-cell LFQ</tspan></text>
<g transform="translate(277.90,0) rotate(-90)">
<text x="-163.50" y="0.00" font-size="10" textLength="52.10" lengthAdjust="spacingAndGlyphs">Log<tspan font-size="7" dy="2.3">2</tspan><tspan dy="-2.3"> F-cell LFQ</tspan></text>
</g>
<text x="323.95" y="62.60" font-size="8" textLength="54.01" lengthAdjust="spacingAndGlyphs" stroke="#231f20" stroke-width="0.12">F-cell enriched</text>
<text x="330.80" y="71.70" font-size="8" textLength="40.30" lengthAdjust="spacingAndGlyphs" stroke="#231f20" stroke-width="0.12">19 proteins</text>
<text x="446.40" y="137.80" font-size="8" textLength="55.20" lengthAdjust="spacingAndGlyphs" stroke="#231f20" stroke-width="0.12">A-cell enriched</text>
<text x="455.35" y="146.70" font-size="8" textLength="37.05" lengthAdjust="spacingAndGlyphs" stroke="#231f20" stroke-width="0.12">5 proteins</text>
<text x="409.20" y="71.30" font-size="8" textLength="20.80" lengthAdjust="spacingAndGlyphs" stroke="#231f20" stroke-width="0.12">HBG1</text>
<text x="360.95" y="111.30" font-size="8" textLength="21.87" lengthAdjust="spacingAndGlyphs" stroke="#231f20" stroke-width="0.12">HBG2</text>
<text x="382.60" y="130.10" font-size="8" textLength="15.34" lengthAdjust="spacingAndGlyphs" stroke="#231f20" stroke-width="0.12">HBZ</text>
<text x="445.50" y="200.00" font-size="8" textLength="16.91" lengthAdjust="spacingAndGlyphs" stroke="#231f20" stroke-width="0.12">DEG</text>
<text x="445.70" y="212.30" font-size="8" textLength="28.45" lengthAdjust="spacingAndGlyphs" stroke="#231f20" stroke-width="0.12">Globins</text>
<text x="449.05" y="223.80" font-size="8" textLength="39.56" lengthAdjust="spacingAndGlyphs" stroke="#231f20" stroke-width="0.12">Regulators</text>
<circle cx="470.00" cy="196.90" r="3.4" fill="#d42a2a" stroke="#3a1a1a" stroke-width="0.7"/>
<circle cx="481.90" cy="209.80" r="3.4" fill="#f5ea2a" stroke="#3a3a2a" stroke-width="0.7"/>
<circle cx="494.60" cy="221.20" r="3.4" fill="#7f2a8f" stroke="#2a1a2a" stroke-width="0.7"/>
<circle cx="350.80" cy="152.70" r="1.6" fill="#d42228" stroke="#5a1010" stroke-width="0.5"/>
<circle cx="381.40" cy="151.20" r="1.6" fill="#d42228" stroke="#5a1010" stroke-width="0.5"/>
<circle cx="382.60" cy="150.00" r="1.6" fill="#d42228" stroke="#5a1010" stroke-width="0.5"/>
<circle cx="342.00" cy="166.60" r="1.6" fill="#d42228" stroke="#5a1010" stroke-width="0.5"/>
<circle cx="361.80" cy="166.60" r="1.6" fill="#d42228" stroke="#5a1010" stroke-width="0.5"/>
<circle cx="358.20" cy="174.60" r="1.6" fill="#d42228" stroke="#5a1010" stroke-width="0.5"/>
<circle cx="394.60" cy="161.50" r="1.6" fill="#d42228" stroke="#5a1010" stroke-width="0.5"/>
<circle cx="338.60" cy="187.50" r="1.6" fill="#d42228" stroke="#5a1010" stroke-width="0.5"/>
<circle cx="341.50" cy="190.70" r="1.6" fill="#d42228" stroke="#5a1010" stroke-width="0.5"/>
<circle cx="339.90" cy="191.30" r="1.6" fill="#d42228" stroke="#5a1010" stroke-width="0.5"/>
<circle cx="336.40" cy="193.40" r="1.6" fill="#d42228" stroke="#5a1010" stroke-width="0.5"/>
<circle cx="330.80" cy="194.50" r="1.6" fill="#d42228" stroke="#5a1010" stroke-width="0.5"/>
<circle cx="329.90" cy="196.10" r="1.6" fill="#d42228" stroke="#5a1010" stroke-width="0.5"/>
<circle cx="335.50" cy="196.30" r="1.6" fill="#d42228" stroke="#5a1010" stroke-width="0.5"/>
<circle cx="329.20" cy="198.60" r="1.6" fill="#d42228" stroke="#5a1010" stroke-width="0.5"/>
<circle cx="357.80" cy="196.10" r="1.6" fill="#d42228" stroke="#5a1010" stroke-width="0.5"/>
<circle cx="349.00" cy="210.60" r="1.6" fill="#d42228" stroke="#5a1010" stroke-width="0.5"/>
<circle cx="343.10" cy="218.40" r="1.6" fill="#d42228" stroke="#5a1010" stroke-width="0.5"/>
<circle cx="312.30" cy="207.10" r="1.6" fill="#d42228" stroke="#5a1010" stroke-width="0.5"/>
<circle cx="313.10" cy="211.80" r="1.6" fill="#d42228" stroke="#5a1010" stroke-width="0.5"/>
<circle cx="367.80" cy="229.40" r="1.6" fill="#d42228" stroke="#5a1010" stroke-width="0.5"/>
<circle cx="371.90" cy="116.20" r="1.8" fill="#eaa53a" stroke="#6a4a10" stroke-width="0.5"/>
<circle cx="394.80" cy="134.90" r="1.8" fill="#eaa53a" stroke="#6a4a10" stroke-width="0.5"/>
<circle cx="418.60" cy="75.50" r="1.8" fill="#eaa53a" stroke="#6a4a10" stroke-width="0.5"/>
<circle cx="365.70" cy="170.00" r="1.75" fill="#f0e23a" stroke="#5a5a2a" stroke-width="0.5"/>
<circle cx="399.70" cy="142.00" r="1.75" fill="#f0e23a" stroke="#5a5a2a" stroke-width="0.5"/>
<circle cx="377.40" cy="165.60" r="1.75" fill="#c8be48" stroke="#5a5a2a" stroke-width="0.5"/>
<circle cx="366.70" cy="175.40" r="1.7" fill="#8a3a9a" stroke="#3a1a3a" stroke-width="0.5"/>
<circle cx="334.20" cy="204.90" r="1.7" fill="#8a3a9a" stroke="#3a1a3a" stroke-width="0.5"/>
<circle cx="413.30" cy="128.40" r="1.7" fill="#8a3a9a" stroke="#3a1a3a" stroke-width="0.5"/>
<line x1="41.10" y1="300.45" x2="253.50" y2="300.45" stroke="#231f20" stroke-width="1.25"/>
<line x1="41.10" y1="326.10" x2="253.50" y2="326.10" stroke="#231f20" stroke-width="1.3"/>
<line x1="41.10" y1="390.45" x2="253.50" y2="390.45" stroke="#231f20" stroke-width="1.25"/>
<text x="47.60" y="311.00" font-size="9.2" textLength="40.25" lengthAdjust="spacingAndGlyphs" font-weight="bold" stroke="#231f20" stroke-width="0.25">Transcript</text>
<text x="102.05" y="311.00" font-size="9.2" textLength="23.30" lengthAdjust="spacingAndGlyphs" font-weight="bold" stroke="#231f20" stroke-width="0.25">A-cell</text>
<text x="102.30" y="320.70" font-size="9.2" textLength="22.80" lengthAdjust="spacingAndGlyphs" font-weight="bold" stroke="#231f20" stroke-width="0.25">reads</text>
<text x="143.75" y="311.00" font-size="9.2" textLength="23.06" lengthAdjust="spacingAndGlyphs" font-weight="bold" stroke="#231f20" stroke-width="0.25">F-cell</text>
<text x="143.50" y="320.70" font-size="9.2" textLength="23.05" lengthAdjust="spacingAndGlyphs" font-weight="bold" stroke="#231f20" stroke-width="0.25">reads</text>
<text x="185.75" y="311.00" font-size="9.2" textLength="18.47" lengthAdjust="spacingAndGlyphs" font-weight="bold" stroke="#231f20" stroke-width="0.25">Fold</text>
<text x="180.25" y="320.70" font-size="9.2" textLength="29.24" lengthAdjust="spacingAndGlyphs" font-weight="bold" stroke="#231f20" stroke-width="0.25">change</text>
<text x="226.00" y="311.00" font-size="9.2" textLength="16.80" lengthAdjust="spacingAndGlyphs" font-weight="bold" stroke="#231f20" stroke-width="0.25">FDR</text>
<text x="52.95" y="336.40" font-size="8.6" textLength="29.80" lengthAdjust="spacingAndGlyphs" stroke="#231f20" stroke-width="0.12">BCL11A</text>
<text x="104.40" y="336.40" font-size="8.6" textLength="17.84" lengthAdjust="spacingAndGlyphs" stroke="#231f20" stroke-width="0.12">2670</text>
<text x="145.20" y="336.40" font-size="8.6" textLength="20.30" lengthAdjust="spacingAndGlyphs" stroke="#231f20" stroke-width="0.12">2200</text>
<text x="186.45" y="336.40" font-size="8.6" textLength="16.34" lengthAdjust="spacingAndGlyphs" stroke="#231f20" stroke-width="0.12">0.82</text>
<text x="225.85" y="336.40" font-size="8.6" textLength="17.20" lengthAdjust="spacingAndGlyphs" stroke="#231f20" stroke-width="0.12">0.24</text>
<text x="60.60" y="348.55" font-size="8.6" textLength="14.65" lengthAdjust="spacingAndGlyphs" stroke="#231f20" stroke-width="0.12">LRF</text>
<text x="106.75" y="348.55" font-size="8.6" textLength="13.35" lengthAdjust="spacingAndGlyphs" stroke="#231f20" stroke-width="0.12">481</text>
<text x="148.05" y="348.55" font-size="8.6" textLength="14.50" lengthAdjust="spacingAndGlyphs" stroke="#231f20" stroke-width="0.12">496</text>
<text x="186.80" y="348.55" font-size="8.6" textLength="15.69" lengthAdjust="spacingAndGlyphs" stroke="#231f20" stroke-width="0.12">1.04</text>
<text x="226.25" y="348.55" font-size="8.6" textLength="16.85" lengthAdjust="spacingAndGlyphs" stroke="#231f20" stroke-width="0.12">0.98</text>
<text x="51.35" y="360.70" font-size="8.6" textLength="32.91" lengthAdjust="spacingAndGlyphs" stroke="#231f20" stroke-width="0.12">EIF2AK1</text>
<text x="102.20" y="360.70" font-size="8.6" textLength="23.10" lengthAdjust="spacingAndGlyphs" stroke="#231f20" stroke-width="0.12">17988</text>
<text x="143.10" y="360.70" font-size="8.6" textLength="23.45" lengthAdjust="spacingAndGlyphs" stroke="#231f20" stroke-width="0.12">19152</text>
<text x="186.45" y="360.70" font-size="8.6" textLength="16.34" lengthAdjust="spacingAndGlyphs" stroke="#231f20" stroke-width="0.12">0.89</text>
<text x="225.85" y="360.70" font-size="8.6" textLength="17.19" lengthAdjust="spacingAndGlyphs" stroke="#231f20" stroke-width="0.12">0.89</text>
<text x="56.50" y="372.85" font-size="8.6" textLength="23.30" lengthAdjust="spacingAndGlyphs" stroke="#231f20" stroke-width="0.12">SPOP</text>
<text x="104.40" y="372.85" font-size="8.6" textLength="17.80" lengthAdjust="spacingAndGlyphs" stroke="#231f20" stroke-width="0.12">1823</text>
<text x="146.70" y="372.85" font-size="8.6" textLength="17.65" lengthAdjust="spacingAndGlyphs" stroke="#231f20" stroke-width="0.12">1727</text>
<text x="186.45" y="372.85" font-size="8.6" textLength="16.35" lengthAdjust="spacingAndGlyphs" stroke="#231f20" stroke-width="0.12">0.95</text>
<text x="226.25" y="372.85" font-size="8.6" textLength="16.84" lengthAdjust="spacingAndGlyphs" stroke="#231f20" stroke-width="0.12">0.92</text>
<text x="52.95" y="385.00" font-size="8.6" textLength="29.17" lengthAdjust="spacingAndGlyphs" stroke="#231f20" stroke-width="0.12">LIN28B</text>
<text x="107.85" y="385.00" font-size="8.6" textLength="11.19" lengthAdjust="spacingAndGlyphs" stroke="#231f20" stroke-width="0.12">4.9</text>
<text x="146.30" y="385.00" font-size="8.6" textLength="16.76" lengthAdjust="spacingAndGlyphs" stroke="#231f20" stroke-width="0.12">62.7</text>
<text x="186.80" y="385.00" font-size="8.6" textLength="16.30" lengthAdjust="spacingAndGlyphs" stroke="#231f20" stroke-width="0.12">10.4</text>
<text x="221.55" y="385.00" font-size="8.6" textLength="24.35" lengthAdjust="spacingAndGlyphs" stroke="#231f20" stroke-width="0.12">4.7E-8</text>
<line x1="296.20" y1="300.45" x2="512.50" y2="300.45" stroke="#231f20" stroke-width="1.25"/>
<line x1="296.20" y1="326.10" x2="512.50" y2="326.10" stroke="#231f20" stroke-width="1.3"/>
<line x1="296.20" y1="390.45" x2="512.50" y2="390.45" stroke="#231f20" stroke-width="1.25"/>
<text x="307.50" y="311.00" font-size="9.2" textLength="30.56" lengthAdjust="spacingAndGlyphs" font-weight="bold" stroke="#231f20" stroke-width="0.25">Protein</text>
<text x="356.75" y="311.00" font-size="9.2" textLength="23.30" lengthAdjust="spacingAndGlyphs" font-weight="bold" stroke="#231f20" stroke-width="0.25">A-cell</text>
<text x="348.75" y="320.70" font-size="9.2" textLength="39.05" lengthAdjust="spacingAndGlyphs" font-weight="bold" stroke="#231f20" stroke-width="0.25">Log<tspan font-size="6.8" dy="2.0">2</tspan><tspan dy="-2.0"> LFQ</tspan></text>
<text x="403.25" y="311.00" font-size="9.2" textLength="22.31" lengthAdjust="spacingAndGlyphs" font-weight="bold" stroke="#231f20" stroke-width="0.25">F-cell</text>
<text x="395.00" y="320.70" font-size="9.2" textLength="38.55" lengthAdjust="spacingAndGlyphs" font-weight="bold" stroke="#231f20" stroke-width="0.25">Log<tspan font-size="6.8" dy="2.0">2</tspan><tspan dy="-2.0"> LFQ</tspan></text>
<text x="445.00" y="311.00" font-size="9.2" textLength="18.07" lengthAdjust="spacingAndGlyphs" font-weight="bold" stroke="#231f20" stroke-width="0.25">Fold</text>
<text x="439.00" y="320.70" font-size="9.2" textLength="29.55" lengthAdjust="spacingAndGlyphs" font-weight="bold" stroke="#231f20" stroke-width="0.25">change</text>
<text x="478.25" y="311.00" font-size="9.2" textLength="29.55" lengthAdjust="spacingAndGlyphs" font-weight="bold" stroke="#231f20" stroke-width="0.25">P-value</text>
<text x="307.45" y="336.40" font-size="8.6" textLength="29.45" lengthAdjust="spacingAndGlyphs" stroke="#231f20" stroke-width="0.12">BCL11A</text>
<text x="357.70" y="336.40" font-size="8.6" textLength="20.44" lengthAdjust="spacingAndGlyphs" stroke="#231f20" stroke-width="0.12">21.84</text>
<text x="402.95" y="336.40" font-size="8.6" textLength="21.45" lengthAdjust="spacingAndGlyphs" stroke="#231f20" stroke-width="0.12">22.58</text>
<text x="446.00" y="336.40" font-size="8.6" textLength="16.30" lengthAdjust="spacingAndGlyphs" stroke="#231f20" stroke-width="0.12">1.68</text>
<text x="485.05" y="336.40" font-size="8.6" textLength="15.50" lengthAdjust="spacingAndGlyphs" stroke="#231f20" stroke-width="0.12">0.51</text>
<text x="315.20" y="348.55" font-size="8.6" textLength="14.45" lengthAdjust="spacingAndGlyphs" stroke="#231f20" stroke-width="0.12">LRF</text>
<text x="357.70" y="348.55" font-size="8.6" textLength="21.20" lengthAdjust="spacingAndGlyphs" stroke="#231f20" stroke-width="0.12">22.59</text>
<text x="402.95" y="348.55" font-size="8.6" textLength="21.45" lengthAdjust="spacingAndGlyphs" stroke="#231f20" stroke-width="0.12">25.67</text>
<text x="446.00" y="348.55" font-size="8.6" textLength="16.30" lengthAdjust="spacingAndGlyphs" stroke="#231f20" stroke-width="0.12">1.06</text>
<text x="485.05" y="348.55" font-size="8.6" textLength="16.39" lengthAdjust="spacingAndGlyphs" stroke="#231f20" stroke-width="0.12">0.64</text>
<text x="306.45" y="360.70" font-size="8.6" textLength="32.46" lengthAdjust="spacingAndGlyphs" stroke="#231f20" stroke-width="0.12">EIF2AK1</text>
<text x="357.70" y="360.70" font-size="8.6" textLength="20.44" lengthAdjust="spacingAndGlyphs" stroke="#231f20" stroke-width="0.12">26.74</text>
<text x="402.95" y="360.70" font-size="8.6" textLength="21.45" lengthAdjust="spacingAndGlyphs" stroke="#231f20" stroke-width="0.12">27.01</text>
<text x="447.75" y="360.70" font-size="8.6" textLength="12.39" lengthAdjust="spacingAndGlyphs" stroke="#231f20" stroke-width="0.12">1.2</text>
<text x="485.55" y="360.70" font-size="8.6" textLength="15.89" lengthAdjust="spacingAndGlyphs" stroke="#231f20" stroke-width="0.12">0.10</text>
<text x="311.45" y="372.85" font-size="8.6" textLength="21.95" lengthAdjust="spacingAndGlyphs" stroke="#231f20" stroke-width="0.12">SPOP</text>
<text x="361.20" y="372.85" font-size="8.6" textLength="13.48" lengthAdjust="spacingAndGlyphs" stroke="#231f20" stroke-width="0.12">ND</text>
<text x="407.45" y="372.85" font-size="8.6" textLength="13.23" lengthAdjust="spacingAndGlyphs" stroke="#231f20" stroke-width="0.12">ND</text>
<text x="308.70" y="385.00" font-size="8.6" textLength="27.21" lengthAdjust="spacingAndGlyphs" stroke="#231f20" stroke-width="0.12">LIN28B</text>
<text x="361.20" y="385.00" font-size="8.6" textLength="13.48" lengthAdjust="spacingAndGlyphs" stroke="#231f20" stroke-width="0.12">ND</text>
<text x="407.45" y="385.00" font-size="8.6" textLength="13.23" lengthAdjust="spacingAndGlyphs" stroke="#231f20" stroke-width="0.12">ND</text>
<line x1="44.25" y1="421.10" x2="44.25" y2="480.10" stroke="#231f20" stroke-width="1.35"/>
<line x1="43.65" y1="479.50" x2="132.50" y2="479.50" stroke="#231f20" stroke-width="1.3"/>
<line x1="41.45" y1="479.50" x2="44.25" y2="479.50" stroke="#231f20" stroke-width="1.0"/>
<text x="35.60" y="482.40" font-size="8.8" text-anchor="middle" stroke="#231f20" stroke-width="0.12">0</text>
<line x1="41.45" y1="451.60" x2="44.25" y2="451.60" stroke="#231f20" stroke-width="1.0"/>
<text x="35.60" y="454.50" font-size="8.8" text-anchor="middle" stroke="#231f20" stroke-width="0.12">1</text>
<line x1="41.45" y1="423.70" x2="44.25" y2="423.70" stroke="#231f20" stroke-width="1.0"/>
<text x="35.60" y="426.60" font-size="8.8" text-anchor="middle" stroke="#231f20" stroke-width="0.12">2</text>
<rect x="57.65" y="452.15" width="23.30" height="27.35" fill="#cd8d80" stroke="#c5847a" stroke-width="0.7"/>
<rect x="95.35" y="459.15" width="23.30" height="20.35" fill="#9097b9" stroke="#868db2" stroke-width="0.7"/>
<line x1="69.30" y1="479.50" x2="69.30" y2="482.10" stroke="#231f20" stroke-width="0.9"/>
<line x1="107.00" y1="479.50" x2="107.00" y2="482.10" stroke="#231f20" stroke-width="0.9"/>
<text x="66.50" y="493.30" font-size="8.2" textLength="5.72" lengthAdjust="spacingAndGlyphs" stroke="#231f20" stroke-width="0.12">A</text>
<text x="104.15" y="493.30" font-size="8.2" textLength="5.13" lengthAdjust="spacingAndGlyphs" stroke="#231f20" stroke-width="0.12">F</text>
<line x1="69.30" y1="450.50" x2="69.30" y2="452.30" stroke="#4a4a4a" stroke-width="1.1"/>
<line x1="62.00" y1="450.50" x2="76.60" y2="450.50" stroke="#231f20" stroke-width="1.1"/>
<line x1="62.00" y1="452.30" x2="76.60" y2="452.30" stroke="#231f20" stroke-width="1.1"/>
<line x1="107.00" y1="455.40" x2="107.00" y2="460.80" stroke="#4a4a4a" stroke-width="1.1"/>
<line x1="100.90" y1="455.40" x2="113.10" y2="455.40" stroke="#231f20" stroke-width="1.1"/>
<line x1="100.90" y1="460.80" x2="113.10" y2="460.80" stroke="#231f20" stroke-width="1.1"/>
<circle cx="62.20" cy="452.30" r="1.7" fill="#c0182a" stroke="#80101a" stroke-width="0.3"/>
<circle cx="69.30" cy="450.30" r="1.7" fill="#c0182a" stroke="#80101a" stroke-width="0.3"/>
<circle cx="76.50" cy="452.00" r="1.7" fill="#c0182a" stroke="#80101a" stroke-width="0.3"/>
<rect x="101.50" y="455.50" width="3.00" height="3.00" fill="#2a5aa8"/>
<rect x="109.30" y="453.90" width="3.00" height="3.00" fill="#2a5aa8"/>
<circle cx="107.00" cy="460.80" r="1.7" fill="#2a5aa8" stroke="#1a3a7a" stroke-width="0.3"/>
<text x="101.25" y="448.90" font-size="7.6" textLength="11.54" lengthAdjust="spacingAndGlyphs" stroke="#231f20" stroke-width="0.12">NS</text>
<g transform="translate(27.30,0) rotate(-90)">
<text x="-463.05" y="0.00" font-size="9.8" textLength="25.90" lengthAdjust="spacingAndGlyphs" font-style="italic" stroke="#231f20" stroke-width="0.08">BCL11A</text>
</g>
<line x1="172.50" y1="421.10" x2="172.50" y2="480.10" stroke="#231f20" stroke-width="1.35"/>
<line x1="171.90" y1="479.50" x2="260.75" y2="479.50" stroke="#231f20" stroke-width="1.3"/>
<line x1="169.70" y1="479.50" x2="172.50" y2="479.50" stroke="#231f20" stroke-width="1.0"/>
<text x="163.85" y="482.40" font-size="8.8" text-anchor="middle" stroke="#231f20" stroke-width="0.12">0</text>
<line x1="169.70" y1="451.60" x2="172.50" y2="451.60" stroke="#231f20" stroke-width="1.0"/>
<text x="163.85" y="454.50" font-size="8.8" text-anchor="middle" stroke="#231f20" stroke-width="0.12">1</text>
<line x1="169.70" y1="423.70" x2="172.50" y2="423.70" stroke="#231f20" stroke-width="1.0"/>
<text x="163.85" y="426.60" font-size="8.8" text-anchor="middle" stroke="#231f20" stroke-width="0.12">2</text>
<rect x="186.65" y="452.15" width="23.50" height="27.35" fill="#cd8d80" stroke="#c5847a" stroke-width="0.7"/>
<rect x="224.15" y="451.95" width="23.50" height="27.55" fill="#9097b9" stroke="#868db2" stroke-width="0.7"/>
<line x1="198.40" y1="479.50" x2="198.40" y2="482.10" stroke="#231f20" stroke-width="0.9"/>
<line x1="235.90" y1="479.50" x2="235.90" y2="482.10" stroke="#231f20" stroke-width="0.9"/>
<text x="195.60" y="493.30" font-size="8.2" textLength="5.72" lengthAdjust="spacingAndGlyphs" stroke="#231f20" stroke-width="0.12">A</text>
<text x="233.05" y="493.30" font-size="8.2" textLength="5.13" lengthAdjust="spacingAndGlyphs" stroke="#231f20" stroke-width="0.12">F</text>
<line x1="198.40" y1="447.50" x2="198.40" y2="455.00" stroke="#4a4a4a" stroke-width="1.1"/>
<line x1="192.20" y1="447.50" x2="204.60" y2="447.50" stroke="#231f20" stroke-width="1.1"/>
<line x1="192.20" y1="455.00" x2="204.60" y2="455.00" stroke="#231f20" stroke-width="1.1"/>
<line x1="235.90" y1="448.30" x2="235.90" y2="454.50" stroke="#4a4a4a" stroke-width="1.1"/>
<line x1="229.90" y1="448.30" x2="241.90" y2="448.30" stroke="#231f20" stroke-width="1.1"/>
<line x1="229.90" y1="454.50" x2="241.90" y2="454.50" stroke="#231f20" stroke-width="1.1"/>
<circle cx="198.30" cy="447.60" r="1.7" fill="#c0182a" stroke="#80101a" stroke-width="0.3"/>
<circle cx="194.50" cy="453.70" r="1.7" fill="#c0182a" stroke="#80101a" stroke-width="0.3"/>
<circle cx="202.00" cy="453.30" r="1.7" fill="#c0182a" stroke="#80101a" stroke-width="0.3"/>
<circle cx="232.50" cy="448.30" r="1.7" fill="#2a5aa8" stroke="#1a3a7a" stroke-width="0.3"/>
<rect x="238.00" y="449.80" width="3.00" height="3.00" fill="#2a5aa8"/>
<circle cx="232.50" cy="454.00" r="1.7" fill="#2a5aa8" stroke="#1a3a7a" stroke-width="0.3"/>
<text x="230.00" y="441.30" font-size="7.6" textLength="11.58" lengthAdjust="spacingAndGlyphs" stroke="#231f20" stroke-width="0.12">NS</text>
<g transform="translate(156.60,0) rotate(-90)">
<text x="-455.95" y="0.00" font-size="9.8" textLength="12.12" lengthAdjust="spacingAndGlyphs" font-style="italic" stroke="#231f20" stroke-width="0.08">LRF</text>
</g>
<line x1="302.00" y1="421.10" x2="302.00" y2="480.10" stroke="#231f20" stroke-width="1.35"/>
<line x1="301.40" y1="479.50" x2="389.50" y2="479.50" stroke="#231f20" stroke-width="1.3"/>
<line x1="299.20" y1="479.50" x2="302.00" y2="479.50" stroke="#231f20" stroke-width="1.0"/>
<text x="293.35" y="482.40" font-size="8.8" text-anchor="middle" stroke="#231f20" stroke-width="0.12">0</text>
<line x1="299.20" y1="465.55" x2="302.00" y2="465.55" stroke="#231f20" stroke-width="1.0"/>
<text x="293.35" y="468.45" font-size="8.8" text-anchor="middle" stroke="#231f20" stroke-width="0.12">1</text>
<line x1="299.20" y1="451.60" x2="302.00" y2="451.60" stroke="#231f20" stroke-width="1.0"/>
<text x="293.35" y="454.50" font-size="8.8" text-anchor="middle" stroke="#231f20" stroke-width="0.12">2</text>
<line x1="299.20" y1="437.65" x2="302.00" y2="437.65" stroke="#231f20" stroke-width="1.0"/>
<text x="293.35" y="440.55" font-size="8.8" text-anchor="middle" stroke="#231f20" stroke-width="0.12">3</text>
<line x1="299.20" y1="423.70" x2="302.00" y2="423.70" stroke="#231f20" stroke-width="1.0"/>
<text x="293.35" y="426.60" font-size="8.8" text-anchor="middle" stroke="#231f20" stroke-width="0.12">4</text>
<rect x="315.35" y="466.15" width="23.50" height="13.35" fill="#cd8d80" stroke="#c5847a" stroke-width="0.7"/>
<rect x="353.35" y="441.65" width="23.30" height="37.85" fill="#9097b9" stroke="#868db2" stroke-width="0.7"/>
<line x1="327.10" y1="479.50" x2="327.10" y2="482.10" stroke="#231f20" stroke-width="0.9"/>
<line x1="365.00" y1="479.50" x2="365.00" y2="482.10" stroke="#231f20" stroke-width="0.9"/>
<text x="324.30" y="493.30" font-size="8.2" textLength="5.72" lengthAdjust="spacingAndGlyphs" stroke="#231f20" stroke-width="0.12">A</text>
<text x="362.15" y="493.30" font-size="8.2" textLength="5.13" lengthAdjust="spacingAndGlyphs" stroke="#231f20" stroke-width="0.12">F</text>
<line x1="327.10" y1="463.30" x2="327.10" y2="467.00" stroke="#4a4a4a" stroke-width="1.1"/>
<line x1="320.90" y1="463.30" x2="333.30" y2="463.30" stroke="#231f20" stroke-width="1.1"/>
<line x1="320.90" y1="467.00" x2="333.30" y2="467.00" stroke="#231f20" stroke-width="1.1"/>
<line x1="365.00" y1="432.00" x2="365.00" y2="449.50" stroke="#4a4a4a" stroke-width="1.1"/>
<line x1="358.30" y1="432.00" x2="371.70" y2="432.00" stroke="#231f20" stroke-width="1.1"/>
<line x1="358.30" y1="449.50" x2="371.70" y2="449.50" stroke="#231f20" stroke-width="1.1"/>
<circle cx="321.30" cy="467.00" r="1.7" fill="#c0182a" stroke="#80101a" stroke-width="0.3"/>
<circle cx="327.50" cy="463.30" r="1.7" fill="#c0182a" stroke="#80101a" stroke-width="0.3"/>
<circle cx="334.50" cy="466.00" r="1.7" fill="#c0182a" stroke="#80101a" stroke-width="0.3"/>
<rect x="363.50" y="429.80" width="3.00" height="3.00" fill="#2a5aa8"/>
<circle cx="365.00" cy="443.00" r="1.7" fill="#2a5aa8" stroke="#1a3a7a" stroke-width="0.3"/>
<circle cx="365.00" cy="447.50" r="1.7" fill="#2a5aa8" stroke="#1a3a7a" stroke-width="0.3"/>
<text x="361.75" y="426.80" font-size="7.6" textLength="6.78" lengthAdjust="spacingAndGlyphs" stroke="#231f20" stroke-width="0.12">**</text>
<g transform="translate(285.70,0) rotate(-90)">
<text x="-462.35" y="0.00" font-size="9.8" textLength="25.09" lengthAdjust="spacingAndGlyphs" font-style="italic" stroke="#231f20" stroke-width="0.08">LIN28B</text>
</g>
<rect x="0" y="0" width="520" height="502" fill="none" stroke="#000" stroke-width="2.5"/>
</svg>
</body></html>
